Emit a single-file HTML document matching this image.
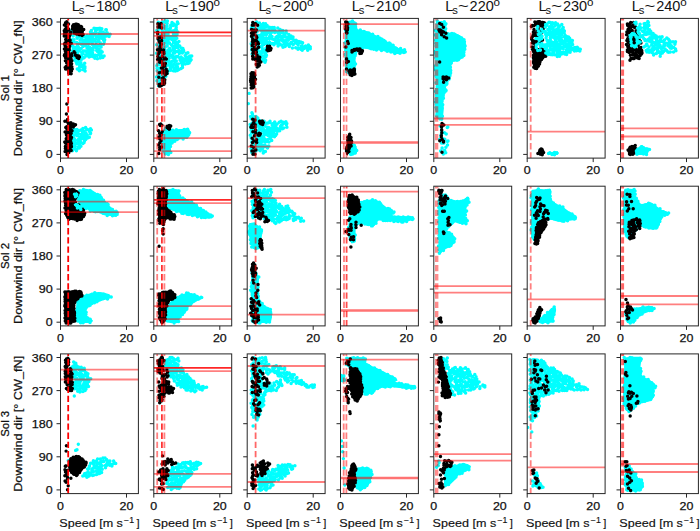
<!DOCTYPE html><html><head><meta charset="utf-8"><style>html,body{margin:0;padding:0;background:#fff;}svg{display:block;}text{font-family:"Liberation Sans", sans-serif;fill:#111;stroke:#111;stroke-width:0.25px;}</style></head><body>
<svg width="700" height="531" viewBox="0 0 700 531">
<rect x="0" y="0" width="700" height="531" fill="#fff"/>
<defs>
<clipPath id="c00"><rect x="60.5" y="18.4" width="77.9" height="139.7"/></clipPath>
<clipPath id="c01"><rect x="153.8" y="18.4" width="77.9" height="139.7"/></clipPath>
<clipPath id="c02"><rect x="247.2" y="18.4" width="77.9" height="139.7"/></clipPath>
<clipPath id="c03"><rect x="340.5" y="18.4" width="77.9" height="139.7"/></clipPath>
<clipPath id="c04"><rect x="433.8" y="18.4" width="77.9" height="139.7"/></clipPath>
<clipPath id="c05"><rect x="527.2" y="18.4" width="77.9" height="139.7"/></clipPath>
<clipPath id="c06"><rect x="620.5" y="18.4" width="77.9" height="139.7"/></clipPath>
<clipPath id="c10"><rect x="60.5" y="186.2" width="77.9" height="139.7"/></clipPath>
<clipPath id="c11"><rect x="153.8" y="186.2" width="77.9" height="139.7"/></clipPath>
<clipPath id="c12"><rect x="247.2" y="186.2" width="77.9" height="139.7"/></clipPath>
<clipPath id="c13"><rect x="340.5" y="186.2" width="77.9" height="139.7"/></clipPath>
<clipPath id="c14"><rect x="433.8" y="186.2" width="77.9" height="139.7"/></clipPath>
<clipPath id="c15"><rect x="527.2" y="186.2" width="77.9" height="139.7"/></clipPath>
<clipPath id="c16"><rect x="620.5" y="186.2" width="77.9" height="139.7"/></clipPath>
<clipPath id="c20"><rect x="60.5" y="353.9" width="77.9" height="139.7"/></clipPath>
<clipPath id="c21"><rect x="153.8" y="353.9" width="77.9" height="139.7"/></clipPath>
<clipPath id="c22"><rect x="247.2" y="353.9" width="77.9" height="139.7"/></clipPath>
<clipPath id="c23"><rect x="340.5" y="353.9" width="77.9" height="139.7"/></clipPath>
<clipPath id="c24"><rect x="433.8" y="353.9" width="77.9" height="139.7"/></clipPath>
<clipPath id="c25"><rect x="527.2" y="353.9" width="77.9" height="139.7"/></clipPath>
<clipPath id="c26"><rect x="620.5" y="353.9" width="77.9" height="139.7"/></clipPath>
</defs>
<g clip-path="url(#c00)">
<path d="M94.0 28.2h0M95.9 28.5h0M98.1 28.5h0M99.9 28.3h0M101.8 28.8h0M105.8 29.7h0M106.3 29.7h0M71.3 30.8h0M91.0 31.5h0M91.4 30.4h0M95.4 31.0h0M96.6 29.9h0M99.8 29.8h0M100.7 31.8h0M106.1 30.1h0M70.9 33.3h0M72.8 32.1h0M90.5 32.1h0M92.8 33.6h0M95.8 32.5h0M99.1 32.9h0M100.0 32.5h0M103.1 32.0h0M105.5 33.6h0M107.2 32.7h0M71.0 34.2h0M74.9 33.8h0M87.1 35.5h0M90.4 34.7h0M92.1 34.0h0M94.8 34.8h0M97.8 35.7h0M99.9 35.5h0M101.5 34.5h0M103.8 34.8h0M106.8 34.1h0M108.6 35.6h0M110.1 34.3h0M73.1 36.1h0M77.0 37.2h0M79.5 36.7h0M83.9 36.4h0M85.7 37.0h0M89.4 36.8h0M91.1 37.3h0M92.6 36.8h0M96.3 36.5h0M98.8 36.7h0M99.6 37.8h0M102.6 37.3h0M104.1 37.4h0M106.5 36.0h0M109.1 36.6h0M72.1 39.7h0M74.0 39.7h0M77.2 38.2h0M81.3 38.3h0M82.3 39.7h0M85.8 39.7h0M87.4 38.1h0M89.3 39.7h0M91.6 39.4h0M94.0 39.5h0M96.0 38.5h0M99.0 39.7h0M102.3 38.5h0M103.7 39.2h0M72.2 40.2h0M80.1 40.3h0M82.6 40.2h0M83.8 40.3h0M85.8 41.3h0M88.7 40.0h0M91.2 40.7h0M93.5 41.2h0M94.9 40.7h0M97.1 41.7h0M103.5 40.1h0M104.7 39.8h0M72.1 41.8h0M73.9 41.8h0M76.7 42.5h0M79.1 43.5h0M80.1 43.4h0M82.9 42.5h0M85.7 43.7h0M88.1 42.2h0M89.0 41.9h0M91.9 41.8h0M96.2 42.4h0M100.2 42.8h0M104.2 42.0h0M72.0 45.2h0M77.5 45.6h0M81.1 44.3h0M83.6 45.1h0M85.8 44.7h0M88.4 44.0h0M91.8 44.2h0M92.6 44.5h0M95.2 45.2h0M98.3 45.7h0M101.1 44.3h0M103.4 44.2h0M72.4 45.9h0M73.9 46.9h0M76.7 47.0h0M78.4 47.2h0M83.0 46.4h0M86.0 46.0h0M88.4 46.9h0M89.8 47.6h0M93.3 47.7h0M93.8 46.7h0M97.8 45.7h0M101.1 46.9h0M73.3 48.1h0M75.0 49.0h0M78.2 48.4h0M81.1 48.6h0M87.1 48.3h0M88.4 49.1h0M91.6 49.7h0M92.7 47.9h0M96.5 48.3h0M98.9 48.9h0M72.2 51.0h0M73.7 51.0h0M76.7 50.3h0M78.3 50.2h0M80.1 50.9h0M83.6 50.9h0M84.9 51.0h0M89.0 51.3h0M93.1 50.3h0M96.7 50.4h0M99.7 51.0h0M101.1 51.0h0M73.3 52.8h0M77.5 52.3h0M81.1 52.0h0M86.7 51.8h0M89.7 53.2h0M91.0 52.0h0M92.6 53.2h0M97.7 51.8h0M100.9 52.1h0M102.2 52.1h0M71.7 54.0h0M73.5 55.0h0M75.8 54.7h0M77.7 54.8h0M81.7 54.9h0M82.7 53.9h0M85.6 54.8h0M88.2 53.7h0M89.3 54.9h0M92.5 55.1h0M95.4 55.2h0M97.1 55.7h0M98.9 54.2h0M101.0 55.0h0M72.8 55.8h0M74.8 57.5h0M79.6 56.8h0M82.8 57.5h0M84.1 57.7h0M86.1 56.1h0M89.1 56.9h0M91.2 56.3h0M93.3 56.8h0M94.8 55.8h0M100.6 56.3h0M102.8 57.5h0M104.1 56.1h0M76.5 59.6h0M78.4 58.0h0M82.3 58.6h0M94.9 58.2h0M97.4 58.7h0M100.2 57.9h0M74.6 60.3h0M76.8 60.6h0M78.8 60.5h0M81.1 60.2h0M76.3 62.4h0M79.0 62.0h0M81.0 63.2h0M84.7 63.3h0M76.9 64.1h0M79.7 65.2h0M83.0 65.6h0M79.5 67.2h0M82.5 67.0h0M84.9 66.7h0M77.3 69.1h0M78.8 69.1h0M84.9 68.0h0M79.3 70.7h0M80.1 69.9h0M83.3 69.7h0M85.1 71.0h0" stroke="#00ffff" stroke-width="3.5" stroke-linecap="round" fill="none"/>
<path d="M85.6 127.6h0M70.7 129.2h0M72.3 128.5h0M74.2 129.3h0M77.0 129.6h0M82.9 128.4h0M87.4 129.4h0M90.5 128.8h0M71.0 129.8h0M75.9 131.5h0M78.8 130.7h0M80.9 130.0h0M82.7 131.6h0M84.0 131.3h0M86.5 129.8h0M89.6 131.5h0M91.4 130.1h0M72.1 131.9h0M74.2 132.1h0M77.4 133.5h0M82.4 132.1h0M82.9 132.1h0M86.0 133.2h0M90.6 133.3h0M70.8 134.2h0M73.2 135.2h0M76.0 134.7h0M78.6 134.1h0M81.1 134.5h0M81.6 134.8h0M84.8 134.2h0M87.2 135.1h0M90.4 133.7h0M70.3 135.9h0M71.6 136.7h0M73.8 137.4h0M77.1 135.8h0M79.9 137.3h0M82.2 135.7h0M82.9 136.0h0M85.2 137.0h0M89.3 137.2h0M70.5 137.9h0M72.9 138.7h0M74.9 139.5h0M78.6 139.2h0M81.2 138.8h0M83.0 138.2h0M85.7 139.4h0M87.5 138.0h0M72.9 140.5h0M74.6 141.3h0M77.6 140.6h0M78.2 141.2h0M80.7 140.8h0M84.5 140.9h0M72.9 142.3h0M75.7 143.5h0M77.6 143.6h0M80.8 142.8h0M83.0 143.6h0M84.1 142.6h0M72.2 145.2h0M74.2 144.0h0M76.0 143.8h0M79.5 144.2h0M71.4 146.5h0M72.9 147.4h0M75.0 145.9h0M78.2 146.9h0M80.9 146.2h0M72.9 148.8h0M75.1 148.7h0M76.9 149.2h0M79.3 147.9h0M72.5 150.7h0M76.4 150.8h0" stroke="#00ffff" stroke-width="3.5" stroke-linecap="round" fill="none"/>
<path d="M65.6 22.7h0M66.8 21.8h0M66.3 23.7h0M68.5 23.9h0M64.4 24.9h0M66.1 26.8h0M67.7 27.9h0M65.1 29.5h0M68.6 29.3h0M64.3 30.8h0M65.6 30.6h0M67.0 30.8h0M68.7 30.1h0M64.8 32.5h0M70.8 32.2h0M64.4 33.9h0M65.8 33.9h0M67.4 33.8h0M69.1 33.9h0M70.6 33.1h0M64.8 35.2h0M70.1 34.4h0M64.3 36.1h0M65.6 36.1h0M67.6 35.9h0M69.4 36.5h0M67.0 37.6h0M68.0 37.4h0M65.7 39.4h0M69.0 38.5h0M66.2 40.8h0M70.1 40.3h0M67.0 42.2h0M68.7 41.3h0M65.1 42.9h0M65.9 42.9h0M67.7 43.2h0M69.4 42.7h0M71.2 43.2h0M64.5 44.1h0M69.2 44.2h0M65.1 45.8h0M69.6 46.0h0M65.5 46.7h0M67.0 47.5h0M69.3 47.8h0M64.4 49.0h0M66.5 48.7h0M67.1 49.6h0M69.3 49.9h0M65.4 51.6h0M66.4 51.4h0M66.0 52.9h0M67.2 53.2h0M68.6 52.4h0M64.8 54.5h0M66.7 54.7h0M71.8 53.8h0M64.4 55.6h0M65.4 55.7h0M67.1 55.9h0M69.3 55.0h0M70.8 55.9h0M71.8 55.8h0M65.4 57.4h0M66.1 57.2h0M68.2 57.3h0M70.1 56.5h0M71.0 58.7h0M68.1 59.2h0M71.3 60.3h0M65.4 60.8h0M67.5 60.9h0M70.1 61.1h0M71.8 60.7h0M66.7 63.0h0M68.1 62.4h0M69.3 62.4h0M67.7 63.5h0M70.3 63.7h0M71.6 63.8h0M68.0 65.3h0M66.1 66.5h0M67.3 66.2h0M69.4 66.7h0M71.1 66.2h0M71.8 66.8h0M65.2 67.5h0M67.0 67.7h0M67.9 68.1h0M70.8 67.6h0M65.6 69.1h0M69.5 68.9h0M70.9 69.7h0M72.2 69.1h0M68.4 70.6h0M71.4 71.2h0M68.7 73.1h0M69.8 73.6h0M71.1 73.7h0" stroke="#000" stroke-width="3.5" stroke-linecap="round" fill="none"/>
<path d="M73.5 24.8h0M75.5 24.3h0M76.8 24.3h0M78.3 24.8h0M72.7 26.1h0M74.5 25.8h0M75.8 25.5h0M78.1 25.7h0M79.0 25.8h0M81.1 26.5h0M72.7 26.9h0M73.5 27.3h0M75.9 27.9h0M77.3 27.3h0M78.9 27.9h0M80.4 27.7h0M81.6 26.9h0M72.5 29.1h0M74.9 29.3h0M77.7 29.0h0M79.2 28.4h0M80.6 28.6h0M75.2 29.6h0M76.8 30.4h0M78.7 29.8h0M79.7 30.3h0M82.4 30.6h0M83.7 29.6h0M74.1 31.5h0M75.9 31.7h0M79.8 31.6h0M81.4 31.9h0M82.3 31.8h0M74.2 32.9h0M75.3 33.2h0M77.1 32.7h0M78.8 32.9h0M82.0 32.9h0M76.5 34.0h0M77.4 34.1h0M79.3 34.8h0M81.1 34.4h0M83.1 34.5h0M82.1 35.4h0" stroke="#000" stroke-width="3.5" stroke-linecap="round" fill="none"/>
<path d="M74.1 51.7h0M74.9 52.9h0M75.5 55.2h0M77.2 55.7h0M78.7 56.0h0M77.1 57.4h0M79.4 57.0h0M78.7 58.5h0" stroke="#000" stroke-width="3.5" stroke-linecap="round" fill="none"/>
<path d="M67.5 119.6h0M64.9 121.3h0M66.7 121.1h0M67.8 122.3h0M70.9 122.8h0M68.4 123.7h0M70.1 123.5h0M73.4 124.0h0M69.0 125.5h0M72.3 125.1h0M74.5 125.5h0M75.5 124.8h0M66.7 126.7h0M69.9 127.1h0M71.5 126.1h0M73.3 126.9h0M65.8 127.5h0M70.8 127.5h0M66.9 129.1h0M68.9 129.8h0M68.1 131.1h0M71.2 130.4h0M72.0 130.7h0M65.1 131.9h0M68.0 132.3h0M68.2 133.4h0M69.1 133.2h0M71.2 133.3h0M66.4 134.8h0M68.5 135.4h0M70.3 134.9h0M67.9 136.2h0M69.3 136.8h0M67.0 137.4h0M68.3 137.4h0M70.0 137.7h0M71.5 137.6h0M66.2 138.7h0M67.4 139.6h0M70.9 138.9h0M66.9 140.3h0M68.6 140.0h0M70.4 140.0h0M64.8 142.1h0M66.1 141.7h0M67.6 142.2h0M70.7 141.7h0M65.4 143.1h0M66.8 143.5h0M68.2 143.2h0M70.1 143.0h0M71.4 143.5h0M65.4 146.5h0M68.6 146.3h0M70.5 145.5h0M71.2 145.7h0M66.6 147.1h0M71.4 146.8h0M65.4 148.6h0M66.8 149.2h0M68.6 149.1h0M70.0 149.0h0M66.1 150.1h0M67.4 150.2h0M68.8 150.1h0M71.2 150.6h0M65.1 151.6h0M67.2 151.2h0M67.5 153.2h0M68.8 152.5h0M67.0 154.4h0" stroke="#000" stroke-width="3.5" stroke-linecap="round" fill="none"/>
<path d="M66.8 104.0h0M66.4 114.0h0" stroke="#000" stroke-width="3.4" stroke-linecap="round" fill="none"/>
<line x1="60.5" x2="138.4" y1="34" y2="34" stroke="#ff0000" stroke-opacity="0.5" stroke-width="1.8"/>
<line x1="60.5" x2="138.4" y1="44" y2="44" stroke="#ff0000" stroke-opacity="0.5" stroke-width="1.8"/>
<line x1="68.2" x2="68.2" y1="158.6" y2="18.4" stroke="#ff0000" stroke-opacity="1.0" stroke-width="1.8" stroke-dasharray="6.3 2.9"/>
</g>
<rect x="60.5" y="18.4" width="77.9" height="139.7" fill="none" stroke="#262626" stroke-width="1"/>
<line x1="56.5" x2="60.5" y1="154.4" y2="154.4" stroke="#262626" stroke-width="1"/>
<text x="52.7" y="158.4" font-size="11.4" text-anchor="end" textLength="6.9" lengthAdjust="spacingAndGlyphs">0</text>
<line x1="56.5" x2="60.5" y1="121.3" y2="121.3" stroke="#262626" stroke-width="1"/>
<text x="52.7" y="125.3" font-size="11.4" text-anchor="end" textLength="14" lengthAdjust="spacingAndGlyphs">90</text>
<line x1="56.5" x2="60.5" y1="88.2" y2="88.2" stroke="#262626" stroke-width="1"/>
<text x="52.7" y="92.2" font-size="11.4" text-anchor="end" textLength="21" lengthAdjust="spacingAndGlyphs">180</text>
<line x1="56.5" x2="60.5" y1="55.1" y2="55.1" stroke="#262626" stroke-width="1"/>
<text x="52.7" y="59.1" font-size="11.4" text-anchor="end" textLength="21" lengthAdjust="spacingAndGlyphs">270</text>
<line x1="56.5" x2="60.5" y1="22" y2="22" stroke="#262626" stroke-width="1"/>
<text x="52.7" y="26" font-size="11.4" text-anchor="end" textLength="21" lengthAdjust="spacingAndGlyphs">360</text>
<line x1="60.5" x2="60.5" y1="158.1" y2="162.1" stroke="#262626" stroke-width="1"/>
<text x="60.5" y="174.3" font-size="11.4" text-anchor="middle" textLength="6.9" lengthAdjust="spacingAndGlyphs">0</text>
<line x1="126.5" x2="126.5" y1="158.1" y2="162.1" stroke="#262626" stroke-width="1"/>
<text x="126.5" y="174.3" font-size="11.4" text-anchor="middle" textLength="13.8" lengthAdjust="spacingAndGlyphs">20</text>
<text y="11.4" font-size="14.6" style="stroke:none"><tspan x="71.8">L</tspan><tspan x="78.8" y="13.7" font-size="11.2">s</tspan><tspan x="84.7" y="11.4" textLength="10.8" lengthAdjust="spacingAndGlyphs">~</tspan><tspan x="96.2" textLength="24.2" lengthAdjust="spacingAndGlyphs">180</tspan><tspan x="120.2" y="6.4" font-size="11.6">o</tspan></text>
<g clip-path="url(#c01)">
<path d="M165.2 20.8h0M158.3 22.3h0M162.5 21.9h0M165.7 22.4h0M167.4 21.0h0M172.0 22.4h0M177.4 22.1h0M158.6 24.0h0M160.4 23.3h0M162.3 24.1h0M167.1 23.6h0M172.0 23.3h0M173.9 24.1h0M176.3 25.0h0M178.0 23.6h0M158.0 26.1h0M160.3 26.9h0M163.5 26.1h0M166.2 26.3h0M167.0 26.1h0M170.7 25.2h0M173.1 25.5h0M175.8 25.2h0M176.2 25.5h0M158.1 28.0h0M160.6 28.6h0M162.3 28.5h0M164.2 27.6h0M166.2 27.6h0M170.0 27.9h0M170.5 27.7h0M176.2 27.4h0M156.8 30.5h0M159.5 29.1h0M161.9 29.1h0M165.8 30.0h0M167.0 29.2h0M170.4 30.6h0M173.3 30.7h0M175.6 29.5h0M176.3 29.7h0M157.4 31.9h0M162.5 31.3h0M165.3 32.4h0M167.0 32.9h0M168.9 31.4h0M171.7 31.5h0M173.5 32.9h0M175.2 32.9h0M177.8 32.0h0M158.0 34.6h0M161.0 35.0h0M164.3 34.1h0M165.6 34.3h0M168.1 34.1h0M173.5 34.2h0M173.9 34.6h0M177.0 34.7h0M158.2 35.3h0M159.1 36.7h0M162.9 35.6h0M163.7 35.5h0M167.0 35.6h0M169.4 36.8h0M171.2 36.8h0M174.2 36.2h0M175.5 36.4h0M158.3 38.7h0M161.9 37.1h0M162.7 38.0h0M166.1 37.6h0M167.6 37.3h0M171.0 38.8h0M171.8 37.9h0M174.2 37.5h0M176.8 38.2h0M158.4 39.6h0M159.7 40.4h0M161.7 39.5h0M164.6 40.4h0M167.2 39.8h0M169.2 39.0h0M172.0 39.5h0M172.7 39.6h0M175.3 39.4h0M159.7 41.6h0M160.6 41.0h0M162.3 42.1h0M166.4 41.9h0M168.2 41.8h0M169.5 43.0h0M173.5 41.7h0M174.3 42.3h0M176.7 42.6h0M178.9 41.4h0M156.7 44.8h0M160.4 43.3h0M162.4 43.6h0M164.2 43.6h0M167.3 43.2h0M169.6 43.3h0M171.4 44.9h0M173.7 43.0h0M175.6 44.1h0M177.6 44.3h0M159.5 45.3h0M161.1 45.1h0M163.0 46.8h0M166.6 46.2h0M167.2 45.9h0M172.7 46.6h0M174.5 46.5h0M176.2 45.0h0M179.7 46.1h0M158.1 48.6h0M160.2 47.7h0M163.1 47.2h0M163.8 47.0h0M169.7 48.4h0M173.3 48.5h0M175.4 47.8h0M177.8 47.6h0M181.3 47.9h0M182.9 48.4h0M158.7 49.0h0M161.5 49.6h0M163.9 50.8h0M164.6 48.9h0M168.1 50.1h0M170.2 50.6h0M172.9 50.2h0M174.7 50.4h0M178.8 50.2h0M182.3 50.7h0M183.5 50.3h0M160.0 52.2h0M163.0 52.4h0M165.4 52.1h0M167.8 50.9h0M169.2 51.6h0M170.4 51.3h0M173.9 50.9h0M176.0 51.5h0M178.5 51.4h0M179.9 51.4h0M183.7 51.2h0M187.9 52.8h0M156.5 53.2h0M158.5 54.1h0M161.2 53.5h0M166.7 54.4h0M167.5 53.2h0M169.7 54.6h0M173.4 53.3h0M174.8 53.1h0M179.3 53.6h0M182.3 53.1h0M186.1 53.6h0M187.6 53.1h0M158.5 56.3h0M160.7 56.0h0M162.0 56.5h0M164.7 54.9h0M167.8 55.8h0M169.3 55.8h0M171.4 55.6h0M173.4 56.5h0M176.4 56.5h0M177.8 56.4h0M181.1 56.9h0M185.2 55.5h0M190.0 55.9h0M191.7 56.1h0M161.8 58.1h0M163.0 56.9h0M165.2 57.1h0M169.3 58.0h0M172.7 57.7h0M175.0 58.6h0M176.4 57.1h0M179.7 58.0h0M182.3 58.3h0M184.8 58.7h0M186.7 57.6h0M188.2 57.1h0M190.2 58.7h0M160.4 59.4h0M161.2 59.7h0M165.1 60.0h0M167.6 59.7h0M169.0 60.9h0M174.6 59.4h0M175.0 60.0h0M180.1 60.2h0M182.9 59.5h0M185.3 60.2h0M188.1 60.0h0M188.9 60.0h0M191.1 59.8h0M159.1 61.9h0M160.7 61.8h0M163.1 61.3h0M165.7 60.9h0M168.0 61.3h0M169.5 62.1h0M172.3 61.3h0M175.4 61.6h0M176.3 61.1h0M182.1 62.3h0M183.6 61.4h0M187.2 61.7h0M188.3 62.2h0M190.2 60.9h0M157.4 64.4h0M160.0 63.8h0M162.8 62.9h0M163.9 62.9h0M165.8 63.7h0M169.2 64.6h0M170.7 64.0h0M173.7 64.3h0M176.8 64.2h0M178.1 64.0h0M181.2 63.0h0M183.1 63.4h0M185.3 63.9h0M187.8 63.6h0M189.1 63.0h0M156.8 65.8h0M157.8 64.9h0M160.4 64.8h0M163.3 65.7h0M166.5 65.6h0M169.7 65.7h0M173.0 66.3h0M176.3 65.2h0M182.4 65.8h0M157.1 68.2h0M159.3 68.5h0M162.4 68.5h0M165.3 67.9h0M165.8 68.6h0M170.1 68.6h0M171.1 67.7h0M174.3 68.1h0M176.2 67.9h0M177.6 67.3h0M181.1 68.4h0M182.5 67.6h0M157.1 70.8h0M160.2 70.8h0M164.1 69.0h0M166.2 69.9h0M167.5 70.5h0M170.6 70.2h0M173.3 70.7h0M177.3 70.5h0M178.9 69.6h0M158.1 71.7h0M159.5 72.2h0M161.7 72.2h0M164.6 71.7h0M168.1 70.9h0M174.2 70.8h0M175.3 71.1h0M158.9 74.8h0M163.7 74.1h0M164.6 74.7h0M167.5 73.3h0M158.6 76.4h0M159.8 75.5h0M161.6 76.4h0M164.6 76.5h0M165.9 76.3h0M156.5 76.9h0M159.2 77.7h0M160.2 78.0h0M163.7 77.3h0M158.5 80.6h0M159.3 79.1h0M162.0 79.6h0M163.9 78.9h0M156.9 80.7h0M158.2 82.3h0M158.2 83.2h0M160.1 82.7h0M161.7 83.3h0M158.6 85.5h0" stroke="#00ffff" stroke-width="3.5" stroke-linecap="round" fill="none"/>
<path d="M164.6 126.6 L171.3 130.0 L178.1 129.3 L184.9 128.7 L188.3 128.7 L190.6 131.4 L190.3 135.4 L187.6 138.4 L180.8 139.2 L175.4 140.9 L172.0 143.6 L170.7 147.6 L171.3 151.7 L170.0 154.4 L164.6 155.1 L162.5 151.7 L161.8 142.2 L162.5 132.7 Z" fill="#00ffff"/><path d="M166.1 128.1h0M187.6 129.2h0M165.0 130.0h0M168.2 130.4h0M169.9 129.8h0M172.8 130.2h0M176.4 129.8h0M179.5 130.7h0M184.2 129.6h0M186.0 129.9h0M187.9 129.9h0M164.7 133.1h0M166.5 131.4h0M168.0 131.3h0M171.8 132.8h0M174.1 131.9h0M175.5 131.7h0M178.9 132.5h0M180.9 131.8h0M183.2 132.1h0M183.9 132.3h0M186.5 131.9h0M189.6 132.8h0M166.2 134.6h0M166.7 133.9h0M169.8 133.8h0M172.2 135.2h0M174.6 133.3h0M176.7 133.8h0M178.3 134.2h0M182.0 134.8h0M183.8 135.2h0M186.4 135.1h0M188.2 133.5h0M164.6 137.1h0M165.8 136.3h0M168.2 136.7h0M171.5 135.9h0M172.9 136.3h0M176.6 136.5h0M178.3 135.3h0M180.2 135.8h0M181.5 135.4h0M184.6 136.1h0M186.3 136.2h0M163.6 137.9h0M164.6 139.1h0M166.9 139.3h0M170.0 137.6h0M172.4 139.0h0M174.3 138.7h0M177.3 137.6h0M178.4 137.6h0M183.1 138.9h0M186.6 137.3h0M162.4 140.6h0M164.4 140.0h0M166.8 139.8h0M169.1 140.7h0M171.4 139.8h0M174.0 140.0h0M177.2 139.4h0M162.0 143.1h0M165.1 142.6h0M166.7 141.5h0M169.7 141.9h0M172.1 142.9h0M174.8 141.2h0M162.8 143.8h0M164.7 144.9h0M166.2 145.2h0M169.8 143.3h0M170.3 143.5h0M165.4 146.0h0M167.0 145.7h0M170.5 146.4h0M163.8 148.7h0M167.0 148.9h0M167.8 148.2h0M163.2 150.9h0M165.0 149.2h0M169.4 150.3h0M164.8 151.8h0M166.9 152.9h0M168.2 152.3h0M170.8 152.6h0M165.4 154.1h0M168.4 154.5h0" stroke="#00ffff" stroke-width="3.5" stroke-linecap="round" fill="none"/>
<path d="M157.9 23.8h0M161.0 23.5h0M159.2 24.6h0M159.0 25.7h0M158.1 27.1h0M160.2 27.0h0M161.5 27.7h0M157.7 32.2h0M157.6 33.5h0M158.2 37.7h0M160.0 37.2h0M160.7 37.0h0M158.1 39.1h0M161.6 38.1h0M159.1 41.3h0M161.6 40.8h0M159.7 42.5h0M161.4 44.2h0M160.7 45.0h0M160.0 46.8h0M159.6 48.7h0M160.6 48.3h0M157.5 49.8h0M160.5 49.4h0M163.6 50.0h0M162.4 51.1h0M159.0 52.3h0M160.3 52.0h0M163.8 51.9h0M158.4 54.0h0M163.9 53.4h0M157.8 56.6h0M162.2 56.5h0M159.8 58.4h0M165.1 58.1h0M157.6 59.4h0M160.9 59.3h0M164.4 59.1h0M166.3 59.0h0M160.0 61.0h0M161.8 60.9h0M159.7 62.3h0M161.2 61.9h0M162.3 63.2h0M165.4 63.4h0M162.7 65.1h0M164.8 66.1h0M161.4 68.0h0M162.8 67.5h0M162.2 68.5h0M166.2 69.2h0M164.6 70.7h0M161.8 72.1h0M163.0 71.3h0M167.1 71.3h0M159.3 72.7h0M163.9 73.0h0M165.8 73.7h0M167.0 73.4h0M165.3 75.1h0M158.8 77.2h0M163.2 77.8h0M162.2 78.5h0M162.3 80.3h0M164.8 79.8h0M164.5 81.5h0M164.0 83.4h0M164.6 82.9h0M159.1 84.4h0M160.7 83.9h0M162.5 83.8h0M164.0 84.2h0M159.2 86.1h0M160.5 85.9h0M161.8 85.3h0" stroke="#000" stroke-width="3.5" stroke-linecap="round" fill="none"/>
<path d="M159.6 124.4h0M160.7 124.1h0M160.3 125.5h0M161.9 125.3h0M158.5 130.8h0M162.2 131.5h0M159.6 133.2h0M159.9 134.1h0M161.5 134.5h0M160.7 135.8h0M159.0 136.9h0M159.8 139.1h0M161.0 140.7h0M159.8 142.7h0M158.8 144.9h0M161.5 147.1h0M159.7 147.8h0M159.7 149.8h0M158.8 153.5h0" stroke="#000" stroke-width="3.5" stroke-linecap="round" fill="none"/>
<path d="M165.9 125.3 L170.0 124.9 L171.3 126.6 L170.7 130.0 L168.6 130.7 L166.6 128.7 Z" fill="#000"/><path d="M167.2 126.3h0M169.2 125.6h0M170.7 126.1h0M167.1 127.6h0M168.4 127.0h0M169.5 127.7h0M168.0 128.3h0M169.4 129.0h0" stroke="#000" stroke-width="3.5" stroke-linecap="round" fill="none"/>
<line x1="153.8" x2="231.7" y1="32.4" y2="32.4" stroke="#ff0000" stroke-opacity="0.85" stroke-width="1.8"/>
<line x1="153.8" x2="231.7" y1="35.9" y2="35.9" stroke="#ff0000" stroke-opacity="0.5" stroke-width="1.8"/>
<line x1="153.8" x2="231.7" y1="138.2" y2="138.2" stroke="#ff0000" stroke-opacity="0.5" stroke-width="1.8"/>
<line x1="153.8" x2="231.7" y1="151.1" y2="151.1" stroke="#ff0000" stroke-opacity="0.5" stroke-width="1.8"/>
<line x1="157.2" x2="157.2" y1="158.6" y2="18.4" stroke="#ff0000" stroke-opacity="0.5" stroke-width="1.8" stroke-dasharray="6.3 2.9"/>
<line x1="161.9" x2="161.9" y1="158.6" y2="18.4" stroke="#ff0000" stroke-opacity="0.8" stroke-width="1.8" stroke-dasharray="6.3 2.9"/>
<line x1="164.4" x2="164.4" y1="158.6" y2="18.4" stroke="#ff0000" stroke-opacity="0.5" stroke-width="1.8" stroke-dasharray="6.3 2.9"/>
</g>
<rect x="153.8" y="18.4" width="77.9" height="139.7" fill="none" stroke="#262626" stroke-width="1"/>
<line x1="149.8" x2="153.8" y1="154.4" y2="154.4" stroke="#262626" stroke-width="1"/>
<line x1="149.8" x2="153.8" y1="121.3" y2="121.3" stroke="#262626" stroke-width="1"/>
<line x1="149.8" x2="153.8" y1="88.2" y2="88.2" stroke="#262626" stroke-width="1"/>
<line x1="149.8" x2="153.8" y1="55.1" y2="55.1" stroke="#262626" stroke-width="1"/>
<line x1="149.8" x2="153.8" y1="22" y2="22" stroke="#262626" stroke-width="1"/>
<line x1="153.8" x2="153.8" y1="158.1" y2="162.1" stroke="#262626" stroke-width="1"/>
<text x="153.8" y="174.3" font-size="11.4" text-anchor="middle" textLength="6.9" lengthAdjust="spacingAndGlyphs">0</text>
<line x1="219.8" x2="219.8" y1="158.1" y2="162.1" stroke="#262626" stroke-width="1"/>
<text x="219.8" y="174.3" font-size="11.4" text-anchor="middle" textLength="13.8" lengthAdjust="spacingAndGlyphs">20</text>
<text y="11.4" font-size="14.6" style="stroke:none"><tspan x="165.2">L</tspan><tspan x="172.2" y="13.7" font-size="11.2">s</tspan><tspan x="178" y="11.4" textLength="10.8" lengthAdjust="spacingAndGlyphs">~</tspan><tspan x="189.6" textLength="24.2" lengthAdjust="spacingAndGlyphs">190</tspan><tspan x="213.6" y="6.4" font-size="11.6">o</tspan></text>
<g clip-path="url(#c02)">
<path d="M256.6 22.1h0M254.4 23.5h0M257.3 22.9h0M259.5 22.9h0M263.3 23.4h0M265.6 23.8h0M252.5 24.4h0M253.9 25.1h0M257.4 24.6h0M261.6 25.0h0M263.6 25.5h0M267.1 25.4h0M251.9 27.3h0M254.1 28.3h0M254.9 28.2h0M258.6 26.5h0M261.3 26.7h0M263.3 27.9h0M264.3 27.5h0M266.4 26.8h0M269.5 27.2h0M272.1 27.4h0M274.2 27.5h0M277.8 27.9h0M251.4 28.6h0M253.6 29.3h0M257.2 29.4h0M259.8 29.7h0M260.6 30.0h0M262.8 29.7h0M265.2 30.3h0M267.6 30.1h0M270.3 28.3h0M272.7 30.2h0M274.7 29.8h0M280.1 29.5h0M253.0 32.2h0M256.5 31.1h0M257.3 31.2h0M262.1 32.0h0M265.3 31.4h0M267.6 31.6h0M269.6 31.3h0M271.9 32.3h0M274.6 31.7h0M276.9 32.1h0M279.1 31.7h0M281.7 31.1h0M282.8 30.5h0M286.1 30.9h0M252.6 33.2h0M255.0 34.0h0M255.9 32.7h0M262.3 32.8h0M264.0 33.5h0M266.5 32.6h0M268.8 32.8h0M270.4 33.9h0M274.8 32.5h0M278.4 32.7h0M279.8 33.5h0M282.9 32.9h0M285.2 33.7h0M286.2 32.8h0M253.1 35.6h0M256.3 35.4h0M258.5 35.4h0M261.0 34.7h0M262.8 36.3h0M264.4 34.6h0M266.3 34.7h0M269.8 35.9h0M277.4 36.2h0M279.2 34.6h0M280.5 35.9h0M283.3 36.3h0M285.0 35.0h0M288.8 34.6h0M291.0 36.0h0M251.6 36.4h0M255.4 37.2h0M256.4 37.8h0M258.2 37.6h0M260.4 36.5h0M263.3 37.9h0M266.2 38.0h0M269.3 37.6h0M270.6 37.6h0M272.0 36.6h0M275.9 37.2h0M277.6 38.0h0M279.1 36.8h0M281.8 37.9h0M285.3 36.7h0M287.8 37.3h0M288.3 37.0h0M293.0 37.1h0M252.4 38.9h0M258.7 39.2h0M260.1 39.4h0M261.8 38.4h0M264.7 39.2h0M267.4 38.7h0M269.4 38.8h0M272.4 39.0h0M274.4 39.8h0M278.0 40.2h0M280.3 40.1h0M283.2 39.8h0M286.4 39.9h0M287.5 39.4h0M290.7 38.6h0M292.8 38.7h0M293.8 40.0h0M296.1 40.2h0M253.9 41.7h0M257.0 41.2h0M259.0 42.2h0M262.1 41.1h0M264.3 41.9h0M266.9 41.7h0M269.3 42.2h0M269.7 42.3h0M275.9 42.1h0M276.9 40.4h0M279.0 40.3h0M282.6 40.9h0M284.5 41.0h0M285.9 41.6h0M288.3 40.3h0M291.4 42.3h0M294.1 40.8h0M296.3 40.5h0M298.9 41.4h0M300.8 42.0h0M251.2 43.8h0M253.3 42.7h0M256.1 43.3h0M258.0 43.4h0M259.8 42.6h0M262.8 43.2h0M264.9 43.1h0M266.8 43.4h0M269.4 43.5h0M272.4 43.5h0M274.8 43.3h0M276.9 43.2h0M279.1 43.3h0M280.0 44.3h0M283.9 42.4h0M284.8 44.2h0M287.7 43.7h0M289.9 43.8h0M292.0 43.4h0M295.5 42.3h0M296.4 43.2h0M300.1 42.4h0M302.6 42.8h0M252.6 44.9h0M253.7 46.0h0M257.8 44.3h0M258.9 45.6h0M262.5 45.3h0M263.9 44.5h0M269.4 46.2h0M269.9 44.4h0M273.9 44.7h0M278.1 46.0h0M281.7 45.3h0M285.3 46.2h0M287.5 44.7h0M289.9 44.3h0M293.3 44.4h0M298.1 44.7h0M301.4 46.0h0M302.0 45.5h0M305.6 46.0h0M308.4 44.9h0M309.4 46.2h0M251.9 47.5h0M253.3 47.8h0M254.9 47.4h0M257.3 46.6h0M261.2 46.7h0M262.1 47.9h0M265.9 48.2h0M268.0 46.5h0M269.4 48.3h0M283.0 47.3h0M285.0 46.5h0M289.3 46.4h0M292.4 48.0h0M295.7 47.8h0M298.1 48.0h0M299.4 48.3h0M301.2 48.1h0M303.8 47.6h0M307.2 48.3h0M309.3 47.8h0M310.3 47.1h0M251.7 50.1h0M253.6 49.7h0M258.2 48.6h0M262.4 49.1h0M267.5 49.0h0M298.0 49.2h0M301.3 49.6h0M302.2 48.6h0M304.2 48.5h0M307.7 50.3h0M310.3 48.7h0M256.0 51.1h0M258.0 51.1h0M260.6 51.8h0M264.6 50.6h0M266.6 51.2h0M302.2 50.3h0M252.1 53.9h0M255.2 52.3h0M257.1 53.6h0M261.0 52.9h0M263.0 52.3h0M265.5 53.2h0M254.2 54.5h0M256.6 54.6h0M258.1 54.7h0M259.5 54.6h0M262.2 55.7h0M265.1 55.0h0M266.5 55.2h0M258.1 57.4h0M260.8 57.5h0M264.7 56.9h0M266.0 56.5h0M259.8 59.1h0M263.1 58.9h0M265.6 60.1h0M260.7 61.1h0M263.6 60.9h0M265.6 60.6h0M265.0 62.2h0" stroke="#00ffff" stroke-width="3.5" stroke-linecap="round" fill="none"/>
<path d="M251.9 112.8h0M252.5 114.0h0M252.7 116.0h0M250.6 116.6h0M254.2 116.8h0M256.0 116.5h0M257.8 117.9h0M251.2 118.7h0M255.0 118.3h0M257.4 119.5h0M258.3 120.1h0M254.7 121.0h0M257.1 121.1h0M260.2 120.7h0M263.0 122.3h0M264.1 121.2h0M270.0 121.2h0M274.7 122.0h0M281.1 121.3h0M283.2 122.3h0M285.9 121.8h0M252.2 123.0h0M255.4 124.1h0M256.1 123.8h0M258.1 123.6h0M264.1 124.0h0M266.3 123.3h0M267.9 123.1h0M270.1 122.5h0M273.3 123.4h0M274.4 122.7h0M277.1 124.0h0M279.3 122.3h0M284.9 123.1h0M286.8 123.4h0M250.1 124.5h0M253.5 125.4h0M255.4 125.7h0M257.3 126.0h0M260.1 125.4h0M261.6 125.5h0M264.1 125.6h0M272.2 125.1h0M274.4 125.7h0M276.0 125.3h0M281.2 125.2h0M282.6 124.3h0M286.4 124.7h0M250.5 126.6h0M251.3 126.4h0M255.2 126.9h0M256.1 127.3h0M259.9 127.1h0M260.8 127.5h0M263.3 128.1h0M266.6 127.1h0M268.6 127.5h0M270.2 128.2h0M272.9 127.0h0M275.3 127.5h0M277.1 128.2h0M280.6 126.3h0M281.8 127.5h0M283.7 127.9h0M286.9 127.3h0M251.2 128.5h0M253.2 130.1h0M255.5 129.3h0M259.5 128.7h0M261.9 128.6h0M263.9 129.9h0M267.5 128.3h0M268.4 130.2h0M271.7 129.5h0M273.1 128.5h0M276.8 129.3h0M278.4 129.7h0M280.2 128.5h0M282.5 128.7h0M251.2 130.3h0M254.1 130.3h0M256.1 131.2h0M258.6 130.5h0M261.6 130.5h0M263.2 130.6h0M266.2 130.7h0M268.6 132.2h0M271.3 131.3h0M273.7 131.1h0M274.6 130.8h0M277.5 131.2h0M279.7 130.8h0M251.6 133.1h0M254.0 132.9h0M258.0 132.7h0M260.7 133.8h0M263.9 132.8h0M267.0 133.1h0M270.3 132.6h0M270.8 134.1h0M273.6 132.7h0M276.6 133.9h0M250.3 135.2h0M255.1 134.5h0M257.3 136.2h0M258.4 135.5h0M261.0 135.8h0M264.1 135.2h0M266.6 134.5h0M268.1 135.6h0M271.0 135.6h0M272.7 135.6h0M275.6 135.4h0M251.2 137.8h0M256.0 136.9h0M258.5 136.4h0M260.2 137.7h0M263.3 137.5h0M263.9 137.6h0M270.3 137.8h0M271.3 137.1h0M274.5 136.8h0M251.6 138.5h0M254.9 139.4h0M258.9 138.2h0M260.2 139.0h0M262.9 138.4h0M265.0 139.5h0M267.8 139.4h0M269.9 138.3h0M251.8 141.8h0M253.3 142.1h0M258.3 141.4h0M259.1 141.0h0M262.1 141.4h0M264.6 140.4h0M267.6 141.6h0M269.0 142.0h0M271.7 140.6h0M251.9 142.6h0M253.5 144.0h0M256.3 142.6h0M259.1 143.4h0M260.8 143.3h0M265.1 142.3h0M253.3 146.1h0M256.3 145.6h0M257.6 145.6h0M259.5 145.7h0M262.4 144.9h0M265.0 145.4h0M266.3 146.2h0M268.8 145.9h0M252.8 146.7h0M254.9 147.3h0M256.2 148.0h0M258.3 146.8h0M260.8 147.5h0M262.8 147.9h0M265.5 146.6h0M267.5 148.1h0M251.2 148.4h0M252.2 148.2h0M256.4 148.5h0M259.5 150.0h0M262.4 148.7h0M251.6 150.2h0M254.9 151.4h0M255.9 150.9h0M260.2 150.7h0M263.8 151.3h0M265.4 151.4h0M251.8 152.5h0M253.4 153.4h0M263.3 152.9h0" stroke="#00ffff" stroke-width="3.5" stroke-linecap="round" fill="none"/>
<path d="M249.1 93.4h0M248.4 103.6h0" stroke="#00ffff" stroke-width="3.4" stroke-linecap="round" fill="none"/>
<path d="M252.8 22.6h0M253.9 23.5h0M255.6 23.7h0M252.3 25.2h0M254.1 24.9h0M257.6 25.3h0M251.6 29.5h0M254.0 29.9h0M256.4 30.0h0M253.2 31.4h0M254.7 30.7h0M255.6 31.4h0M251.8 32.7h0M251.4 33.3h0M254.0 33.2h0M253.1 34.8h0M251.5 36.3h0M252.1 36.0h0M256.2 36.0h0M256.8 37.4h0M252.7 38.9h0M256.0 39.7h0M253.4 40.3h0M254.9 40.5h0M256.4 40.8h0M252.4 41.6h0M254.3 41.8h0M256.1 42.2h0M257.8 42.3h0M257.1 43.6h0M258.4 43.8h0M252.4 44.5h0M255.8 44.4h0M252.2 45.7h0M254.6 47.4h0M258.6 47.3h0M252.3 49.4h0M255.0 48.8h0M256.6 49.3h0M255.7 49.8h0M253.3 51.4h0M254.7 51.8h0M256.4 52.2h0M252.9 53.3h0M254.8 53.1h0M257.0 55.0h0M252.6 56.3h0M253.2 57.2h0M256.5 56.9h0M258.3 56.9h0M259.7 57.3h0M252.8 58.9h0M255.1 59.5h0M256.7 60.4h0M258.0 59.8h0M259.4 60.0h0M258.6 60.8h0M260.8 61.9h0M256.3 64.2h0M256.9 64.0h0M258.8 64.1h0M256.8 65.2h0M258.8 66.1h0M259.4 65.2h0M257.2 67.1h0" stroke="#000" stroke-width="3.5" stroke-linecap="round" fill="none"/>
<path d="M266.7 45.8 L270.1 45.1 L271.4 47.9 L270.1 51.9 L267.4 52.6 L266.4 49.2 Z" fill="#000"/><path d="M267.5 46.3h0M269.6 46.2h0M267.7 48.0h0M268.8 47.8h0M270.0 47.8h0M268.6 49.0h0M269.8 49.1h0M271.0 48.6h0M267.0 50.1h0M268.9 50.1h0M270.5 50.0h0" stroke="#000" stroke-width="3.5" stroke-linecap="round" fill="none"/>
<path d="M251.1 71.6 L255.2 71.6 L255.6 78.3 L254.5 88.0 L251.1 88.0 L250.4 79.7 Z" fill="#000"/><path d="M251.9 72.8h0M253.2 72.9h0M251.0 73.7h0M252.3 74.3h0M254.3 73.6h0M252.1 75.3h0M254.1 75.1h0M254.8 75.2h0M251.0 76.5h0M253.0 77.4h0M254.4 77.1h0M250.8 78.8h0M252.0 78.6h0M253.7 78.7h0M251.0 79.9h0M253.2 80.1h0M254.8 79.4h0M255.5 79.2h0M250.6 80.6h0M252.3 81.6h0M253.2 80.9h0M250.8 82.0h0M253.3 82.2h0M254.3 82.1h0M251.6 83.4h0M253.1 84.3h0M254.8 83.8h0M251.2 85.0h0M252.6 85.7h0M252.3 86.8h0M253.8 87.0h0M251.2 87.9h0M252.9 87.7h0" stroke="#000" stroke-width="3.5" stroke-linecap="round" fill="none"/>
<path d="M252.7 119.3h0M254.9 120.1h0M253.9 121.9h0M253.3 123.3h0M251.9 125.0h0M255.2 124.8h0M251.6 126.3h0M251.0 127.2h0M252.8 127.4h0M255.1 127.0h0M255.6 130.3h0M252.9 131.8h0M255.7 133.1h0M254.4 135.7h0M252.2 138.3h0M256.6 139.8h0M253.8 140.9h0M252.5 142.4h0M256.7 142.6h0M251.3 146.0h0M253.4 147.3h0M255.9 149.9h0M252.0 151.1h0M253.6 151.0h0M253.0 154.2h0M255.0 154.2h0" stroke="#000" stroke-width="3.5" stroke-linecap="round" fill="none"/>
<path d="M259.2 120.5 L262.6 120.3 L264.7 122.6 L263.3 125.3 L260.2 124.6 Z" fill="#000"/><path d="M259.6 121.2h0M260.6 121.7h0M262.3 120.9h0M259.9 122.6h0M262.0 122.3h0M263.2 122.4h0M260.8 123.7h0M262.6 124.6h0" stroke="#000" stroke-width="3.5" stroke-linecap="round" fill="none"/>
<path d="M257.5 132.7 L260.2 132.5 L260.6 136.1 L258.3 137.1 Z" fill="#000"/><path d="M259.2 133.2h0M260.3 133.8h0M258.0 135.1h0M259.8 135.0h0" stroke="#000" stroke-width="3.5" stroke-linecap="round" fill="none"/>
<line x1="247.2" x2="325.1" y1="30.6" y2="30.6" stroke="#ff0000" stroke-opacity="0.5" stroke-width="1.8"/>
<line x1="247.2" x2="325.1" y1="146.6" y2="146.6" stroke="#ff0000" stroke-opacity="0.5" stroke-width="1.8"/>
<line x1="255.6" x2="255.6" y1="158.6" y2="18.4" stroke="#ff0000" stroke-opacity="0.6" stroke-width="1.8" stroke-dasharray="6.3 2.9"/>
</g>
<rect x="247.2" y="18.4" width="77.9" height="139.7" fill="none" stroke="#262626" stroke-width="1"/>
<line x1="243.2" x2="247.2" y1="154.4" y2="154.4" stroke="#262626" stroke-width="1"/>
<line x1="243.2" x2="247.2" y1="121.3" y2="121.3" stroke="#262626" stroke-width="1"/>
<line x1="243.2" x2="247.2" y1="88.2" y2="88.2" stroke="#262626" stroke-width="1"/>
<line x1="243.2" x2="247.2" y1="55.1" y2="55.1" stroke="#262626" stroke-width="1"/>
<line x1="243.2" x2="247.2" y1="22" y2="22" stroke="#262626" stroke-width="1"/>
<line x1="247.2" x2="247.2" y1="158.1" y2="162.1" stroke="#262626" stroke-width="1"/>
<text x="247.2" y="174.3" font-size="11.4" text-anchor="middle" textLength="6.9" lengthAdjust="spacingAndGlyphs">0</text>
<line x1="313.2" x2="313.2" y1="158.1" y2="162.1" stroke="#262626" stroke-width="1"/>
<text x="313.2" y="174.3" font-size="11.4" text-anchor="middle" textLength="13.8" lengthAdjust="spacingAndGlyphs">20</text>
<text y="11.4" font-size="14.6" style="stroke:none"><tspan x="258.5">L</tspan><tspan x="265.5" y="13.7" font-size="11.2">s</tspan><tspan x="271.3" y="11.4" textLength="10.8" lengthAdjust="spacingAndGlyphs">~</tspan><tspan x="282.9" textLength="24.2" lengthAdjust="spacingAndGlyphs">200</tspan><tspan x="306.9" y="6.4" font-size="11.6">o</tspan></text>
<g clip-path="url(#c03)">
<path d="M345.5 21.4 L350.2 20.5 L355.6 21.4 L356.3 28.2 L358.3 29.6 L365.1 30.6 L371.9 33.3 L377.3 36.1 L382.7 39.3 L388.1 42.0 L392.2 44.2 L399.0 48.3 L405.8 49.9 L406.9 51.9 L403.1 53.5 L394.9 53.5 L388.1 52.3 L382.7 51.0 L377.3 50.2 L370.5 49.5 L365.1 48.8 L360.4 48.8 L357.0 51.2 L355.6 56.7 L355.6 63.4 L354.9 70.2 L354.3 74.3 L350.2 75.6 L346.1 72.9 L345.0 56.7 L344.8 36.3 Z" fill="#00ffff"/><path d="M352.5 20.9h0M347.2 22.5h0M350.1 22.5h0M353.1 22.5h0M346.7 25.2h0M351.0 23.3h0M352.8 24.1h0M355.7 23.7h0M346.5 26.6h0M348.5 26.9h0M351.2 27.0h0M353.4 25.6h0M355.5 26.2h0M346.5 27.8h0M350.6 29.0h0M352.5 27.5h0M355.8 28.6h0M345.7 30.1h0M346.3 29.7h0M349.1 30.8h0M351.9 30.6h0M356.6 31.0h0M360.3 29.9h0M346.1 31.2h0M347.8 31.9h0M351.0 31.9h0M352.1 31.5h0M354.4 32.1h0M357.6 32.8h0M359.3 31.6h0M361.7 32.9h0M363.9 31.4h0M367.1 32.9h0M368.7 33.0h0M347.2 34.4h0M349.2 34.3h0M351.7 34.7h0M353.2 35.1h0M356.0 33.7h0M358.9 34.6h0M361.4 34.9h0M362.8 34.0h0M364.7 33.8h0M367.5 34.8h0M370.6 34.5h0M372.6 34.3h0M346.8 35.5h0M348.3 35.2h0M350.3 36.2h0M352.9 36.9h0M354.8 35.8h0M357.7 35.8h0M362.6 36.6h0M363.4 36.8h0M366.9 36.6h0M369.0 37.1h0M370.3 37.1h0M372.5 35.6h0M377.9 36.5h0M347.2 39.1h0M350.0 37.6h0M351.0 38.7h0M354.4 37.2h0M356.3 37.1h0M359.6 37.1h0M361.3 37.2h0M362.5 38.1h0M364.6 38.0h0M368.8 37.3h0M373.1 38.5h0M374.4 37.2h0M377.2 37.4h0M380.1 38.2h0M346.4 39.6h0M348.8 39.7h0M350.6 39.9h0M352.8 40.4h0M355.6 39.9h0M358.2 39.5h0M359.1 39.4h0M362.4 40.3h0M364.1 40.7h0M367.5 40.3h0M369.7 39.5h0M371.2 41.1h0M374.3 40.5h0M376.6 39.7h0M378.7 41.0h0M379.7 39.3h0M382.0 39.2h0M384.0 40.6h0M345.0 42.8h0M348.0 42.9h0M348.4 41.2h0M352.1 41.6h0M354.7 41.7h0M357.1 42.4h0M358.4 42.8h0M360.7 42.2h0M364.0 42.2h0M366.5 43.0h0M367.8 41.3h0M370.0 42.3h0M372.1 42.2h0M373.9 41.4h0M377.9 41.5h0M379.8 41.5h0M380.6 43.0h0M383.0 42.9h0M385.2 41.4h0M389.3 43.1h0M346.2 44.6h0M348.0 43.6h0M350.6 43.4h0M353.1 44.9h0M354.5 44.4h0M356.8 44.4h0M360.1 45.1h0M362.9 43.3h0M363.6 45.0h0M365.6 45.0h0M369.0 43.4h0M370.8 44.7h0M373.9 45.1h0M378.3 44.1h0M380.9 45.0h0M383.1 44.6h0M385.8 43.3h0M387.2 44.7h0M390.2 43.8h0M346.3 45.2h0M348.7 46.4h0M351.1 45.3h0M353.0 45.9h0M357.1 45.4h0M358.7 46.0h0M361.3 46.2h0M362.7 46.0h0M365.6 45.8h0M368.1 45.9h0M370.0 46.6h0M373.2 45.2h0M373.7 46.6h0M377.0 45.8h0M379.9 47.1h0M380.7 45.3h0M386.7 47.0h0M388.1 47.0h0M391.4 45.1h0M393.1 45.3h0M345.3 47.6h0M348.2 48.6h0M351.0 48.2h0M352.2 47.3h0M354.3 47.6h0M358.2 48.2h0M359.3 48.6h0M362.2 48.2h0M366.1 47.0h0M369.7 48.0h0M371.2 48.8h0M372.6 48.2h0M376.8 47.8h0M377.1 47.9h0M379.6 48.6h0M381.7 47.9h0M384.3 48.2h0M386.6 49.1h0M389.1 47.3h0M391.4 47.4h0M393.3 47.2h0M396.1 48.3h0M400.6 48.6h0M345.7 50.2h0M348.0 50.6h0M349.2 49.1h0M351.7 50.4h0M353.8 49.8h0M355.4 49.0h0M373.8 49.3h0M376.5 50.0h0M381.5 50.5h0M386.1 49.1h0M388.2 49.4h0M390.2 49.4h0M393.7 50.2h0M394.6 49.7h0M397.0 49.6h0M400.2 50.3h0M401.5 50.8h0M404.5 49.8h0M346.8 51.8h0M347.3 52.9h0M351.5 51.8h0M353.1 51.7h0M356.0 52.1h0M387.1 51.2h0M391.0 52.1h0M394.0 52.3h0M396.3 52.5h0M398.6 52.6h0M401.8 51.4h0M403.9 52.6h0M405.1 52.0h0M345.2 54.5h0M346.4 54.5h0M349.2 53.2h0M352.1 54.2h0M355.4 54.3h0M394.8 53.5h0M400.0 53.3h0M346.6 56.7h0M347.7 55.1h0M350.2 55.3h0M353.1 55.1h0M355.1 55.7h0M346.1 57.3h0M349.3 57.4h0M353.9 57.9h0M348.3 60.6h0M350.2 59.1h0M346.5 61.2h0M349.3 61.5h0M354.6 62.7h0M346.5 64.6h0M348.2 63.6h0M351.3 63.9h0M353.7 64.8h0M355.5 64.1h0M346.7 66.7h0M349.4 65.8h0M350.9 65.1h0M354.3 65.7h0M348.2 67.4h0M350.1 68.1h0M352.6 67.9h0M354.1 68.5h0M347.0 70.8h0M350.0 69.6h0M351.3 69.3h0M354.6 68.9h0M346.5 71.4h0M349.0 71.1h0M350.0 71.1h0M352.0 71.9h0M354.3 72.7h0M350.0 73.5h0M354.3 73.8h0" stroke="#00ffff" stroke-width="3.5" stroke-linecap="round" fill="none"/>
<path d="M348.8 144.2 L352.9 143.6 L356.3 146.3 L357.7 150.3 L356.3 154.4 L352.9 155.1 L349.5 154.4 L348.2 150.3 Z" fill="#00ffff"/><path d="M349.6 144.2h0M350.4 144.5h0M353.5 144.9h0M354.4 145.4h0M350.1 148.2h0M352.0 147.1h0M353.3 146.3h0M348.8 149.0h0M349.5 150.3h0M353.2 150.0h0M349.4 151.3h0M352.6 151.7h0M356.7 150.6h0M350.5 154.2h0M352.7 154.0h0M355.2 152.4h0M350.9 154.4h0" stroke="#00ffff" stroke-width="3.5" stroke-linecap="round" fill="none"/>
<path d="M345.5 21.4 L348.2 21.2 L347.8 28.2 L347.2 33.6 L346.1 35.0 L345.5 29.6 Z" fill="#000"/><path d="M345.7 22.0h0M346.8 22.3h0M346.1 24.1h0M347.9 24.1h0M347.4 24.9h0M346.0 26.2h0M345.9 28.3h0M347.6 27.7h0M345.8 29.2h0M347.5 29.0h0M347.4 30.1h0M346.4 32.4h0M347.0 32.9h0" stroke="#000" stroke-width="3.5" stroke-linecap="round" fill="none"/>
<path d="M347.6 41.5h0M348.3 43.5h0M345.8 46.9h0M346.5 58.8h0M346.4 59.2h0M348.4 61.5h0M346.7 62.4h0M346.5 69.1h0" stroke="#000" stroke-width="3.5" stroke-linecap="round" fill="none"/>
<path d="M350.9 51.5 L352.9 49.2 L356.3 48.0 L360.4 48.8 L363.5 51.0 L362.4 53.7 L359.7 54.2 L360.4 51.9 L358.3 50.6 L355.6 50.4 L353.2 51.9 L351.6 53.3 Z" fill="#000"/><path d="M354.2 49.5h0M356.1 49.3h0M357.1 49.0h0M359.3 49.0h0M360.0 49.1h0M352.0 50.5h0M352.9 51.0h0M354.8 50.3h0M358.1 50.4h0M359.3 51.0h0M361.4 50.7h0M362.4 50.7h0M352.0 52.1h0M360.9 52.1h0M362.2 51.5h0M359.9 53.6h0M361.4 53.3h0" stroke="#000" stroke-width="3.5" stroke-linecap="round" fill="none"/>
<path d="M348.2 69.5 L351.6 70.2 L354.3 68.9 L355.6 71.6 L354.9 75.6 L351.6 75.6 L348.8 74.3 Z" fill="#000"/><path d="M354.2 69.0h0M350.2 70.0h0M352.5 70.2h0M354.4 69.9h0M348.9 71.1h0M350.5 71.5h0M351.8 70.9h0M354.3 71.0h0M349.8 72.7h0M351.5 72.8h0M353.2 73.1h0M354.1 72.5h0M350.2 74.7h0M352.1 74.6h0M353.7 73.9h0M354.9 74.0h0M351.9 75.5h0" stroke="#000" stroke-width="3.5" stroke-linecap="round" fill="none"/>
<path d="M348.2 134.1 L350.2 133.4 L351.6 136.8 L352.2 142.2 L350.9 147.6 L348.8 151.7 L347.5 155.8 L346.1 154.4 L346.4 147.6 L347.5 142.2 L347.8 136.8 Z" fill="#000"/><path d="M349.7 134.2h0M348.7 136.4h0M349.7 136.4h0M347.7 137.5h0M349.2 137.1h0M351.0 137.4h0M348.2 138.8h0M350.0 139.2h0M347.7 140.1h0M348.9 140.1h0M351.0 140.2h0M348.0 141.5h0M349.6 142.0h0M351.6 141.2h0M348.1 142.5h0M349.9 143.1h0M351.3 143.0h0M348.4 144.0h0M350.3 144.7h0M347.6 145.5h0M349.8 145.5h0M351.1 145.9h0M346.9 147.2h0M348.8 147.4h0M349.7 146.6h0M346.4 148.9h0M347.6 148.3h0M349.2 148.6h0M346.6 149.9h0M348.0 149.5h0M346.5 151.1h0M347.6 151.5h0M348.9 151.4h0M347.4 152.7h0" stroke="#000" stroke-width="3.5" stroke-linecap="round" fill="none"/>
<line x1="340.5" x2="418.4" y1="24.1" y2="24.1" stroke="#ff0000" stroke-opacity="0.5" stroke-width="1.8"/>
<line x1="340.5" x2="418.4" y1="142.5" y2="142.5" stroke="#ff0000" stroke-opacity="0.55" stroke-width="2.6"/>
<line x1="343.8" x2="343.8" y1="158.6" y2="18.4" stroke="#ff0000" stroke-opacity="0.5" stroke-width="1.8" stroke-dasharray="6.3 2.9"/>
<line x1="346.5" x2="346.5" y1="158.6" y2="18.4" stroke="#ff0000" stroke-opacity="0.5" stroke-width="1.8" stroke-dasharray="6.3 2.9"/>
</g>
<rect x="340.5" y="18.4" width="77.9" height="139.7" fill="none" stroke="#262626" stroke-width="1"/>
<line x1="336.5" x2="340.5" y1="154.4" y2="154.4" stroke="#262626" stroke-width="1"/>
<line x1="336.5" x2="340.5" y1="121.3" y2="121.3" stroke="#262626" stroke-width="1"/>
<line x1="336.5" x2="340.5" y1="88.2" y2="88.2" stroke="#262626" stroke-width="1"/>
<line x1="336.5" x2="340.5" y1="55.1" y2="55.1" stroke="#262626" stroke-width="1"/>
<line x1="336.5" x2="340.5" y1="22" y2="22" stroke="#262626" stroke-width="1"/>
<line x1="340.5" x2="340.5" y1="158.1" y2="162.1" stroke="#262626" stroke-width="1"/>
<text x="340.5" y="174.3" font-size="11.4" text-anchor="middle" textLength="6.9" lengthAdjust="spacingAndGlyphs">0</text>
<line x1="406.5" x2="406.5" y1="158.1" y2="162.1" stroke="#262626" stroke-width="1"/>
<text x="406.5" y="174.3" font-size="11.4" text-anchor="middle" textLength="13.8" lengthAdjust="spacingAndGlyphs">20</text>
<text y="11.4" font-size="14.6" style="stroke:none"><tspan x="351.8">L</tspan><tspan x="358.8" y="13.7" font-size="11.2">s</tspan><tspan x="364.6" y="11.4" textLength="10.8" lengthAdjust="spacingAndGlyphs">~</tspan><tspan x="376.2" textLength="24.2" lengthAdjust="spacingAndGlyphs">210</tspan><tspan x="400.2" y="6.4" font-size="11.6">o</tspan></text>
<g clip-path="url(#c04)">
<path d="M436.4 20.1 L441.8 22.1 L444.6 21.4 L446.6 22.8 L445.9 28.2 L447.3 33.6 L451.3 32.3 L455.4 32.9 L460.8 35.7 L464.2 39.0 L466.2 44.5 L464.9 48.5 L465.6 52.6 L463.5 56.7 L460.8 59.4 L456.8 60.7 L452.7 62.1 L451.3 66.1 L452.0 72.9 L450.0 78.3 L447.3 82.4 L445.9 88.0 L436.4 88.0 L435.1 70.2 L435.1 43.1 L435.3 26.8 Z" fill="#00ffff"/><path d="M437.3 20.9h0M441.2 22.4h0M444.3 21.7h0M437.0 24.1h0M438.4 23.4h0M440.9 24.7h0M443.5 22.8h0M445.9 23.7h0M437.6 26.4h0M439.6 26.1h0M442.0 24.7h0M445.0 25.5h0M437.9 26.7h0M440.3 26.9h0M443.9 27.4h0M445.7 28.8h0M435.3 30.3h0M439.8 28.7h0M442.4 29.4h0M444.1 29.8h0M439.0 30.9h0M440.9 31.7h0M442.5 31.2h0M444.4 31.3h0M437.1 34.3h0M439.3 34.2h0M441.6 33.1h0M444.6 33.7h0M447.6 34.4h0M448.1 33.8h0M451.9 33.5h0M454.1 33.9h0M435.2 34.9h0M437.7 36.0h0M440.3 36.2h0M443.4 35.4h0M444.8 35.6h0M446.8 34.9h0M450.6 35.6h0M451.4 36.4h0M453.8 36.3h0M457.5 35.9h0M458.4 36.5h0M436.7 37.0h0M439.3 36.7h0M442.2 37.6h0M444.1 38.6h0M445.8 37.9h0M448.7 38.6h0M452.0 37.3h0M454.3 37.1h0M456.2 38.2h0M459.1 38.7h0M460.6 38.1h0M461.7 38.1h0M435.8 40.3h0M437.7 40.2h0M443.3 39.1h0M446.3 39.0h0M447.5 39.5h0M449.6 38.9h0M452.8 40.6h0M457.0 39.2h0M459.9 39.5h0M462.1 39.4h0M464.0 39.8h0M437.6 41.6h0M439.5 41.0h0M441.4 42.3h0M444.8 40.8h0M446.4 41.6h0M448.8 41.3h0M450.1 42.7h0M454.3 40.7h0M455.5 40.9h0M458.1 41.7h0M459.6 41.5h0M463.3 41.1h0M464.4 41.7h0M435.9 43.2h0M439.5 43.1h0M440.0 44.6h0M442.6 43.3h0M446.0 43.1h0M450.3 43.7h0M451.7 43.6h0M454.9 42.9h0M457.1 43.4h0M458.4 44.2h0M460.8 43.9h0M463.9 43.9h0M436.1 45.9h0M436.4 45.3h0M440.1 46.1h0M442.3 46.3h0M444.4 45.3h0M445.9 45.7h0M448.4 46.4h0M453.5 44.8h0M455.5 46.7h0M458.3 45.1h0M459.4 46.3h0M462.9 46.0h0M465.1 46.1h0M436.9 47.7h0M438.3 47.5h0M441.6 47.1h0M442.5 46.6h0M444.9 48.0h0M447.7 47.0h0M451.9 47.4h0M454.0 48.5h0M456.9 48.4h0M458.7 48.6h0M462.0 46.7h0M464.4 48.1h0M439.0 49.4h0M442.1 49.6h0M444.6 49.7h0M445.5 48.8h0M448.2 49.8h0M450.8 49.9h0M452.7 49.7h0M456.4 50.1h0M458.3 49.5h0M460.9 50.6h0M464.8 49.3h0M435.2 51.5h0M437.7 51.0h0M441.6 52.6h0M443.3 51.7h0M445.4 50.9h0M447.5 52.3h0M450.0 51.8h0M453.0 52.2h0M454.9 52.1h0M456.5 52.3h0M458.9 51.9h0M462.0 51.6h0M463.0 51.8h0M435.2 53.2h0M437.3 53.3h0M440.4 52.7h0M442.3 52.7h0M443.5 53.9h0M447.6 53.0h0M448.0 52.8h0M450.6 53.6h0M453.4 54.6h0M456.3 54.5h0M459.1 53.3h0M461.4 53.6h0M463.7 54.5h0M436.1 55.6h0M437.8 56.2h0M440.9 55.1h0M442.8 55.4h0M444.6 55.9h0M447.7 56.0h0M449.7 55.8h0M453.0 55.1h0M457.5 56.6h0M459.7 55.5h0M461.5 56.0h0M463.8 55.5h0M436.0 57.7h0M440.1 57.4h0M442.7 57.5h0M445.0 58.1h0M447.0 56.8h0M451.5 58.3h0M453.6 56.6h0M455.4 57.1h0M458.7 57.3h0M460.5 57.3h0M462.2 57.1h0M437.1 60.2h0M438.9 60.2h0M441.5 60.1h0M443.9 60.4h0M446.3 59.9h0M448.6 60.2h0M452.4 60.2h0M454.9 60.1h0M457.0 60.3h0M458.4 59.8h0M437.4 62.1h0M438.8 61.4h0M444.3 62.2h0M447.0 60.7h0M449.2 61.2h0M451.1 61.1h0M437.2 64.5h0M440.6 63.7h0M442.2 63.1h0M445.1 63.5h0M448.5 63.9h0M449.7 64.1h0M451.3 63.0h0M435.3 66.1h0M438.0 66.0h0M439.5 64.7h0M442.0 65.2h0M443.4 66.1h0M447.0 66.4h0M436.1 67.4h0M439.1 68.4h0M440.5 67.6h0M443.8 67.9h0M445.1 67.7h0M448.1 68.6h0M450.4 67.3h0M435.2 69.8h0M436.4 69.7h0M440.2 70.4h0M441.9 70.6h0M444.1 69.4h0M446.1 68.5h0M448.9 69.2h0M450.7 70.5h0M436.6 70.6h0M439.4 72.1h0M440.5 70.5h0M444.1 72.0h0M445.1 70.8h0M448.3 71.0h0M450.4 72.1h0M436.5 73.1h0M440.6 72.7h0M442.3 73.6h0M444.2 74.5h0M445.8 74.2h0M449.0 73.2h0M450.6 73.1h0M436.1 75.7h0M438.7 76.6h0M440.3 76.5h0M445.5 75.0h0M448.7 76.4h0M449.9 75.7h0M436.5 77.0h0M440.5 76.6h0M442.4 77.8h0M445.0 78.5h0M446.3 78.5h0M448.4 78.3h0M437.5 78.8h0M440.7 79.9h0M443.4 80.5h0M445.9 80.3h0M449.2 79.0h0M437.2 81.7h0M440.4 81.3h0M442.3 82.0h0M443.7 82.5h0M446.9 81.7h0M436.1 82.7h0M438.5 83.5h0M439.8 83.4h0M443.1 83.4h0M446.4 84.4h0M446.9 83.7h0M437.3 85.1h0M440.5 85.8h0M441.1 85.9h0M443.7 85.2h0M437.2 86.9h0M440.6 86.7h0" stroke="#00ffff" stroke-width="3.5" stroke-linecap="round" fill="none"/>
<path d="M435.1 88.0 L446.6 88.0 L445.9 92.1 L443.9 96.1 L443.2 101.6 L443.9 108.3 L443.2 115.1 L442.5 120.5 L439.1 120.5 L435.7 115.1 L435.1 101.6 Z" fill="#00ffff"/><path d="M439.5 88.7h0M440.6 88.1h0M437.6 90.1h0M439.8 88.7h0M441.2 90.2h0M443.8 89.1h0M446.1 90.6h0M435.6 91.6h0M441.1 92.7h0M442.5 91.8h0M445.8 90.9h0M437.6 94.4h0M439.5 93.7h0M442.6 92.9h0M443.9 93.0h0M436.5 94.8h0M439.2 95.7h0M440.5 95.6h0M443.2 95.7h0M438.1 96.8h0M439.2 97.4h0M442.8 98.1h0M443.4 98.3h0M436.1 99.1h0M437.5 99.7h0M440.1 98.8h0M435.6 102.0h0M437.5 102.3h0M439.7 101.9h0M442.0 100.9h0M436.4 104.5h0M438.4 103.9h0M439.8 103.5h0M436.8 106.0h0M439.5 105.6h0M442.7 104.8h0M436.1 107.4h0M439.2 108.6h0M441.7 108.2h0M436.6 109.3h0M439.8 109.4h0M441.1 109.2h0M438.7 111.6h0M440.9 111.6h0M437.1 114.3h0M439.5 112.6h0M441.0 114.0h0M436.7 115.9h0M439.5 115.8h0M441.2 114.8h0M442.4 116.3h0M437.8 116.7h0M440.4 117.6h0M441.1 118.0h0M441.7 119.0h0" stroke="#00ffff" stroke-width="3.5" stroke-linecap="round" fill="none"/>
<path d="M440.1 126.0h0M447.8 127.1h0M441.4 127.3h0M447.3 127.6h0M441.5 130.4h0M444.4 132.7h0M441.3 134.4h0M446.2 133.9h0M440.9 135.8h0M442.9 138.8h0M444.8 139.2h0M439.6 139.6h0M443.6 141.0h0M448.0 141.0h0M441.5 143.1h0M443.9 143.0h0M447.5 141.4h0M447.5 145.1h0M445.9 147.2h0M442.1 148.1h0M440.6 150.9h0M444.7 150.4h0M445.7 152.7h0M443.3 153.9h0" stroke="#00ffff" stroke-width="3.5" stroke-linecap="round" fill="none"/>
<path d="M439.7 23.6h0M441.7 24.5h0M443.4 27.2h0M438.9 29.7h0M440.4 29.9h0M439.4 31.2h0M442.3 31.3h0M440.1 31.9h0M443.5 32.1h0M445.9 33.3h0M441.6 34.8h0M444.2 36.7h0M446.6 38.0h0" stroke="#000" stroke-width="3.5" stroke-linecap="round" fill="none"/>
<path d="M443.1 77.0h0M444.8 77.4h0M446.4 77.1h0M443.1 78.7h0M448.7 78.1h0M443.3 79.3h0M446.4 79.7h0M443.6 82.2h0" stroke="#000" stroke-width="3.5" stroke-linecap="round" fill="none"/>
<path d="M439.6 62.0h0" stroke="#000" stroke-width="3.5" stroke-linecap="round" fill="none"/>
<path d="M442.0 123.5h0M443.8 125.1h0M441.4 126.1h0M441.6 127.1h0M441.7 129.9h0M441.8 132.7h0M441.3 135.6h0M441.3 136.9h0M442.2 139.4h0M439.8 140.8h0M443.6 141.2h0M443.5 142.1h0M442.0 152.3h0" stroke="#000" stroke-width="3.5" stroke-linecap="round" fill="none"/>
<line x1="433.8" x2="511.7" y1="118.5" y2="118.5" stroke="#ff0000" stroke-opacity="0.5" stroke-width="1.8"/>
<line x1="433.8" x2="511.7" y1="124.9" y2="124.9" stroke="#ff0000" stroke-opacity="0.5" stroke-width="1.8"/>
<line x1="436.6" x2="436.6" y1="158.6" y2="18.4" stroke="#ff0000" stroke-opacity="0.45" stroke-width="3.4" stroke-dasharray="6.3 2.9"/>
</g>
<rect x="433.8" y="18.4" width="77.9" height="139.7" fill="none" stroke="#262626" stroke-width="1"/>
<line x1="429.8" x2="433.8" y1="154.4" y2="154.4" stroke="#262626" stroke-width="1"/>
<line x1="429.8" x2="433.8" y1="121.3" y2="121.3" stroke="#262626" stroke-width="1"/>
<line x1="429.8" x2="433.8" y1="88.2" y2="88.2" stroke="#262626" stroke-width="1"/>
<line x1="429.8" x2="433.8" y1="55.1" y2="55.1" stroke="#262626" stroke-width="1"/>
<line x1="429.8" x2="433.8" y1="22" y2="22" stroke="#262626" stroke-width="1"/>
<line x1="433.8" x2="433.8" y1="158.1" y2="162.1" stroke="#262626" stroke-width="1"/>
<text x="433.8" y="174.3" font-size="11.4" text-anchor="middle" textLength="6.9" lengthAdjust="spacingAndGlyphs">0</text>
<line x1="499.8" x2="499.8" y1="158.1" y2="162.1" stroke="#262626" stroke-width="1"/>
<text x="499.8" y="174.3" font-size="11.4" text-anchor="middle" textLength="13.8" lengthAdjust="spacingAndGlyphs">20</text>
<text y="11.4" font-size="14.6" style="stroke:none"><tspan x="445.2">L</tspan><tspan x="452.2" y="13.7" font-size="11.2">s</tspan><tspan x="458" y="11.4" textLength="10.8" lengthAdjust="spacingAndGlyphs">~</tspan><tspan x="469.6" textLength="24.2" lengthAdjust="spacingAndGlyphs">220</tspan><tspan x="493.6" y="6.4" font-size="11.6">o</tspan></text>
<g clip-path="url(#c05)">
<path d="M533.8 21.4 L538.6 20.7 L544.7 21.4 L545.3 24.8 L541.3 26.2 L535.8 25.5 Z" fill="#000"/><path d="M534.9 21.9h0M537.5 21.9h0M538.4 21.8h0M539.8 21.7h0M542.1 22.4h0M542.9 22.4h0M535.8 23.4h0M537.7 23.5h0M539.2 23.0h0M541.3 23.7h0M542.1 22.8h0M544.5 23.1h0M535.5 24.4h0M536.9 25.1h0M539.1 24.9h0M540.7 25.1h0M541.6 24.7h0M543.4 24.3h0M544.6 24.6h0M538.2 25.5h0M539.4 25.8h0M541.5 26.1h0" stroke="#000" stroke-width="3.5" stroke-linecap="round" fill="none"/>
<path d="M532.3 25.5h0M533.8 25.8h0M531.4 26.6h0M534.0 29.4h0M533.4 32.0h0M534.5 33.1h0M533.3 34.8h0M534.9 35.5h0M532.3 36.7h0M531.7 38.0h0M531.6 39.1h0M532.3 40.3h0M533.2 41.0h0M534.4 41.7h0M532.4 43.1h0M534.8 44.2h0M532.1 47.1h0M534.0 47.7h0M532.4 49.3h0" stroke="#000" stroke-width="3.5" stroke-linecap="round" fill="none"/>
<path d="M533.1 48.5 L538.6 48.5 L544.0 49.9 L546.7 52.6 L546.0 56.7 L542.6 59.4 L539.9 63.4 L538.6 67.5 L536.5 69.5 L533.8 67.5 L533.1 59.4 Z" fill="#000"/><path d="M533.5 48.6h0M535.7 48.6h0M533.7 49.9h0M535.1 49.2h0M536.3 49.2h0M537.5 49.6h0M540.0 50.2h0M541.6 49.7h0M542.7 49.8h0M543.9 50.1h0M533.5 51.5h0M535.9 51.3h0M537.0 51.0h0M538.7 51.6h0M540.3 51.0h0M541.7 51.6h0M544.0 51.0h0M544.7 51.4h0M533.7 52.1h0M535.2 52.8h0M536.8 53.0h0M537.8 52.4h0M539.1 52.8h0M541.0 52.1h0M542.5 53.0h0M544.5 52.4h0M546.5 52.7h0M534.4 53.9h0M535.2 53.8h0M536.9 54.3h0M538.9 53.8h0M540.6 54.4h0M542.3 53.6h0M543.4 53.3h0M545.5 53.9h0M533.5 55.3h0M534.4 55.7h0M536.0 55.0h0M537.5 55.7h0M539.3 55.3h0M540.6 55.1h0M542.3 55.1h0M544.4 55.5h0M545.7 55.3h0M533.5 57.2h0M535.5 56.9h0M537.3 56.1h0M538.4 56.3h0M540.2 56.8h0M542.1 56.3h0M543.2 56.1h0M545.7 56.3h0M533.5 57.9h0M534.3 57.8h0M536.0 58.1h0M538.0 57.9h0M539.8 58.2h0M541.0 58.5h0M542.6 57.9h0M533.8 59.0h0M535.9 59.8h0M536.7 59.5h0M539.0 59.6h0M540.1 58.8h0M541.5 59.6h0M533.6 61.2h0M534.5 60.7h0M536.4 60.5h0M538.1 61.3h0M539.9 60.5h0M533.6 62.4h0M535.5 61.8h0M536.9 62.6h0M538.5 61.8h0M539.9 62.1h0M533.7 63.2h0M535.1 63.5h0M535.9 63.7h0M538.4 63.4h0M539.5 63.9h0M534.5 65.5h0M535.6 64.9h0M537.4 64.8h0M538.5 64.4h0M534.6 66.0h0M536.8 65.8h0M538.4 66.0h0M533.8 67.2h0M535.0 68.2h0M536.9 67.4h0M536.6 68.6h0" stroke="#000" stroke-width="3.5" stroke-linecap="round" fill="none"/>
<path d="M543.5 25.7h0M538.0 26.9h0M544.2 26.5h0M538.1 28.5h0M543.5 28.5h0M536.8 31.3h0M540.0 31.3h0M538.4 33.8h0M540.1 33.8h0M541.1 33.1h0M535.6 34.7h0M537.0 36.1h0M539.7 36.4h0M537.1 37.3h0M540.4 37.4h0M540.3 39.6h0M541.4 39.3h0M535.7 40.8h0M539.0 40.4h0M542.5 40.0h0M540.4 41.7h0M537.4 43.0h0M541.3 45.3h0M540.9 45.9h0M541.3 47.5h0" stroke="#000" stroke-width="3.5" stroke-linecap="round" fill="none"/>
<path d="M538.6 150.3 L540.6 147.6 L542.6 148.3 L544.0 151.7 L543.3 155.1 L539.9 155.4 L537.5 153.7 Z" fill="#000"/><path d="M540.8 149.2h0M541.9 149.2h0M540.0 150.0h0M541.2 149.9h0M542.6 150.7h0M539.6 151.9h0M540.2 151.8h0M542.6 152.0h0M537.9 153.4h0M539.6 153.0h0M541.3 152.6h0M543.6 152.5h0M540.2 153.9h0M542.2 154.8h0" stroke="#000" stroke-width="3.5" stroke-linecap="round" fill="none"/>
<path d="M547.1 23.9h0M549.0 22.3h0M550.3 22.4h0M552.5 22.8h0M555.5 22.7h0M557.6 24.1h0M545.6 24.4h0M547.0 25.2h0M550.7 25.9h0M551.5 24.3h0M554.6 24.2h0M557.6 25.0h0M557.9 24.7h0M561.8 24.6h0M545.3 26.9h0M549.5 27.2h0M551.6 26.4h0M552.3 27.2h0M554.8 26.1h0M558.7 27.0h0M559.6 26.3h0M563.2 27.5h0M547.9 29.4h0M549.9 29.4h0M553.0 28.6h0M553.3 29.9h0M557.2 29.0h0M558.6 29.6h0M561.9 29.1h0M563.4 30.1h0M544.7 31.3h0M545.3 31.7h0M549.1 31.2h0M551.8 32.0h0M553.6 30.7h0M555.7 30.1h0M558.1 30.3h0M560.0 30.4h0M561.7 30.9h0M564.4 31.0h0M547.5 33.0h0M549.4 32.5h0M552.2 32.2h0M553.3 32.1h0M556.4 32.7h0M559.5 32.2h0M562.1 32.8h0M564.2 33.0h0M545.7 34.6h0M549.3 34.4h0M550.4 35.0h0M553.5 34.7h0M555.9 34.2h0M558.6 34.2h0M560.8 35.3h0M561.5 34.6h0M565.1 35.3h0M546.5 36.1h0M550.3 37.5h0M552.0 36.9h0M555.3 36.3h0M557.6 37.5h0M558.3 37.3h0M560.9 37.9h0M563.9 36.8h0M566.6 36.4h0M568.5 36.9h0M546.1 38.0h0M550.3 39.7h0M554.2 38.1h0M555.6 39.8h0M558.3 38.3h0M559.1 39.6h0M561.7 39.9h0M565.6 39.1h0M568.0 39.4h0M569.6 38.2h0M547.1 40.4h0M549.6 40.5h0M551.1 41.7h0M555.3 41.4h0M556.1 41.4h0M560.0 40.9h0M561.2 40.4h0M563.3 41.3h0M566.4 40.7h0M567.8 40.3h0M571.1 40.3h0M572.4 40.6h0M547.2 43.9h0M548.0 42.0h0M550.6 42.5h0M552.5 42.2h0M554.7 43.8h0M556.8 42.1h0M560.8 43.1h0M563.4 43.3h0M565.6 43.2h0M567.6 43.9h0M569.4 42.4h0M571.9 42.8h0M546.1 44.8h0M547.8 44.9h0M549.1 44.0h0M552.4 44.5h0M554.4 45.1h0M557.3 44.8h0M558.6 44.2h0M560.9 44.0h0M562.9 44.1h0M566.1 44.4h0M568.5 46.0h0M569.7 45.4h0M572.6 44.5h0M546.4 47.7h0M549.2 46.0h0M550.8 46.2h0M553.7 47.1h0M556.3 47.3h0M557.5 47.9h0M559.4 47.0h0M561.5 47.2h0M564.2 46.5h0M566.1 46.6h0M568.4 47.1h0M570.6 46.7h0M574.8 47.6h0M577.2 47.3h0M577.8 47.9h0M545.3 48.8h0M546.7 48.7h0M550.4 49.1h0M551.4 49.0h0M554.3 48.3h0M556.4 49.4h0M560.0 49.2h0M560.2 49.1h0M563.2 48.5h0M566.3 49.7h0M567.6 48.7h0M570.1 48.1h0M573.3 48.3h0M574.1 49.2h0M577.3 49.8h0M580.3 49.3h0M547.1 50.5h0M549.5 50.3h0M551.9 50.2h0M553.9 50.1h0M555.4 50.0h0M558.1 50.2h0M559.2 51.9h0M563.3 51.9h0M566.4 51.5h0M568.6 50.6h0M571.3 50.0h0M574.5 50.9h0M576.5 50.8h0M578.4 50.3h0M579.8 50.9h0M545.8 52.9h0M548.4 52.6h0M549.2 53.3h0M551.6 53.7h0M553.8 52.3h0M557.4 52.5h0M558.7 52.9h0M560.4 52.1h0M564.2 52.5h0M565.4 53.5h0M567.5 52.2h0M570.1 52.3h0M548.0 54.5h0M550.5 54.5h0M552.2 54.8h0M554.8 54.7h0M557.7 54.0h0M559.5 54.7h0M561.6 54.1h0M564.7 54.0h0M566.6 54.5h0M557.3 56.5h0M559.5 56.3h0" stroke="#00ffff" stroke-width="3.5" stroke-linecap="round" fill="none"/>
<path d="M537.8 26.4h0M537.1 28.2h0M541.7 29.4h0M538.3 31.1h0M543.2 31.6h0M540.5 33.0h0M543.8 32.1h0M538.4 34.4h0M541.7 35.9h0M539.8 37.4h0M542.0 36.2h0M536.0 38.6h0M537.8 38.6h0M541.0 39.1h0M541.7 38.7h0M539.2 40.4h0M538.3 43.8h0M541.8 43.5h0M536.3 45.0h0M541.1 44.9h0M544.2 44.9h0M536.3 47.7h0M540.5 46.2h0M542.5 46.3h0M544.9 46.8h0M540.4 50.1h0M537.8 50.4h0M540.3 50.3h0" stroke="#00ffff" stroke-width="3.5" stroke-linecap="round" fill="none"/>
<path d="M548.0 153.1 L551.4 152.0 L554.1 151.7 L557.5 151.0 L558.9 153.1 L557.5 155.1 L554.1 154.7 L550.8 154.4 L548.3 154.7 Z" fill="#00ffff"/><path d="M548.6 153.5h0M549.8 152.7h0M553.2 153.5h0M554.5 152.5h0M556.8 153.3h0M552.0 154.4h0M554.5 154.7h0" stroke="#00ffff" stroke-width="3.5" stroke-linecap="round" fill="none"/>
<line x1="527.2" x2="605.1" y1="131.7" y2="131.7" stroke="#ff0000" stroke-opacity="0.5" stroke-width="1.8"/>
<line x1="530.7" x2="530.7" y1="158.6" y2="18.4" stroke="#ff0000" stroke-opacity="0.5" stroke-width="1.8" stroke-dasharray="6.3 2.9"/>
</g>
<rect x="527.2" y="18.4" width="77.9" height="139.7" fill="none" stroke="#262626" stroke-width="1"/>
<line x1="523.2" x2="527.2" y1="154.4" y2="154.4" stroke="#262626" stroke-width="1"/>
<line x1="523.2" x2="527.2" y1="121.3" y2="121.3" stroke="#262626" stroke-width="1"/>
<line x1="523.2" x2="527.2" y1="88.2" y2="88.2" stroke="#262626" stroke-width="1"/>
<line x1="523.2" x2="527.2" y1="55.1" y2="55.1" stroke="#262626" stroke-width="1"/>
<line x1="523.2" x2="527.2" y1="22" y2="22" stroke="#262626" stroke-width="1"/>
<line x1="527.2" x2="527.2" y1="158.1" y2="162.1" stroke="#262626" stroke-width="1"/>
<text x="527.2" y="174.3" font-size="11.4" text-anchor="middle" textLength="6.9" lengthAdjust="spacingAndGlyphs">0</text>
<line x1="593.2" x2="593.2" y1="158.1" y2="162.1" stroke="#262626" stroke-width="1"/>
<text x="593.2" y="174.3" font-size="11.4" text-anchor="middle" textLength="13.8" lengthAdjust="spacingAndGlyphs">20</text>
<text y="11.4" font-size="14.6" style="stroke:none"><tspan x="538.5">L</tspan><tspan x="545.5" y="13.7" font-size="11.2">s</tspan><tspan x="551.3" y="11.4" textLength="10.8" lengthAdjust="spacingAndGlyphs">~</tspan><tspan x="562.9" textLength="24.2" lengthAdjust="spacingAndGlyphs">230</tspan><tspan x="586.9" y="6.4" font-size="11.6">o</tspan></text>
<g clip-path="url(#c06)">
<path d="M630.7 22.6h0M633.7 22.6h0M627.4 24.0h0M629.6 24.1h0M635.5 23.5h0M627.7 25.5h0M630.5 25.5h0M632.5 25.4h0M628.9 26.6h0M630.4 26.0h0M631.6 26.7h0M635.4 26.8h0M629.2 27.5h0M630.8 27.9h0M634.6 27.5h0M628.0 29.5h0M629.3 31.1h0M632.2 30.5h0M636.1 30.7h0M626.9 32.0h0M628.8 32.2h0M630.0 31.7h0M632.2 32.4h0M629.4 32.9h0M631.0 33.6h0M632.3 33.4h0M634.3 33.5h0M635.7 33.8h0M626.6 34.8h0M631.4 34.6h0M633.4 35.0h0M636.7 34.5h0M629.3 36.7h0M630.4 36.7h0M632.2 35.8h0M637.9 36.0h0M628.4 37.7h0M630.3 37.1h0M634.8 37.9h0M627.7 38.8h0M630.9 39.2h0M638.5 38.8h0M626.9 40.5h0M630.2 40.9h0M633.8 40.8h0M635.3 39.9h0M636.9 40.5h0M639.7 40.7h0M628.0 42.2h0M629.3 41.7h0M631.4 41.3h0M632.5 41.7h0M634.6 41.4h0M635.3 41.2h0M637.6 41.2h0M639.5 41.6h0M640.3 41.3h0M630.0 43.0h0M633.7 42.6h0M634.7 43.2h0M636.7 42.7h0M638.0 42.6h0M640.9 43.1h0M626.5 44.4h0M630.5 44.5h0M635.4 45.0h0M627.4 45.4h0M628.9 46.0h0M630.7 45.8h0M634.5 45.5h0M638.2 45.6h0M628.0 47.2h0M631.2 47.6h0M635.5 47.0h0M641.0 47.5h0M628.6 48.9h0M631.4 48.8h0M635.1 48.3h0M639.2 48.4h0M627.4 49.9h0M630.7 49.7h0M633.0 49.9h0M633.9 49.8h0M636.2 49.8h0M638.6 50.2h0M641.7 50.5h0M627.4 51.6h0M628.0 51.0h0M630.3 51.0h0M632.3 51.4h0M633.0 51.7h0M636.5 51.9h0M639.9 51.8h0M641.7 51.2h0M629.2 52.4h0M632.4 52.3h0M636.1 53.1h0M639.5 53.4h0M640.3 52.3h0M642.0 53.1h0M635.2 54.0h0M636.4 54.3h0M640.2 53.6h0M641.5 54.0h0M630.4 55.2h0M632.9 55.1h0M635.4 55.6h0M640.2 55.6h0M635.3 56.7h0M637.6 56.4h0M630.9 58.6h0M632.9 58.4h0M634.2 58.6h0M637.5 58.1h0M639.1 58.4h0M630.0 60.3h0" stroke="#000" stroke-width="3.5" stroke-linecap="round" fill="none"/>
<path d="M628.2 147.6 L632.2 146.3 L634.9 144.9 L636.3 147.6 L635.6 151.7 L633.6 155.1 L629.5 155.1 L627.5 151.7 Z" fill="#000"/><path d="M632.0 146.4h0M634.0 146.5h0M635.2 145.6h0M630.2 147.2h0M631.6 147.4h0M633.2 147.8h0M634.6 147.5h0M629.5 149.0h0M630.8 148.5h0M632.6 148.3h0M633.4 149.0h0M635.8 148.8h0M628.1 149.9h0M630.3 150.7h0M631.0 150.1h0M633.1 150.2h0M634.2 150.2h0M635.8 150.2h0M629.3 151.2h0M630.9 151.7h0M632.7 151.2h0M633.9 151.6h0M630.2 153.3h0M631.3 152.8h0M633.5 152.9h0M634.5 153.0h0M629.5 153.9h0M630.2 154.5h0M632.8 154.2h0" stroke="#000" stroke-width="3.5" stroke-linecap="round" fill="none"/>
<path d="M647.8 21.6h0M634.8 22.8h0M635.9 22.2h0M644.1 23.8h0M645.1 23.4h0M648.4 22.6h0M636.0 24.1h0M640.1 24.2h0M644.7 25.9h0M647.0 25.4h0M648.9 25.6h0M637.5 28.0h0M639.2 26.7h0M640.7 27.7h0M643.9 27.7h0M647.4 27.7h0M638.2 28.6h0M639.7 29.2h0M644.7 28.6h0M649.6 29.8h0M638.1 31.4h0M642.2 31.1h0M643.4 31.8h0M645.2 30.1h0M648.6 30.1h0M650.8 31.6h0M638.7 33.3h0M639.2 33.2h0M645.1 33.8h0M646.8 32.8h0M649.9 32.4h0M653.1 33.5h0M639.7 34.5h0M640.3 35.8h0M643.0 35.5h0M646.0 34.6h0M647.7 34.1h0M650.2 34.0h0M652.2 35.9h0M654.4 34.9h0M639.8 37.5h0M641.4 36.4h0M649.9 37.8h0M652.4 37.3h0M652.8 37.8h0M656.2 36.0h0M657.6 37.3h0M659.8 36.9h0M662.1 36.8h0M643.7 38.5h0M645.3 39.8h0M648.5 39.3h0M649.6 38.8h0M651.9 39.7h0M654.9 38.0h0M656.7 39.7h0M660.3 39.9h0M661.0 38.2h0M664.4 40.0h0M666.8 38.0h0M668.4 39.2h0M645.0 40.5h0M646.5 40.2h0M648.9 40.9h0M651.0 42.0h0M656.3 41.6h0M658.2 41.4h0M660.3 41.6h0M662.7 41.6h0M664.6 40.0h0M669.4 40.4h0M673.0 41.8h0M675.5 41.8h0M640.2 42.1h0M646.7 44.0h0M653.2 42.3h0M654.8 42.7h0M657.8 44.0h0M659.0 42.9h0M664.0 42.3h0M667.0 43.2h0M669.3 43.0h0M671.3 42.1h0M675.1 43.6h0M645.5 45.9h0M647.0 45.0h0M651.7 45.0h0M654.3 45.4h0M656.7 45.3h0M660.0 45.3h0M664.0 44.4h0M664.6 45.5h0M668.0 45.7h0M669.3 44.0h0M671.3 45.7h0M674.9 44.2h0M643.9 47.1h0M649.0 47.1h0M653.2 46.9h0M654.0 47.6h0M658.2 47.9h0M658.7 46.5h0M661.3 47.4h0M663.2 46.4h0M669.3 46.5h0M670.2 47.9h0M673.8 47.6h0M647.4 49.7h0M652.5 48.4h0M653.6 49.9h0M655.9 48.5h0M657.7 50.0h0M661.5 48.7h0M662.2 48.0h0M665.1 48.9h0M671.5 48.3h0M675.5 49.0h0M646.2 50.6h0M649.1 51.0h0M650.4 50.3h0M652.2 51.8h0M657.4 51.2h0M659.4 51.9h0M661.9 51.2h0M663.6 51.6h0M666.6 50.4h0M667.8 51.9h0M670.3 52.0h0M673.5 52.0h0M675.9 50.7h0M647.0 52.0h0M649.1 52.3h0M651.9 52.6h0M653.2 53.5h0M656.4 53.6h0M657.4 52.7h0M660.6 53.7h0M662.4 53.0h0M668.6 52.2h0M653.6 55.0h0M660.2 56.2h0" stroke="#00ffff" stroke-width="3.5" stroke-linecap="round" fill="none"/>
<path d="M630.2 32.9 L634.9 32.3 L638.3 36.3 L639.0 43.1 L635.6 47.2 L631.6 46.5 L629.5 40.4 Z" fill="#00ffff"/><path d="M632.4 33.5h0M634.2 34.3h0M630.2 35.5h0M632.8 35.4h0M634.7 35.3h0M630.3 37.3h0M632.3 38.3h0M633.7 37.0h0M637.3 37.5h0M631.2 39.7h0M632.3 40.0h0M634.9 40.6h0M637.2 40.6h0M631.1 42.8h0M634.3 42.3h0M636.4 42.8h0M638.6 41.4h0M632.2 43.6h0M636.0 44.4h0M638.3 42.9h0M631.6 45.7h0M634.7 46.9h0M636.1 46.3h0" stroke="#00ffff" stroke-width="3.5" stroke-linecap="round" fill="none"/>
<path d="M634.9 150.3 L638.3 147.6 L641.0 144.9 L643.1 145.6 L643.8 148.3 L645.8 147.6 L648.5 147.6 L649.9 149.7 L647.8 153.1 L646.5 155.1 L643.8 155.1 L641.0 155.1 L638.3 155.1 L635.6 154.4 Z" fill="#00ffff"/><path d="M641.7 146.8h0M637.8 149.2h0M641.4 148.9h0M643.6 147.8h0M645.7 149.0h0M646.6 149.1h0M636.4 151.1h0M640.3 151.1h0M644.8 151.4h0M647.1 150.4h0M649.5 149.6h0M636.9 153.0h0M638.7 151.8h0M641.7 153.1h0M643.7 153.3h0M645.4 151.6h0M646.6 152.6h0M637.0 154.2h0M643.5 154.0h0M646.5 154.6h0" stroke="#00ffff" stroke-width="3.5" stroke-linecap="round" fill="none"/>
<path d="M632.6 36.3 L634.3 36.3 L634.9 42.4 L633.2 43.1 Z" fill="#000"/><path d="M633.8 39.2h0M634.0 40.1h0M634.2 42.7h0" stroke="#000" stroke-width="3.5" stroke-linecap="round" fill="none"/>
<line x1="620.5" x2="698.4" y1="128.3" y2="128.3" stroke="#ff0000" stroke-opacity="0.5" stroke-width="1.8"/>
<line x1="620.5" x2="698.4" y1="136.5" y2="136.5" stroke="#ff0000" stroke-opacity="0.5" stroke-width="1.8"/>
<line x1="622.6" x2="622.6" y1="158.6" y2="18.4" stroke="#ff0000" stroke-opacity="0.6" stroke-width="3.0" stroke-dasharray="6.3 2.9"/>
</g>
<rect x="620.5" y="18.4" width="77.9" height="139.7" fill="none" stroke="#262626" stroke-width="1"/>
<line x1="616.5" x2="620.5" y1="154.4" y2="154.4" stroke="#262626" stroke-width="1"/>
<line x1="616.5" x2="620.5" y1="121.3" y2="121.3" stroke="#262626" stroke-width="1"/>
<line x1="616.5" x2="620.5" y1="88.2" y2="88.2" stroke="#262626" stroke-width="1"/>
<line x1="616.5" x2="620.5" y1="55.1" y2="55.1" stroke="#262626" stroke-width="1"/>
<line x1="616.5" x2="620.5" y1="22" y2="22" stroke="#262626" stroke-width="1"/>
<line x1="620.5" x2="620.5" y1="158.1" y2="162.1" stroke="#262626" stroke-width="1"/>
<text x="620.5" y="174.3" font-size="11.4" text-anchor="middle" textLength="6.9" lengthAdjust="spacingAndGlyphs">0</text>
<line x1="686.5" x2="686.5" y1="158.1" y2="162.1" stroke="#262626" stroke-width="1"/>
<text x="686.5" y="174.3" font-size="11.4" text-anchor="middle" textLength="13.8" lengthAdjust="spacingAndGlyphs">20</text>
<text y="11.4" font-size="14.6" style="stroke:none"><tspan x="631.8">L</tspan><tspan x="638.8" y="13.7" font-size="11.2">s</tspan><tspan x="644.6" y="11.4" textLength="10.8" lengthAdjust="spacingAndGlyphs">~</tspan><tspan x="656.2" textLength="24.2" lengthAdjust="spacingAndGlyphs">240</tspan><tspan x="680.2" y="6.4" font-size="11.6">o</tspan></text>
<text transform="translate(9.2,88.2) rotate(-90)" font-size="11.4" text-anchor="middle" textLength="26" lengthAdjust="spacingAndGlyphs">Sol 1</text>
<text transform="translate(22,88.2) rotate(-90)" font-size="11.3" text-anchor="middle" textLength="136" lengthAdjust="spacingAndGlyphs">Downwind dir [° CW_fN]</text>
<g clip-path="url(#c10)">
<path d="M78.3 190.1 L85.1 189.2 L91.9 190.1 L97.3 193.5 L101.4 196.2 L104.8 200.3 L108.1 204.3 L110.9 207.0 L113.6 209.8 L117.6 211.1 L119.0 215.2 L116.3 216.5 L110.9 215.9 L104.1 215.2 L98.7 213.1 L93.2 212.5 L87.8 209.8 L83.8 209.1 L81.0 207.7 L78.3 204.3 L77.0 198.9 Z" fill="#00ffff"/><path d="M83.4 189.6h0M79.7 190.7h0M81.8 191.2h0M84.2 190.1h0M86.0 190.5h0M87.6 190.8h0M90.1 190.4h0M77.8 193.7h0M80.0 192.2h0M83.4 193.1h0M86.0 192.9h0M86.5 191.9h0M89.4 192.4h0M92.7 193.7h0M94.1 193.7h0M77.7 195.8h0M80.1 195.6h0M81.5 194.6h0M83.5 195.0h0M86.0 194.6h0M88.1 194.9h0M90.3 194.9h0M94.0 194.8h0M94.5 195.8h0M97.5 194.4h0M99.8 195.2h0M77.2 197.8h0M79.5 197.5h0M82.8 196.9h0M84.3 195.9h0M86.9 195.8h0M89.4 197.8h0M92.5 197.5h0M96.8 196.4h0M99.2 196.4h0M101.0 197.2h0M78.3 198.1h0M81.7 198.2h0M83.1 199.4h0M86.7 197.8h0M88.8 199.8h0M89.8 198.4h0M93.0 198.6h0M95.5 198.2h0M97.8 198.8h0M99.7 198.5h0M101.3 197.9h0M78.9 200.6h0M80.3 200.3h0M82.1 201.1h0M84.7 200.3h0M86.4 201.0h0M88.7 201.7h0M92.1 200.1h0M93.5 200.1h0M97.1 201.5h0M98.5 200.5h0M101.5 200.4h0M103.5 200.3h0M79.9 202.6h0M82.1 203.6h0M84.1 203.3h0M85.5 202.2h0M89.5 203.2h0M90.7 203.3h0M92.3 201.9h0M96.4 202.0h0M98.7 202.2h0M100.5 203.3h0M101.4 202.9h0M104.8 203.5h0M107.2 203.7h0M82.1 204.0h0M86.0 204.2h0M87.0 204.6h0M90.2 205.6h0M91.4 205.4h0M93.9 203.8h0M97.1 204.6h0M98.2 205.4h0M100.1 204.7h0M102.8 205.5h0M106.3 205.2h0M108.1 204.4h0M82.3 207.2h0M83.7 207.0h0M85.3 206.6h0M89.1 207.5h0M89.8 206.4h0M93.4 206.7h0M96.3 205.9h0M97.3 207.5h0M99.1 206.3h0M101.9 207.6h0M105.2 206.9h0M107.5 205.9h0M85.7 208.6h0M89.5 208.0h0M91.7 208.0h0M94.6 208.0h0M97.4 208.7h0M98.2 208.4h0M101.7 209.0h0M104.4 209.7h0M105.8 208.8h0M107.2 208.9h0M111.2 209.2h0M112.5 209.5h0M90.3 210.9h0M93.9 211.1h0M95.6 209.8h0M97.9 211.4h0M99.8 210.2h0M102.2 210.6h0M105.1 211.0h0M107.0 209.8h0M108.9 210.2h0M111.4 209.9h0M116.1 211.2h0M95.5 211.8h0M101.9 211.8h0M103.2 213.3h0M106.5 212.7h0M108.0 213.3h0M111.1 211.8h0M114.3 212.8h0M117.2 212.8h0M107.2 215.5h0M108.2 214.3h0M111.2 214.1h0M113.4 215.2h0M115.7 215.3h0M112.5 215.8h0" stroke="#00ffff" stroke-width="3.5" stroke-linecap="round" fill="none"/>
<path d="M78.3 299.4 L82.4 296.7 L87.8 294.0 L93.2 292.6 L98.7 291.9 L104.1 292.6 L109.5 294.6 L111.5 296.7 L109.5 298.7 L104.1 300.0 L98.7 302.1 L93.2 303.4 L89.2 306.1 L86.5 310.2 L86.5 315.6 L90.5 318.3 L93.2 321.1 L90.5 323.1 L85.1 323.1 L79.7 323.1 L75.6 321.1 L74.9 315.6 L75.6 310.2 L76.3 304.8 L77.0 301.4 Z" fill="#00ffff"/><path d="M91.9 294.3h0M94.3 294.4h0M94.8 292.8h0M99.0 294.0h0M100.3 293.9h0M103.4 294.4h0M83.3 296.4h0M84.6 296.4h0M86.8 295.3h0M89.9 296.4h0M92.9 296.0h0M94.0 295.7h0M97.5 295.2h0M99.1 295.3h0M100.6 295.8h0M103.8 294.8h0M107.9 295.6h0M80.1 298.6h0M82.8 298.2h0M83.2 297.5h0M87.4 297.1h0M89.3 298.2h0M91.7 296.8h0M93.2 297.0h0M95.7 298.3h0M97.1 297.8h0M99.6 296.7h0M103.4 298.4h0M104.6 296.9h0M106.8 298.1h0M111.2 296.9h0M77.7 300.6h0M80.0 299.9h0M82.5 300.1h0M84.4 299.0h0M88.2 300.0h0M89.9 299.5h0M91.6 300.2h0M94.0 300.5h0M97.5 300.4h0M99.9 299.4h0M100.5 299.1h0M107.5 298.9h0M77.3 301.7h0M79.3 300.9h0M81.5 302.3h0M83.7 302.0h0M87.1 302.4h0M88.5 300.7h0M90.2 302.4h0M92.6 302.0h0M94.8 302.0h0M96.9 301.7h0M78.3 304.3h0M80.6 304.3h0M84.4 303.2h0M88.1 304.1h0M91.9 303.5h0M94.5 302.7h0M78.7 305.5h0M81.1 305.4h0M83.5 304.9h0M86.2 306.2h0M88.9 305.8h0M90.1 305.2h0M78.4 307.4h0M80.2 307.6h0M82.5 308.1h0M85.4 307.0h0M79.1 309.1h0M81.1 310.1h0M84.5 309.9h0M76.3 311.2h0M77.9 311.5h0M79.7 312.2h0M86.1 312.2h0M75.3 314.1h0M76.4 313.2h0M79.9 312.5h0M81.1 314.4h0M84.5 313.2h0M86.1 312.5h0M75.4 314.7h0M78.6 315.9h0M80.0 315.1h0M82.9 315.5h0M85.9 314.6h0M77.5 317.9h0M78.8 317.0h0M82.5 316.7h0M85.1 318.4h0M87.5 318.1h0M79.0 319.1h0M80.5 319.5h0M83.7 320.1h0M84.5 319.7h0M88.3 320.4h0M90.2 319.2h0M77.8 320.9h0M79.8 320.9h0M82.6 322.5h0M84.9 321.2h0M87.8 321.3h0M90.6 320.5h0M80.6 322.7h0M83.1 322.7h0M90.0 322.5h0" stroke="#00ffff" stroke-width="3.5" stroke-linecap="round" fill="none"/>
<path d="M65.5 189.4 L71.6 188.7 L77.0 190.1 L78.3 193.5 L76.3 197.6 L75.6 201.6 L78.3 204.3 L81.7 208.4 L84.4 211.1 L85.1 215.9 L82.4 219.2 L77.0 220.6 L72.9 219.2 L68.8 219.9 L66.1 217.2 L65.0 211.1 L64.8 200.3 L64.8 192.1 Z" fill="#000"/><path d="M66.3 189.5h0M68.2 189.8h0M69.6 189.7h0M71.7 189.9h0M72.4 189.4h0M73.9 190.0h0M66.0 191.6h0M66.7 190.7h0M69.0 191.6h0M70.3 190.9h0M71.6 190.9h0M74.1 191.4h0M75.5 191.7h0M76.5 191.7h0M64.8 192.6h0M65.8 192.8h0M67.5 193.2h0M69.2 193.0h0M71.4 192.9h0M72.3 193.2h0M74.0 192.8h0M75.5 192.6h0M78.1 193.1h0M65.2 193.9h0M67.1 194.0h0M69.3 193.8h0M70.4 194.0h0M71.9 194.3h0M73.3 194.1h0M74.7 194.1h0M77.1 193.8h0M64.9 196.0h0M66.3 195.9h0M67.5 195.5h0M69.6 194.9h0M71.3 195.1h0M73.1 195.7h0M74.9 195.7h0M75.8 196.0h0M77.2 194.9h0M65.5 196.7h0M67.6 196.8h0M69.0 196.3h0M69.9 197.2h0M72.5 197.4h0M74.1 197.3h0M75.2 196.9h0M76.3 196.4h0M65.2 198.5h0M66.5 198.2h0M68.2 198.4h0M69.1 198.0h0M71.7 198.2h0M72.7 197.9h0M74.0 197.8h0M75.5 198.3h0M66.0 199.3h0M67.3 200.1h0M69.1 200.0h0M70.4 200.2h0M72.1 199.9h0M73.5 200.2h0M74.8 199.6h0M65.0 200.9h0M65.9 201.4h0M67.6 201.3h0M69.5 201.5h0M71.6 201.1h0M72.8 201.5h0M74.0 200.9h0M65.4 202.7h0M67.0 202.1h0M68.6 202.0h0M70.6 202.7h0M72.1 202.6h0M73.4 202.2h0M75.3 202.1h0M66.5 203.8h0M68.1 204.1h0M69.1 203.4h0M71.5 203.6h0M72.9 203.3h0M74.3 203.2h0M75.6 203.4h0M65.6 205.2h0M67.3 204.7h0M69.0 204.7h0M70.6 204.8h0M72.2 204.8h0M73.3 205.3h0M74.9 204.9h0M76.8 205.1h0M78.8 204.9h0M66.4 206.9h0M67.8 206.4h0M69.9 206.1h0M71.0 206.4h0M72.7 206.8h0M74.2 206.5h0M75.5 206.9h0M77.7 206.6h0M79.4 206.4h0M65.0 208.0h0M67.2 207.8h0M68.7 208.3h0M70.5 207.9h0M72.1 208.1h0M73.8 208.2h0M75.2 207.7h0M77.0 207.4h0M78.3 208.1h0M79.4 208.5h0M66.1 209.8h0M68.2 209.4h0M69.1 209.4h0M71.6 209.0h0M72.2 209.1h0M74.1 208.8h0M76.3 209.6h0M77.2 208.8h0M79.7 209.5h0M81.3 209.8h0M82.3 209.0h0M66.1 210.2h0M67.3 210.8h0M68.5 211.1h0M69.9 210.8h0M72.4 210.7h0M73.5 210.7h0M75.4 210.9h0M77.0 210.8h0M78.5 210.4h0M80.3 210.5h0M81.2 210.3h0M83.4 210.3h0M66.3 212.1h0M68.0 211.7h0M69.5 212.6h0M70.9 211.6h0M72.3 212.2h0M74.2 212.0h0M75.7 212.2h0M77.8 211.6h0M78.6 211.9h0M80.7 211.5h0M82.6 211.9h0M65.6 213.4h0M66.6 213.6h0M69.1 213.3h0M70.0 213.7h0M72.5 213.3h0M73.1 213.7h0M74.8 213.7h0M76.3 213.1h0M78.3 213.7h0M79.8 213.6h0M81.4 213.8h0M83.6 213.8h0M84.7 213.3h0M66.7 215.2h0M67.8 214.7h0M69.1 214.4h0M71.4 214.7h0M73.3 215.0h0M74.5 214.4h0M75.8 215.1h0M77.5 214.7h0M79.1 215.1h0M80.7 215.1h0M82.3 215.3h0M84.3 215.0h0M67.7 216.2h0M68.4 216.0h0M70.6 215.7h0M71.5 216.7h0M74.0 216.3h0M75.2 216.6h0M77.2 216.1h0M78.3 216.1h0M79.8 216.5h0M81.8 216.7h0M83.5 216.4h0M68.0 217.8h0M70.1 217.4h0M70.8 217.2h0M72.9 217.3h0M73.9 217.4h0M75.9 217.8h0M77.9 217.3h0M79.1 217.4h0M81.2 217.2h0M82.4 217.1h0M68.9 219.3h0M70.0 218.5h0M72.4 218.5h0M73.6 218.6h0M74.6 218.9h0M77.1 219.4h0M78.9 219.2h0M80.1 219.5h0M81.4 219.3h0M77.1 220.4h0" stroke="#000" stroke-width="3.5" stroke-linecap="round" fill="none"/>
<path d="M64.8 291.2 L71.6 291.0 L78.3 291.2 L82.4 292.6 L83.1 296.0 L80.4 298.0 L77.0 299.4 L74.9 302.1 L74.3 307.5 L74.9 314.3 L74.9 321.1 L71.6 323.1 L65.5 323.1 L64.5 314.3 L64.5 300.7 Z" fill="#000"/><path d="M74.6 291.2h0M76.1 291.2h0M64.9 292.0h0M66.0 291.9h0M68.2 291.8h0M69.6 292.0h0M71.3 292.7h0M72.3 291.8h0M74.5 292.6h0M76.1 291.6h0M77.2 292.0h0M79.4 291.6h0M80.8 292.1h0M65.6 293.8h0M66.8 293.4h0M68.1 293.8h0M70.4 293.1h0M71.3 293.7h0M73.4 293.3h0M75.4 293.8h0M76.4 293.1h0M78.5 293.5h0M80.1 294.0h0M81.1 293.0h0M65.6 294.6h0M68.2 294.8h0M69.0 294.5h0M71.2 294.6h0M72.7 295.0h0M73.7 295.3h0M75.8 295.1h0M77.8 295.2h0M78.6 294.8h0M80.9 294.8h0M81.9 295.3h0M64.9 296.7h0M66.4 296.5h0M68.7 296.1h0M69.9 295.8h0M71.5 296.1h0M72.8 296.7h0M75.4 296.7h0M76.6 295.9h0M77.6 296.4h0M80.0 295.8h0M81.8 295.9h0M65.0 297.4h0M66.2 298.1h0M68.0 297.7h0M69.3 298.1h0M70.7 297.8h0M72.3 297.8h0M74.3 297.5h0M75.2 297.6h0M77.2 297.5h0M78.4 297.1h0M65.2 299.6h0M66.6 298.7h0M69.0 299.4h0M70.3 298.9h0M71.6 298.7h0M73.6 299.3h0M75.4 299.6h0M76.4 299.3h0M77.8 298.7h0M66.5 300.8h0M67.7 300.1h0M69.7 300.9h0M70.6 300.2h0M72.0 300.0h0M74.2 300.7h0M76.1 300.0h0M65.1 301.5h0M66.8 301.4h0M68.1 302.3h0M70.1 301.9h0M71.2 301.5h0M73.2 301.4h0M74.7 302.4h0M65.7 303.8h0M67.9 303.7h0M69.3 303.3h0M70.6 303.4h0M72.2 303.1h0M74.1 303.3h0M65.2 304.6h0M67.3 305.1h0M68.2 304.7h0M70.4 304.7h0M71.6 304.4h0M73.5 304.9h0M64.8 306.1h0M66.1 305.7h0M68.1 305.8h0M69.5 305.9h0M71.0 305.7h0M72.3 305.5h0M73.8 305.7h0M65.7 307.8h0M66.4 307.2h0M68.4 307.0h0M69.9 307.5h0M71.9 306.9h0M73.5 307.1h0M66.2 308.6h0M67.3 308.7h0M69.3 308.8h0M71.3 309.1h0M72.3 308.4h0M74.0 308.4h0M65.1 310.4h0M67.5 310.2h0M68.6 310.5h0M70.4 309.9h0M71.9 310.1h0M73.5 309.9h0M66.6 311.7h0M67.7 311.3h0M69.4 311.9h0M71.0 311.2h0M72.1 311.5h0M74.3 311.7h0M65.2 313.2h0M66.7 313.3h0M68.2 312.4h0M70.2 312.8h0M72.2 312.7h0M73.6 312.8h0M74.5 313.0h0M66.3 314.7h0M67.7 314.4h0M69.2 314.2h0M70.6 314.6h0M72.6 314.8h0M74.3 314.1h0M65.5 315.1h0M67.4 315.7h0M69.0 315.8h0M70.1 316.2h0M71.3 316.2h0M73.1 315.7h0M74.4 315.3h0M66.2 316.8h0M67.5 317.6h0M68.9 316.5h0M70.9 317.5h0M72.7 317.6h0M74.2 316.7h0M65.0 318.0h0M66.8 318.8h0M68.3 318.5h0M69.6 318.8h0M71.3 318.5h0M73.3 319.0h0M74.8 318.3h0M65.9 319.4h0M67.7 320.0h0M69.2 320.2h0M71.4 319.4h0M72.6 320.1h0M74.3 320.3h0M65.3 320.9h0M66.5 321.7h0M68.4 320.8h0M70.1 321.1h0M71.7 321.3h0M73.6 321.2h0M74.8 321.1h0M66.2 322.9h0M67.5 322.6h0M69.7 322.9h0M70.8 322.9h0" stroke="#000" stroke-width="3.5" stroke-linecap="round" fill="none"/>
<path d="M73.6 193.5 L77.0 192.1 L77.7 196.9 L74.9 196.9 Z" fill="#00ffff"/><path d="M74.5 194.3h0M76.8 194.6h0M76.6 195.8h0M75.5 196.8h0" stroke="#00ffff" stroke-width="3.5" stroke-linecap="round" fill="none"/>
<path d="M73.6 204.3 L77.0 203.0 L81.0 206.4 L81.7 209.8 L78.3 209.1 L74.3 205.7 Z" fill="#00ffff"/><path d="M76.0 204.7h0M77.6 205.6h0M77.5 206.8h0M79.5 206.8h0M81.1 206.7h0M77.4 208.0h0M80.8 209.5h0" stroke="#00ffff" stroke-width="3.5" stroke-linecap="round" fill="none"/>
<line x1="60.5" x2="138.4" y1="201.6" y2="201.6" stroke="#ff0000" stroke-opacity="0.5" stroke-width="1.8"/>
<line x1="60.5" x2="138.4" y1="212.1" y2="212.1" stroke="#ff0000" stroke-opacity="0.5" stroke-width="1.8"/>
<line x1="68.2" x2="68.2" y1="326.4" y2="186.2" stroke="#ff0000" stroke-opacity="1.0" stroke-width="1.8" stroke-dasharray="6.3 2.9"/>
</g>
<rect x="60.5" y="186.2" width="77.9" height="139.7" fill="none" stroke="#262626" stroke-width="1"/>
<line x1="56.5" x2="60.5" y1="322.2" y2="322.2" stroke="#262626" stroke-width="1"/>
<text x="52.7" y="326.2" font-size="11.4" text-anchor="end" textLength="6.9" lengthAdjust="spacingAndGlyphs">0</text>
<line x1="56.5" x2="60.5" y1="289.1" y2="289.1" stroke="#262626" stroke-width="1"/>
<text x="52.7" y="293.1" font-size="11.4" text-anchor="end" textLength="14" lengthAdjust="spacingAndGlyphs">90</text>
<line x1="56.5" x2="60.5" y1="256" y2="256" stroke="#262626" stroke-width="1"/>
<text x="52.7" y="260" font-size="11.4" text-anchor="end" textLength="21" lengthAdjust="spacingAndGlyphs">180</text>
<line x1="56.5" x2="60.5" y1="222.9" y2="222.9" stroke="#262626" stroke-width="1"/>
<text x="52.7" y="226.9" font-size="11.4" text-anchor="end" textLength="21" lengthAdjust="spacingAndGlyphs">270</text>
<line x1="56.5" x2="60.5" y1="189.8" y2="189.8" stroke="#262626" stroke-width="1"/>
<text x="52.7" y="193.8" font-size="11.4" text-anchor="end" textLength="21" lengthAdjust="spacingAndGlyphs">360</text>
<line x1="60.5" x2="60.5" y1="325.9" y2="329.9" stroke="#262626" stroke-width="1"/>
<text x="60.5" y="342.1" font-size="11.4" text-anchor="middle" textLength="6.9" lengthAdjust="spacingAndGlyphs">0</text>
<line x1="126.5" x2="126.5" y1="325.9" y2="329.9" stroke="#262626" stroke-width="1"/>
<text x="126.5" y="342.1" font-size="11.4" text-anchor="middle" textLength="13.8" lengthAdjust="spacingAndGlyphs">20</text>
<g clip-path="url(#c11)">
<path d="M165.9 189.4 L171.3 188.7 L178.8 189.4 L179.5 192.1 L178.1 194.8 L182.2 196.9 L186.2 198.9 L191.7 201.6 L195.7 204.3 L201.1 208.4 L205.2 211.1 L209.3 213.8 L213.3 216.5 L212.0 218.6 L205.2 218.6 L199.8 217.2 L194.4 216.5 L189.0 215.2 L183.5 213.8 L178.1 212.5 L174.0 211.1 L170.0 209.8 L165.9 207.0 L164.6 201.6 L164.6 194.8 Z" fill="#00ffff"/><path d="M166.6 191.2h0M168.3 191.2h0M170.9 191.4h0M173.0 189.4h0M175.6 191.1h0M179.0 190.9h0M168.1 191.6h0M169.7 192.9h0M172.3 191.9h0M174.0 192.6h0M177.6 192.7h0M166.4 193.4h0M169.4 193.6h0M171.6 195.3h0M174.2 193.6h0M175.8 194.9h0M178.3 193.4h0M165.8 197.0h0M168.8 195.6h0M171.2 197.4h0M173.1 197.4h0M177.6 196.0h0M179.6 195.7h0M167.1 198.1h0M168.3 198.3h0M170.7 199.3h0M173.4 198.1h0M175.2 197.9h0M177.8 197.4h0M180.7 198.8h0M182.8 197.9h0M184.5 199.4h0M164.8 199.6h0M169.0 199.7h0M169.5 200.7h0M172.2 200.7h0M176.8 199.8h0M179.8 200.9h0M182.3 201.3h0M184.3 200.7h0M185.7 200.8h0M165.2 201.6h0M166.1 203.3h0M169.3 202.3h0M170.8 203.1h0M174.3 201.7h0M176.9 202.7h0M179.0 203.3h0M180.1 202.2h0M183.0 201.8h0M184.9 203.1h0M186.6 202.0h0M190.2 203.3h0M191.6 201.8h0M166.1 204.9h0M167.0 205.3h0M170.7 203.5h0M173.2 203.6h0M175.1 203.7h0M177.9 204.8h0M180.0 203.9h0M181.5 204.6h0M183.4 204.2h0M187.1 203.4h0M189.7 203.6h0M193.9 204.2h0M196.4 205.3h0M166.7 206.5h0M172.0 206.4h0M173.6 207.4h0M177.0 205.5h0M177.9 206.7h0M181.6 206.4h0M183.0 205.7h0M185.4 205.8h0M188.1 206.3h0M190.8 206.2h0M191.6 207.3h0M193.5 206.1h0M170.6 207.6h0M173.1 208.3h0M173.9 209.4h0M177.1 208.3h0M179.2 208.9h0M181.2 209.4h0M183.9 208.5h0M187.0 209.0h0M188.4 208.7h0M191.2 208.9h0M192.5 208.2h0M196.6 208.1h0M197.1 208.3h0M200.6 208.5h0M175.6 209.7h0M179.2 209.8h0M181.3 210.6h0M182.4 210.7h0M184.9 209.9h0M187.2 210.5h0M189.5 210.4h0M192.2 209.4h0M193.8 211.0h0M197.1 211.3h0M198.2 209.9h0M201.8 210.3h0M203.4 210.5h0M176.6 211.6h0M181.8 213.2h0M183.1 212.5h0M185.8 212.1h0M188.8 212.5h0M191.1 212.2h0M193.9 212.3h0M196.1 213.0h0M197.4 213.2h0M200.0 212.7h0M202.2 211.5h0M205.8 212.0h0M207.0 213.3h0M183.3 213.5h0M187.1 214.3h0M188.9 214.4h0M192.3 214.5h0M197.0 213.5h0M199.3 215.3h0M202.1 215.0h0M202.7 214.2h0M205.5 213.6h0M208.1 214.0h0M210.6 215.1h0M192.4 215.6h0M197.5 216.7h0M199.3 215.6h0M202.1 216.3h0M203.9 216.1h0M207.6 216.5h0M209.0 217.1h0M212.3 216.0h0M201.4 217.5h0M203.6 217.3h0M205.3 217.4h0" stroke="#00ffff" stroke-width="3.5" stroke-linecap="round" fill="none"/>
<path d="M171.3 300.7 L176.8 298.0 L182.2 294.6 L187.6 292.6 L193.0 294.0 L198.4 296.0 L201.8 297.3 L201.1 299.4 L195.7 301.4 L191.7 303.4 L189.0 306.1 L187.6 310.2 L184.9 312.9 L180.8 315.6 L179.5 319.7 L178.1 323.1 L171.3 323.1 L166.6 322.4 L164.6 318.3 L165.9 312.9 L167.3 307.5 L169.3 303.4 Z" fill="#00ffff"/><path d="M186.6 293.1h0M188.2 293.2h0M182.0 295.0h0M187.4 294.5h0M190.5 295.1h0M191.5 294.7h0M194.3 294.7h0M180.1 296.5h0M185.1 296.6h0M185.8 297.3h0M187.7 295.3h0M190.7 295.7h0M193.8 295.6h0M195.6 295.9h0M197.2 296.5h0M201.1 297.2h0M177.5 297.6h0M180.0 299.2h0M182.3 299.0h0M187.0 297.4h0M189.2 298.9h0M193.0 299.2h0M195.3 298.7h0M196.6 298.3h0M198.5 299.1h0M201.7 297.6h0M172.6 301.1h0M175.5 300.6h0M177.6 300.5h0M178.5 300.3h0M182.1 301.2h0M183.5 300.1h0M187.2 299.5h0M188.4 300.7h0M191.5 300.9h0M193.9 301.3h0M195.6 299.9h0M171.8 302.8h0M173.4 302.0h0M176.7 302.9h0M178.8 301.9h0M180.1 302.0h0M183.2 302.2h0M185.5 301.9h0M188.2 302.4h0M190.5 302.1h0M191.7 302.9h0M173.2 304.1h0M175.8 304.6h0M176.9 303.7h0M180.2 304.0h0M181.0 305.1h0M185.0 303.4h0M186.5 305.1h0M189.1 304.7h0M190.4 304.7h0M168.5 306.3h0M171.2 306.1h0M173.0 305.7h0M175.4 305.5h0M177.3 305.6h0M179.6 306.7h0M183.8 305.8h0M185.4 306.8h0M186.7 305.8h0M169.6 309.1h0M173.4 308.4h0M175.6 307.2h0M177.9 309.1h0M178.8 307.5h0M182.8 307.8h0M184.9 309.1h0M186.8 309.1h0M169.1 310.4h0M171.6 309.4h0M173.6 310.9h0M176.8 310.3h0M179.2 310.5h0M180.1 311.2h0M182.6 310.5h0M167.6 313.0h0M170.4 312.9h0M172.9 311.3h0M177.0 311.7h0M180.2 312.3h0M182.5 312.7h0M184.1 312.2h0M165.9 313.8h0M168.7 314.3h0M171.6 314.6h0M174.0 314.8h0M176.5 313.2h0M179.0 314.5h0M181.2 314.1h0M182.5 314.4h0M167.8 315.7h0M169.4 316.7h0M173.6 316.0h0M174.6 316.3h0M176.3 316.0h0M180.2 316.8h0M165.1 317.9h0M165.9 317.9h0M169.7 317.3h0M172.2 319.1h0M173.8 318.9h0M176.4 318.5h0M177.3 317.9h0M165.5 319.3h0M167.1 320.6h0M170.1 320.0h0M171.9 321.2h0M174.4 319.5h0M176.7 320.9h0M171.5 321.5h0M174.1 323.1h0M176.8 321.5h0M178.6 321.6h0" stroke="#00ffff" stroke-width="3.5" stroke-linecap="round" fill="none"/>
<path d="M158.5 189.4 L163.2 188.7 L165.9 190.1 L167.9 193.5 L167.3 197.6 L165.2 201.6 L165.9 207.0 L168.6 209.8 L171.3 212.5 L174.7 214.5 L176.1 217.9 L174.0 220.3 L170.0 219.9 L166.6 217.9 L164.6 220.6 L163.9 224.7 L161.8 224.0 L159.8 223.3 L158.5 219.2 L158.5 211.1 L157.8 201.6 L157.8 194.8 Z" fill="#000"/><path d="M163.3 188.8h0M159.3 189.6h0M161.5 190.4h0M162.1 189.9h0M163.8 190.4h0M166.0 190.4h0M158.4 191.3h0M160.0 191.5h0M162.0 191.4h0M163.5 191.3h0M164.6 191.2h0M166.5 191.5h0M159.6 192.1h0M161.2 193.2h0M162.3 192.2h0M164.2 192.9h0M165.6 192.4h0M158.2 193.6h0M160.4 194.5h0M161.5 194.5h0M163.9 194.0h0M165.1 194.4h0M166.8 193.7h0M159.6 195.8h0M161.4 195.3h0M163.0 195.2h0M164.1 195.3h0M166.0 195.0h0M158.6 196.3h0M160.5 196.8h0M161.2 196.5h0M162.9 196.4h0M164.5 196.6h0M166.3 197.1h0M158.3 198.3h0M159.5 197.9h0M161.3 197.9h0M163.1 198.2h0M164.1 197.9h0M165.6 198.1h0M159.1 200.0h0M160.1 200.1h0M161.8 199.7h0M163.1 200.1h0M165.5 199.3h0M166.2 199.7h0M159.0 201.2h0M161.3 201.4h0M162.2 200.9h0M163.6 200.4h0M165.2 201.4h0M158.3 202.3h0M160.1 202.2h0M161.6 202.2h0M163.3 202.6h0M165.3 202.2h0M157.9 203.8h0M159.1 203.9h0M160.6 203.9h0M162.5 203.6h0M164.5 204.0h0M165.5 204.2h0M160.3 204.9h0M161.6 205.5h0M163.6 205.5h0M165.3 205.0h0M159.9 207.0h0M160.9 206.8h0M163.1 206.4h0M163.6 206.2h0M165.4 206.9h0M159.1 208.2h0M160.0 208.1h0M161.3 208.1h0M163.9 207.7h0M164.6 208.2h0M166.2 208.2h0M159.8 208.9h0M160.6 209.3h0M162.2 209.4h0M164.6 209.1h0M165.7 208.8h0M167.4 209.8h0M158.6 210.4h0M159.8 211.2h0M162.0 211.0h0M163.9 210.4h0M165.0 211.2h0M166.4 210.8h0M168.4 210.7h0M169.3 210.9h0M159.3 212.4h0M161.1 212.5h0M163.1 212.4h0M163.7 211.9h0M165.7 212.5h0M167.6 211.8h0M168.7 212.6h0M170.8 212.2h0M158.7 213.9h0M159.6 213.7h0M162.3 213.4h0M163.1 213.3h0M164.9 214.0h0M167.1 213.3h0M168.1 213.9h0M169.6 213.9h0M171.7 213.9h0M159.4 215.4h0M161.0 215.0h0M162.9 215.2h0M164.1 214.9h0M165.9 214.4h0M167.0 215.2h0M168.7 214.5h0M170.0 214.8h0M172.4 214.4h0M174.2 214.7h0M160.7 216.0h0M161.5 216.6h0M163.7 216.0h0M165.4 216.7h0M166.1 215.9h0M168.5 216.8h0M169.9 216.6h0M171.0 215.7h0M173.3 215.8h0M174.8 216.6h0M159.5 218.0h0M160.9 217.8h0M162.9 218.1h0M164.0 217.2h0M165.7 217.5h0M166.9 217.7h0M169.0 217.7h0M170.8 217.4h0M172.5 217.7h0M173.9 217.4h0M158.9 218.7h0M160.4 219.6h0M162.1 218.6h0M163.7 218.6h0M165.4 218.6h0M170.2 219.0h0M171.8 218.7h0M172.9 218.5h0M174.1 219.2h0M159.0 220.5h0M161.3 220.9h0M162.5 219.9h0M164.5 219.9h0M160.2 221.8h0M162.2 221.4h0M163.9 222.0h0M159.8 223.2h0M160.6 222.7h0M162.5 223.2h0M163.4 224.4h0" stroke="#000" stroke-width="3.5" stroke-linecap="round" fill="none"/>
<path d="M158.5 293.3 L161.8 292.6 L165.9 291.9 L171.3 289.9 L173.4 291.9 L176.1 295.3 L176.1 298.0 L172.7 299.4 L170.0 300.7 L167.3 304.8 L165.9 310.2 L165.9 315.6 L164.6 322.4 L160.5 323.1 L159.1 317.0 L159.1 307.5 L158.5 299.4 Z" fill="#000"/><path d="M169.6 291.3h0M170.8 290.9h0M162.5 292.5h0M163.9 292.3h0M165.8 292.3h0M167.2 292.6h0M168.3 292.2h0M170.7 292.6h0M172.4 292.6h0M158.9 294.1h0M160.5 293.9h0M161.8 293.9h0M162.9 293.6h0M164.6 294.1h0M166.5 293.7h0M168.4 293.3h0M169.5 293.4h0M171.5 293.4h0M172.5 293.3h0M173.9 294.2h0M158.7 295.2h0M160.5 294.9h0M162.5 295.6h0M164.0 295.2h0M166.0 294.8h0M167.4 294.7h0M168.4 295.6h0M170.5 295.6h0M172.2 295.0h0M174.0 294.9h0M174.8 294.8h0M159.8 297.1h0M161.4 296.8h0M163.6 296.6h0M165.3 297.0h0M166.3 297.0h0M167.8 296.9h0M169.5 297.1h0M171.2 296.7h0M173.4 296.4h0M174.6 296.8h0M159.4 298.2h0M161.0 297.6h0M162.7 297.8h0M164.6 298.4h0M165.8 298.1h0M167.2 298.3h0M169.3 297.5h0M170.7 297.9h0M172.6 298.4h0M173.5 298.1h0M174.8 297.5h0M160.3 299.6h0M161.2 299.2h0M163.4 299.1h0M165.3 299.4h0M166.5 299.9h0M168.5 299.5h0M169.6 299.2h0M171.3 299.2h0M172.6 299.1h0M159.1 300.8h0M161.3 300.7h0M162.1 300.4h0M164.2 300.8h0M166.1 301.2h0M166.9 300.6h0M168.4 300.9h0M160.6 302.0h0M161.4 301.9h0M163.0 301.6h0M164.8 302.7h0M165.9 302.4h0M167.9 302.4h0M159.3 303.7h0M161.3 304.0h0M162.9 303.4h0M163.9 303.1h0M165.8 303.7h0M166.7 304.0h0M159.5 305.3h0M161.4 304.5h0M163.7 304.6h0M164.6 305.0h0M166.3 304.6h0M159.0 305.9h0M160.4 306.0h0M162.7 306.4h0M164.2 306.4h0M166.0 306.3h0M166.8 305.9h0M160.4 307.5h0M161.8 308.1h0M162.9 308.0h0M164.6 307.8h0M159.4 309.3h0M160.9 309.1h0M162.5 309.1h0M163.6 309.4h0M165.3 309.0h0M160.2 310.9h0M161.4 310.9h0M163.8 309.9h0M165.3 310.8h0M159.2 312.0h0M160.6 311.5h0M163.0 311.6h0M164.4 311.5h0M165.6 311.9h0M159.5 313.4h0M161.3 312.8h0M163.7 313.0h0M165.0 313.8h0M160.5 314.3h0M162.8 314.4h0M164.2 315.0h0M165.6 315.1h0M160.2 315.7h0M161.7 316.4h0M163.4 316.5h0M164.4 316.1h0M159.4 317.8h0M160.6 317.8h0M162.7 317.5h0M164.3 317.5h0M160.2 319.2h0M161.5 318.4h0M163.2 319.0h0M165.2 318.7h0M160.7 320.0h0M162.9 320.0h0M164.1 320.5h0M162.0 321.4h0M162.8 322.0h0M162.0 322.5h0" stroke="#000" stroke-width="3.5" stroke-linecap="round" fill="none"/>
<path d="M163.2 228.7h0M163.2 234.1h0M159.1 246.3h0M162.5 230.8h0" stroke="#000" stroke-width="3.4" stroke-linecap="round" fill="none"/>
<line x1="153.8" x2="231.7" y1="199.9" y2="199.9" stroke="#ff0000" stroke-opacity="0.85" stroke-width="1.8"/>
<line x1="153.8" x2="231.7" y1="203.2" y2="203.2" stroke="#ff0000" stroke-opacity="0.5" stroke-width="1.8"/>
<line x1="153.8" x2="231.7" y1="306.2" y2="306.2" stroke="#ff0000" stroke-opacity="0.5" stroke-width="1.8"/>
<line x1="153.8" x2="231.7" y1="319.1" y2="319.1" stroke="#ff0000" stroke-opacity="0.5" stroke-width="1.8"/>
<line x1="157.2" x2="157.2" y1="326.4" y2="186.2" stroke="#ff0000" stroke-opacity="0.5" stroke-width="1.8" stroke-dasharray="6.3 2.9"/>
<line x1="161.9" x2="161.9" y1="326.4" y2="186.2" stroke="#ff0000" stroke-opacity="0.8" stroke-width="1.8" stroke-dasharray="6.3 2.9"/>
<line x1="164.4" x2="164.4" y1="326.4" y2="186.2" stroke="#ff0000" stroke-opacity="0.5" stroke-width="1.8" stroke-dasharray="6.3 2.9"/>
</g>
<rect x="153.8" y="186.2" width="77.9" height="139.7" fill="none" stroke="#262626" stroke-width="1"/>
<line x1="149.8" x2="153.8" y1="322.2" y2="322.2" stroke="#262626" stroke-width="1"/>
<line x1="149.8" x2="153.8" y1="289.1" y2="289.1" stroke="#262626" stroke-width="1"/>
<line x1="149.8" x2="153.8" y1="256" y2="256" stroke="#262626" stroke-width="1"/>
<line x1="149.8" x2="153.8" y1="222.9" y2="222.9" stroke="#262626" stroke-width="1"/>
<line x1="149.8" x2="153.8" y1="189.8" y2="189.8" stroke="#262626" stroke-width="1"/>
<line x1="153.8" x2="153.8" y1="325.9" y2="329.9" stroke="#262626" stroke-width="1"/>
<text x="153.8" y="342.1" font-size="11.4" text-anchor="middle" textLength="6.9" lengthAdjust="spacingAndGlyphs">0</text>
<line x1="219.8" x2="219.8" y1="325.9" y2="329.9" stroke="#262626" stroke-width="1"/>
<text x="219.8" y="342.1" font-size="11.4" text-anchor="middle" textLength="13.8" lengthAdjust="spacingAndGlyphs">20</text>
<g clip-path="url(#c12)">
<path d="M264.4 189.4h0M255.1 189.8h0M257.3 190.2h0M259.7 190.3h0M263.3 191.0h0M267.9 190.3h0M269.1 190.2h0M270.8 189.4h0M252.8 193.4h0M254.6 193.2h0M256.1 192.7h0M259.0 192.6h0M260.5 193.0h0M263.3 192.4h0M265.6 192.3h0M267.6 193.3h0M271.4 192.2h0M252.9 195.0h0M256.5 193.7h0M258.9 193.6h0M259.3 194.5h0M263.3 194.6h0M266.2 195.3h0M270.4 195.2h0M253.8 195.8h0M255.9 196.3h0M258.6 195.5h0M261.5 196.4h0M264.3 195.6h0M266.0 196.2h0M267.8 196.9h0M254.8 198.2h0M257.5 199.1h0M261.1 198.7h0M263.4 197.9h0M265.5 199.2h0M267.3 198.8h0M269.2 198.1h0M272.3 198.7h0M274.0 199.4h0M252.0 201.4h0M254.2 199.5h0M256.0 200.1h0M260.1 201.0h0M261.8 200.3h0M264.2 200.3h0M265.3 199.7h0M267.9 199.4h0M270.4 200.5h0M271.9 200.0h0M275.4 200.4h0M253.1 201.8h0M255.9 202.9h0M258.5 203.0h0M259.9 202.0h0M261.9 202.8h0M264.4 202.3h0M266.6 201.5h0M272.1 202.2h0M274.3 201.5h0M276.0 203.3h0M252.4 204.5h0M255.1 203.5h0M257.4 204.8h0M259.9 204.3h0M262.2 204.8h0M264.3 203.4h0M266.7 204.8h0M269.1 203.8h0M270.2 204.7h0M272.7 204.4h0M274.2 204.7h0M279.6 204.3h0M253.5 206.8h0M255.1 205.7h0M257.0 205.7h0M261.2 207.2h0M262.8 205.5h0M265.2 205.4h0M267.8 206.2h0M268.9 206.2h0M272.8 206.3h0M274.2 205.3h0M276.1 205.9h0M278.8 205.5h0M281.6 206.4h0M286.0 206.4h0M287.7 206.1h0M253.2 208.1h0M255.3 209.1h0M257.7 209.0h0M259.4 209.4h0M261.7 208.4h0M263.6 209.4h0M265.8 207.7h0M267.9 207.9h0M271.2 207.4h0M273.0 208.7h0M275.1 208.5h0M278.1 207.4h0M279.3 208.6h0M282.1 207.6h0M283.9 209.0h0M286.7 208.3h0M288.7 208.4h0M251.7 210.7h0M253.0 210.0h0M254.9 211.1h0M257.1 209.9h0M259.9 209.9h0M261.7 211.0h0M265.3 210.7h0M267.5 210.0h0M270.2 210.5h0M271.6 210.8h0M274.0 209.4h0M275.8 210.2h0M281.4 209.5h0M282.7 210.9h0M286.0 211.2h0M287.0 211.1h0M289.4 210.2h0M291.8 211.2h0M253.1 212.8h0M253.6 212.7h0M256.0 211.4h0M259.7 212.7h0M261.9 211.5h0M263.8 212.0h0M266.1 211.4h0M268.2 211.8h0M270.6 213.1h0M273.7 212.6h0M275.7 211.4h0M276.7 211.5h0M280.2 212.1h0M281.4 212.4h0M285.4 211.6h0M286.1 212.9h0M288.6 212.6h0M290.8 211.5h0M292.7 212.4h0M252.8 214.6h0M256.3 213.8h0M258.6 214.7h0M259.3 214.0h0M265.3 215.1h0M267.8 215.1h0M270.4 214.2h0M272.8 215.0h0M274.7 213.4h0M275.4 214.5h0M279.2 213.4h0M280.8 214.5h0M282.8 214.5h0M284.7 213.5h0M289.3 215.4h0M293.0 213.8h0M294.7 213.8h0M252.3 215.7h0M254.2 216.0h0M257.1 216.8h0M260.0 215.9h0M261.2 215.6h0M264.6 215.8h0M267.4 217.0h0M269.9 216.0h0M272.8 216.9h0M274.5 215.5h0M277.9 216.6h0M280.5 217.1h0M281.5 215.8h0M284.8 217.3h0M286.0 217.1h0M289.3 216.4h0M290.3 216.2h0M293.4 215.6h0M295.3 217.1h0M298.5 217.2h0M253.0 217.7h0M264.1 218.4h0M268.0 217.8h0M268.8 217.6h0M272.3 217.4h0M273.1 218.5h0M277.2 218.3h0M278.3 218.1h0M281.2 218.0h0M284.2 219.3h0M284.7 217.4h0M287.7 219.3h0M289.2 218.6h0M293.2 219.0h0M295.8 219.2h0M296.9 217.7h0M299.7 218.6h0M301.3 218.2h0M266.3 219.6h0M271.2 219.4h0M272.2 220.7h0M274.3 219.5h0M277.7 220.3h0M279.4 220.1h0M281.2 220.8h0M283.5 219.3h0M286.3 219.8h0M293.5 220.4h0M295.5 219.4h0M300.7 221.2h0M303.6 221.0h0M274.6 222.4h0M276.0 222.9h0M279.3 221.9h0M275.7 223.4h0" stroke="#00ffff" stroke-width="3.5" stroke-linecap="round" fill="none"/>
<path d="M249.1 223.3 L253.1 222.6 L257.2 224.7 L261.9 228.7 L261.9 235.5 L259.9 242.3 L258.6 249.1 L255.8 250.4 L251.8 247.7 L250.4 240.9 L248.4 234.1 L248.4 227.4 Z" fill="#00ffff"/><path d="M250.8 224.9h0M252.3 224.8h0M254.4 223.9h0M249.6 226.0h0M252.7 226.5h0M254.9 226.9h0M255.5 227.2h0M259.5 226.9h0M252.8 228.3h0M254.3 227.9h0M256.8 228.7h0M249.6 231.1h0M251.1 230.0h0M254.8 230.3h0M256.6 230.0h0M258.1 231.1h0M261.5 230.1h0M248.4 232.0h0M251.1 232.7h0M252.2 233.1h0M255.9 232.7h0M257.8 233.1h0M259.9 231.9h0M261.4 231.4h0M249.8 234.4h0M252.1 233.3h0M254.5 234.7h0M256.2 234.6h0M259.0 234.5h0M260.9 233.3h0M251.5 236.9h0M252.7 236.6h0M255.6 235.5h0M256.7 236.0h0M259.9 235.8h0M252.8 237.3h0M255.4 238.5h0M259.6 238.6h0M260.0 237.5h0M250.4 239.7h0M253.3 241.1h0M254.6 240.7h0M258.6 240.2h0M251.3 242.4h0M253.6 241.5h0M256.5 242.0h0M259.5 242.9h0M251.0 243.4h0M254.0 243.6h0M256.2 243.7h0M257.3 243.4h0M251.7 247.1h0M254.4 245.8h0M255.8 246.2h0M259.0 246.1h0M253.9 247.2h0M256.0 247.3h0M258.5 247.4h0" stroke="#00ffff" stroke-width="3.5" stroke-linecap="round" fill="none"/>
<path d="M251.8 272.3 L257.2 272.9 L259.2 277.7 L258.6 283.1 L259.2 289.9 L258.6 295.3 L259.9 299.4 L262.6 303.4 L265.3 306.1 L269.4 307.5 L271.4 310.2 L272.1 317.0 L270.8 322.4 L265.3 323.1 L258.6 323.1 L253.1 323.1 L251.1 317.0 L250.4 307.5 L251.1 296.7 L250.4 289.9 L251.1 280.4 Z" fill="#00ffff"/><path d="M252.0 272.8h0M253.3 274.1h0M255.8 273.0h0M252.6 275.3h0M254.1 276.2h0M255.5 276.6h0M258.8 276.9h0M253.0 277.7h0M254.9 278.2h0M257.8 277.5h0M254.7 279.9h0M256.9 279.0h0M251.8 282.7h0M255.8 281.1h0M256.8 281.8h0M252.1 284.0h0M254.7 283.2h0M255.8 284.3h0M251.4 286.6h0M252.6 286.0h0M257.1 286.9h0M252.6 288.1h0M254.3 288.8h0M256.1 287.8h0M258.0 287.2h0M250.7 290.3h0M253.7 290.1h0M254.4 289.9h0M257.7 290.8h0M252.2 292.6h0M254.4 291.5h0M252.2 294.9h0M254.5 294.5h0M257.8 293.7h0M252.5 294.9h0M253.0 295.2h0M256.2 296.1h0M258.3 296.3h0M253.3 297.2h0M255.3 298.7h0M256.6 297.0h0M251.1 299.1h0M252.9 300.4h0M256.7 299.4h0M258.7 300.6h0M252.7 302.5h0M255.9 302.4h0M257.9 302.3h0M259.7 301.4h0M252.6 303.3h0M253.7 303.9h0M255.3 304.7h0M258.6 303.0h0M259.7 304.4h0M262.2 303.6h0M252.8 306.7h0M254.5 306.6h0M257.5 306.8h0M258.9 305.0h0M262.4 306.3h0M264.1 306.4h0M252.1 308.0h0M253.4 308.5h0M255.8 307.6h0M258.6 307.5h0M260.3 308.6h0M262.1 308.2h0M253.2 310.3h0M256.6 310.6h0M260.5 310.5h0M262.0 310.3h0M265.1 309.9h0M267.0 309.5h0M268.9 309.8h0M270.4 309.4h0M254.7 311.2h0M257.0 311.1h0M258.7 311.8h0M259.8 311.7h0M263.5 311.4h0M266.1 310.8h0M268.3 311.1h0M270.6 312.2h0M252.8 313.0h0M254.3 314.7h0M258.0 314.7h0M259.0 314.0h0M263.0 313.0h0M264.5 313.0h0M265.5 313.6h0M269.6 313.3h0M270.8 313.9h0M252.1 316.2h0M254.9 316.7h0M256.1 315.2h0M259.3 316.1h0M261.7 315.3h0M262.4 315.0h0M265.4 316.1h0M268.7 314.9h0M270.0 316.3h0M252.7 317.0h0M255.3 317.3h0M257.0 317.2h0M259.3 316.8h0M261.9 318.5h0M264.0 318.3h0M267.1 318.6h0M252.3 320.4h0M254.8 320.0h0M256.6 319.3h0M259.5 319.6h0M261.3 320.6h0M262.6 319.9h0M265.8 319.7h0M268.2 320.2h0M253.0 321.5h0M254.2 322.1h0M258.4 322.7h0M261.1 321.2h0M264.8 321.6h0M266.3 322.2h0M269.5 322.0h0M259.9 323.0h0" stroke="#00ffff" stroke-width="3.5" stroke-linecap="round" fill="none"/>
<path d="M254.6 188.9h0M252.3 190.4h0M254.8 189.4h0M255.6 190.0h0M252.5 193.1h0M257.6 193.1h0M253.6 193.5h0M252.6 195.4h0M254.0 195.5h0M251.7 196.7h0M254.8 196.5h0M256.4 197.3h0M258.4 196.9h0M257.1 197.8h0M260.6 198.6h0M255.5 200.1h0M255.8 201.4h0M259.4 201.4h0M258.4 202.0h0M260.0 202.7h0M258.0 204.1h0M259.6 204.1h0M261.8 204.2h0M254.9 205.1h0M258.3 205.5h0M257.4 206.5h0M259.5 206.8h0M260.5 206.9h0M257.0 208.2h0M261.5 208.0h0M256.2 209.6h0M257.8 209.4h0M261.0 209.3h0M262.5 209.0h0M254.1 211.2h0M253.2 212.5h0M254.2 211.9h0M259.1 212.4h0M262.7 212.6h0M258.7 213.2h0M260.3 213.5h0M261.5 213.8h0M256.3 215.0h0M257.4 214.3h0M258.9 214.4h0M261.9 214.6h0M255.3 216.6h0M256.5 215.9h0M261.3 216.5h0M263.1 215.9h0M258.6 217.9h0M260.4 217.9h0M265.9 217.3h0M260.3 218.7h0M266.5 218.7h0M265.9 220.7h0M268.5 220.4h0M264.9 221.8h0M265.7 221.3h0M267.3 221.5h0" stroke="#000" stroke-width="3.5" stroke-linecap="round" fill="none"/>
<path d="M259.2 239.6 L261.3 238.2 L262.6 242.3 L262.6 249.1 L261.3 250.4 L259.6 247.7 Z" fill="#000"/><path d="M260.4 239.5h0M259.9 240.8h0M261.4 240.4h0M261.0 242.6h0M259.7 243.6h0M261.8 243.3h0M260.8 245.0h0M260.2 246.3h0M261.7 246.0h0M261.2 247.6h0M262.0 248.1h0M262.1 249.2h0" stroke="#000" stroke-width="3.5" stroke-linecap="round" fill="none"/>
<path d="M251.8 263.5 L254.5 262.8 L256.5 268.2 L255.8 271.6 L253.1 272.3 L251.1 269.6 Z" fill="#000"/><path d="M253.5 263.1h0M252.5 264.3h0M253.8 264.0h0M253.5 265.7h0M254.8 265.1h0M252.5 266.9h0M253.7 266.8h0M251.9 268.4h0M253.3 268.6h0M255.3 268.3h0M256.2 268.3h0M251.6 269.7h0M252.5 269.0h0M254.3 269.2h0M251.8 270.5h0M253.2 271.2h0M254.8 270.8h0" stroke="#000" stroke-width="3.5" stroke-linecap="round" fill="none"/>
<path d="M252.3 273.4h0M255.6 273.2h0M255.3 274.7h0M253.0 276.1h0M254.5 276.3h0M253.1 280.3h0M253.7 283.1h0M258.0 284.5h0M257.8 290.2h0M256.0 293.1h0M255.9 295.7h0M256.6 297.5h0M251.3 298.8h0" stroke="#000" stroke-width="3.5" stroke-linecap="round" fill="none"/>
<path d="M253.5 300.4h0M251.5 302.3h0M254.2 301.5h0M258.7 301.8h0M253.1 302.9h0M257.2 302.9h0M258.0 303.1h0M259.7 304.9h0M250.8 306.3h0M252.6 306.2h0M254.0 306.2h0M251.5 308.5h0M255.4 308.8h0M257.2 309.1h0M252.7 310.4h0M254.7 310.0h0M255.6 309.9h0M257.2 310.8h0M250.7 313.2h0M255.6 313.3h0M251.9 314.3h0M253.3 314.9h0M251.7 315.4h0M254.9 315.6h0M255.6 315.6h0M258.2 315.5h0M253.9 317.5h0M258.3 317.3h0M256.2 318.1h0M257.4 318.3h0M258.5 320.0h0M253.1 320.9h0M256.5 321.8h0M255.1 322.6h0" stroke="#000" stroke-width="3.5" stroke-linecap="round" fill="none"/>
<line x1="247.2" x2="325.1" y1="198.2" y2="198.2" stroke="#ff0000" stroke-opacity="0.5" stroke-width="1.8"/>
<line x1="247.2" x2="325.1" y1="314.6" y2="314.6" stroke="#ff0000" stroke-opacity="0.5" stroke-width="1.8"/>
<line x1="255.6" x2="255.6" y1="326.4" y2="186.2" stroke="#ff0000" stroke-opacity="0.6" stroke-width="1.8" stroke-dasharray="6.3 2.9"/>
</g>
<rect x="247.2" y="186.2" width="77.9" height="139.7" fill="none" stroke="#262626" stroke-width="1"/>
<line x1="243.2" x2="247.2" y1="322.2" y2="322.2" stroke="#262626" stroke-width="1"/>
<line x1="243.2" x2="247.2" y1="289.1" y2="289.1" stroke="#262626" stroke-width="1"/>
<line x1="243.2" x2="247.2" y1="256" y2="256" stroke="#262626" stroke-width="1"/>
<line x1="243.2" x2="247.2" y1="222.9" y2="222.9" stroke="#262626" stroke-width="1"/>
<line x1="243.2" x2="247.2" y1="189.8" y2="189.8" stroke="#262626" stroke-width="1"/>
<line x1="247.2" x2="247.2" y1="325.9" y2="329.9" stroke="#262626" stroke-width="1"/>
<text x="247.2" y="342.1" font-size="11.4" text-anchor="middle" textLength="6.9" lengthAdjust="spacingAndGlyphs">0</text>
<line x1="313.2" x2="313.2" y1="325.9" y2="329.9" stroke="#262626" stroke-width="1"/>
<text x="313.2" y="342.1" font-size="11.4" text-anchor="middle" textLength="13.8" lengthAdjust="spacingAndGlyphs">20</text>
<g clip-path="url(#c13)">
<path d="M359.7 201.6 L365.1 200.3 L373.2 199.6 L378.7 200.9 L382.7 204.3 L388.1 208.4 L392.2 209.1 L394.2 212.5 L392.2 215.2 L397.6 215.9 L405.8 216.3 L413.2 216.5 L414.6 218.6 L411.2 220.6 L403.1 222.6 L396.3 222.0 L389.5 221.3 L382.7 220.6 L378.7 220.6 L376.0 223.3 L373.2 227.4 L370.5 227.4 L369.2 224.7 L363.8 224.0 L358.3 224.7 L355.6 228.7 L355.6 235.5 L355.6 242.3 L351.6 243.6 L348.8 239.6 L348.2 228.7 L348.8 217.9 L351.6 215.2 L357.0 213.1 L359.7 208.4 Z" fill="#00ffff"/><path d="M372.5 199.7h0M364.5 201.8h0M367.1 200.8h0M369.3 201.8h0M370.4 201.3h0M372.5 200.8h0M375.4 200.7h0M379.4 202.2h0M361.2 202.6h0M362.8 203.9h0M365.1 203.8h0M367.3 203.2h0M370.8 203.2h0M372.8 203.5h0M375.4 203.9h0M377.1 202.2h0M378.8 202.5h0M380.6 203.7h0M360.7 204.6h0M365.2 204.8h0M367.4 206.2h0M369.1 205.1h0M371.8 206.0h0M373.3 204.7h0M375.8 204.3h0M378.4 206.1h0M380.3 206.1h0M360.6 207.9h0M363.0 207.7h0M367.5 207.4h0M369.1 206.7h0M372.0 206.3h0M374.4 208.0h0M376.0 206.9h0M378.8 207.6h0M381.2 206.9h0M360.1 209.6h0M361.4 210.2h0M363.4 209.0h0M366.2 209.7h0M369.3 209.0h0M372.1 209.6h0M372.5 209.0h0M375.3 208.9h0M377.6 209.0h0M380.9 209.4h0M382.9 208.6h0M384.4 210.2h0M388.0 208.6h0M389.6 209.0h0M361.8 212.2h0M362.7 210.4h0M366.2 211.6h0M368.1 211.9h0M370.7 211.4h0M372.5 210.6h0M375.2 211.6h0M376.4 212.1h0M379.7 210.4h0M381.4 210.7h0M386.6 210.4h0M389.2 211.9h0M391.0 210.7h0M394.0 212.1h0M355.2 214.1h0M357.7 213.4h0M359.0 214.1h0M362.0 213.1h0M364.8 213.9h0M365.9 212.8h0M368.2 213.3h0M370.4 213.5h0M372.7 213.0h0M376.2 213.0h0M380.7 212.9h0M382.0 214.1h0M387.6 213.5h0M389.5 213.8h0M392.4 212.4h0M393.3 212.9h0M354.2 216.2h0M356.8 215.3h0M359.3 215.0h0M360.5 214.3h0M362.8 215.4h0M366.0 215.0h0M366.9 215.3h0M370.5 214.3h0M372.8 215.1h0M374.8 216.1h0M377.7 214.3h0M380.1 216.1h0M381.1 215.0h0M383.0 214.7h0M385.7 215.5h0M388.7 214.9h0M390.3 215.1h0M350.1 216.9h0M352.8 216.7h0M354.7 217.6h0M357.3 217.8h0M360.4 216.2h0M362.6 217.5h0M364.3 216.3h0M365.8 218.2h0M368.4 217.5h0M371.1 217.3h0M373.7 217.2h0M375.7 216.3h0M377.2 216.9h0M380.0 217.5h0M383.4 217.5h0M385.8 217.1h0M391.3 216.4h0M394.8 217.3h0M397.4 217.3h0M398.5 217.1h0M400.2 217.5h0M403.2 217.0h0M405.5 218.1h0M408.1 217.1h0M410.0 217.6h0M412.2 217.7h0M349.7 218.3h0M352.6 219.9h0M354.5 219.5h0M356.6 219.2h0M359.2 218.6h0M360.6 219.7h0M363.8 218.6h0M366.3 218.5h0M367.3 219.4h0M370.0 218.4h0M372.1 219.6h0M374.9 218.4h0M377.9 218.2h0M380.1 218.5h0M381.8 218.8h0M383.6 219.2h0M387.0 218.8h0M387.9 219.4h0M390.0 218.5h0M393.3 218.4h0M395.7 218.4h0M397.2 219.6h0M403.1 220.2h0M403.8 219.2h0M407.0 219.1h0M409.2 218.6h0M412.3 219.6h0M412.9 219.0h0M350.9 222.2h0M353.0 220.3h0M354.1 220.2h0M357.8 220.8h0M359.7 221.7h0M362.1 221.6h0M364.1 221.6h0M366.2 220.7h0M369.7 220.9h0M370.3 222.0h0M373.4 221.1h0M375.3 220.8h0M383.2 220.4h0M385.5 220.4h0M387.5 220.6h0M390.2 220.5h0M393.9 221.4h0M396.1 220.8h0M398.1 221.4h0M401.7 221.9h0M403.0 222.0h0M406.6 221.6h0M351.0 222.5h0M355.3 223.6h0M358.2 222.4h0M361.6 222.8h0M362.6 222.3h0M364.8 224.1h0M369.3 223.3h0M371.7 222.7h0M373.8 223.7h0M376.0 223.2h0M351.0 226.0h0M352.3 226.0h0M367.2 224.3h0M368.8 224.5h0M371.7 224.8h0M373.5 224.6h0M348.6 227.5h0M354.2 227.0h0M350.5 229.5h0M353.7 228.8h0M349.5 230.3h0M351.2 231.3h0M350.4 234.1h0M352.1 232.9h0M350.6 234.4h0M354.5 236.1h0M355.2 234.9h0M350.2 236.3h0M353.3 237.3h0M354.2 236.9h0M351.3 238.6h0M354.5 238.6h0M350.8 240.2h0M353.0 241.6h0M354.2 240.5h0" stroke="#00ffff" stroke-width="3.5" stroke-linecap="round" fill="none"/>
<path d="M348.8 194.8 L352.9 194.6 L357.0 196.9 L359.7 201.6 L360.4 207.0 L358.3 212.5 L354.3 214.5 L350.2 214.5 L348.2 208.4 L348.2 200.3 Z" fill="#000"/><path d="M352.1 194.9h0M349.4 195.6h0M351.6 195.3h0M352.7 196.0h0M348.9 197.2h0M351.1 197.7h0M351.8 196.9h0M353.6 197.0h0M355.9 197.6h0M356.8 197.3h0M349.5 198.1h0M351.4 198.8h0M352.6 198.5h0M354.2 198.0h0M356.7 198.8h0M348.6 199.4h0M350.5 199.3h0M352.6 199.7h0M354.1 199.8h0M355.7 200.4h0M356.5 199.9h0M358.3 200.1h0M348.3 201.3h0M349.7 201.3h0M351.3 201.3h0M352.6 201.0h0M354.5 201.3h0M356.6 201.5h0M358.2 201.1h0M348.7 202.6h0M350.3 202.3h0M352.7 202.8h0M354.1 202.8h0M355.2 202.7h0M357.1 203.0h0M358.1 202.5h0M350.1 203.9h0M351.2 204.1h0M353.0 204.5h0M354.6 204.6h0M355.7 204.2h0M358.1 203.7h0M358.9 204.2h0M348.7 205.1h0M350.1 205.4h0M352.3 205.4h0M354.2 205.8h0M355.9 205.4h0M357.3 205.8h0M358.7 205.7h0M348.4 206.9h0M349.3 207.3h0M351.3 207.3h0M352.7 207.3h0M354.7 206.9h0M356.0 207.0h0M357.9 206.6h0M359.8 207.0h0M348.7 207.8h0M350.2 208.7h0M351.8 208.7h0M353.3 208.6h0M355.2 208.5h0M357.5 207.8h0M358.1 207.7h0M349.8 209.8h0M351.3 209.7h0M352.7 209.1h0M354.8 209.8h0M356.4 210.0h0M357.2 209.6h0M359.2 209.9h0M350.2 211.4h0M352.6 211.5h0M354.2 211.0h0M355.8 210.5h0M356.7 211.4h0M349.7 212.2h0M351.3 212.1h0M353.0 212.6h0M354.2 212.6h0M356.1 212.4h0M358.1 211.8h0M350.6 213.4h0M351.9 213.2h0M354.3 214.2h0M355.6 213.3h0" stroke="#000" stroke-width="3.5" stroke-linecap="round" fill="none"/>
<path d="M349.8 218.7h0M348.6 220.2h0M356.0 222.3h0M351.0 224.5h0M355.9 224.8h0M361.2 225.2h0M350.8 226.3h0M351.3 227.9h0M356.0 227.4h0M348.6 229.2h0M349.5 230.2h0M351.1 230.3h0M345.9 231.4h0M346.7 231.4h0M348.8 234.6h0M351.3 237.3h0M353.5 236.7h0M350.5 239.4h0M353.5 239.8h0M350.9 247.1h0" stroke="#000" stroke-width="3.5" stroke-linecap="round" fill="none"/>
<line x1="340.5" x2="418.4" y1="191.7" y2="191.7" stroke="#ff0000" stroke-opacity="0.5" stroke-width="1.8"/>
<line x1="340.5" x2="418.4" y1="310.5" y2="310.5" stroke="#ff0000" stroke-opacity="0.55" stroke-width="2.6"/>
<line x1="344" x2="344" y1="326.4" y2="186.2" stroke="#ff0000" stroke-opacity="0.5" stroke-width="1.8" stroke-dasharray="6.3 2.9"/>
<line x1="346.6" x2="346.6" y1="326.4" y2="186.2" stroke="#ff0000" stroke-opacity="0.7" stroke-width="1.8" stroke-dasharray="6.3 2.9"/>
</g>
<rect x="340.5" y="186.2" width="77.9" height="139.7" fill="none" stroke="#262626" stroke-width="1"/>
<line x1="336.5" x2="340.5" y1="322.2" y2="322.2" stroke="#262626" stroke-width="1"/>
<line x1="336.5" x2="340.5" y1="289.1" y2="289.1" stroke="#262626" stroke-width="1"/>
<line x1="336.5" x2="340.5" y1="256" y2="256" stroke="#262626" stroke-width="1"/>
<line x1="336.5" x2="340.5" y1="222.9" y2="222.9" stroke="#262626" stroke-width="1"/>
<line x1="336.5" x2="340.5" y1="189.8" y2="189.8" stroke="#262626" stroke-width="1"/>
<line x1="340.5" x2="340.5" y1="325.9" y2="329.9" stroke="#262626" stroke-width="1"/>
<text x="340.5" y="342.1" font-size="11.4" text-anchor="middle" textLength="6.9" lengthAdjust="spacingAndGlyphs">0</text>
<line x1="406.5" x2="406.5" y1="325.9" y2="329.9" stroke="#262626" stroke-width="1"/>
<text x="406.5" y="342.1" font-size="11.4" text-anchor="middle" textLength="13.8" lengthAdjust="spacingAndGlyphs">20</text>
<g clip-path="url(#c14)">
<path d="M439.1 196.2 L443.2 193.5 L447.3 194.8 L450.0 198.9 L455.4 200.3 L462.2 200.3 L466.2 197.6 L469.6 198.2 L469.0 203.0 L466.2 207.0 L466.9 212.5 L464.9 216.5 L467.6 220.6 L466.2 224.0 L459.5 224.0 L455.4 222.0 L452.7 224.7 L448.6 227.4 L445.9 230.1 L448.6 232.1 L452.7 234.1 L455.4 238.2 L455.4 242.3 L451.3 246.3 L445.9 249.1 L441.8 251.8 L439.1 253.8 L438.5 245.0 L438.5 231.4 L438.5 217.9 L438.5 204.3 Z" fill="#00ffff"/><path d="M443.7 195.5h0M445.3 195.0h0M440.3 197.7h0M441.4 197.8h0M443.9 197.2h0M446.7 196.5h0M467.6 198.2h0M441.3 199.0h0M443.0 199.4h0M444.3 198.9h0M447.7 200.0h0M466.7 199.3h0M467.6 199.5h0M439.0 201.1h0M444.5 201.9h0M447.1 200.4h0M448.1 202.0h0M451.0 200.6h0M453.6 202.2h0M457.3 201.4h0M460.7 201.5h0M462.7 201.1h0M464.9 201.1h0M468.1 201.4h0M439.0 203.8h0M441.0 202.3h0M443.0 203.3h0M445.2 204.0h0M447.0 203.5h0M450.5 203.9h0M452.3 202.7h0M453.9 203.6h0M457.4 204.2h0M459.6 202.9h0M460.6 203.7h0M463.1 203.2h0M466.9 202.2h0M469.0 202.2h0M440.2 205.7h0M441.3 205.6h0M443.8 205.2h0M447.5 205.5h0M448.4 205.4h0M451.8 205.5h0M454.4 205.3h0M455.2 205.9h0M457.4 204.3h0M460.3 206.0h0M462.5 205.3h0M467.0 204.9h0M438.8 207.5h0M439.9 206.3h0M442.4 206.2h0M446.4 207.0h0M447.6 207.0h0M449.2 207.9h0M452.1 207.3h0M454.0 206.3h0M456.9 207.1h0M460.1 207.1h0M460.5 206.8h0M463.2 208.0h0M465.1 207.1h0M440.4 209.0h0M440.9 209.8h0M443.5 209.0h0M449.1 209.0h0M451.0 209.0h0M453.7 210.0h0M461.2 209.0h0M463.6 209.5h0M464.3 208.4h0M438.8 211.2h0M439.9 210.7h0M443.2 210.4h0M444.5 210.5h0M448.3 210.4h0M450.2 210.7h0M451.8 210.8h0M454.3 211.5h0M457.1 210.3h0M458.5 210.3h0M461.8 211.0h0M462.8 211.4h0M466.6 211.1h0M438.7 213.7h0M442.9 213.4h0M444.3 213.3h0M447.0 214.1h0M449.1 212.9h0M452.1 214.0h0M453.1 212.6h0M458.9 213.1h0M461.2 213.0h0M462.2 213.2h0M464.7 212.5h0M440.8 215.4h0M442.3 214.4h0M445.9 214.2h0M448.1 215.1h0M450.2 215.6h0M452.4 214.4h0M454.9 215.8h0M456.0 215.7h0M460.1 214.8h0M461.8 215.9h0M463.5 214.7h0M465.4 215.0h0M439.1 217.8h0M441.5 216.5h0M444.2 217.2h0M446.2 218.0h0M447.8 216.4h0M451.7 217.1h0M452.8 218.0h0M456.2 217.4h0M458.7 217.3h0M460.9 216.3h0M462.0 216.5h0M440.1 219.5h0M442.9 219.0h0M444.3 218.9h0M447.8 220.1h0M449.6 218.7h0M454.8 220.0h0M456.3 218.2h0M458.2 218.2h0M461.2 218.7h0M463.6 219.8h0M465.7 218.4h0M438.7 222.0h0M441.4 220.8h0M444.8 221.4h0M446.3 221.4h0M448.0 220.5h0M450.5 221.6h0M454.3 220.1h0M455.4 220.7h0M457.8 221.6h0M461.0 220.5h0M462.5 220.8h0M464.4 220.4h0M467.3 220.7h0M440.1 222.7h0M442.7 223.0h0M446.2 222.4h0M448.6 222.5h0M450.0 222.3h0M451.6 223.4h0M462.4 223.2h0M464.4 222.6h0M466.0 223.7h0M439.9 224.6h0M442.8 224.8h0M444.0 225.3h0M446.0 224.2h0M448.8 226.0h0M439.3 226.4h0M441.2 227.3h0M442.6 226.6h0M445.7 227.0h0M448.5 226.8h0M439.0 228.4h0M441.9 229.2h0M443.6 228.4h0M446.7 228.8h0M439.4 231.2h0M440.3 230.9h0M442.9 230.1h0M445.4 232.0h0M440.0 233.7h0M442.7 232.8h0M444.0 232.5h0M447.0 232.2h0M449.3 232.7h0M439.1 235.4h0M441.1 234.5h0M442.5 234.3h0M444.9 234.8h0M447.3 234.0h0M450.5 235.5h0M451.5 234.2h0M440.4 236.6h0M441.0 237.4h0M443.6 236.0h0M446.3 237.2h0M449.2 236.4h0M451.9 237.0h0M453.3 237.6h0M438.7 238.3h0M442.0 239.0h0M446.2 238.9h0M448.3 239.9h0M450.9 239.9h0M452.9 238.8h0M454.7 238.8h0M443.8 241.9h0M446.0 240.6h0M448.8 240.6h0M450.8 240.7h0M453.2 241.2h0M440.1 242.5h0M443.6 243.5h0M444.3 241.9h0M448.6 242.8h0M450.6 243.8h0M451.7 243.0h0M453.9 242.1h0M440.3 245.8h0M442.2 245.9h0M444.8 245.4h0M446.5 245.0h0M449.1 244.3h0M450.9 245.6h0M438.6 246.1h0M441.1 247.4h0M442.0 247.1h0M445.8 246.1h0M447.6 246.1h0M449.5 246.2h0M439.2 249.8h0M443.4 249.2h0M440.3 251.7h0M443.4 250.6h0M439.4 253.3h0" stroke="#00ffff" stroke-width="3.5" stroke-linecap="round" fill="none"/>
<path d="M437.8 190.1 L440.5 189.2 L442.5 190.8 L441.2 193.5 L439.1 194.2 Z" fill="#000"/><path d="M438.9 190.3h0M441.3 190.5h0M442.0 190.4h0M438.7 191.3h0M440.5 191.3h0M441.4 191.6h0M439.6 193.6h0M441.2 192.6h0" stroke="#000" stroke-width="3.5" stroke-linecap="round" fill="none"/>
<path d="M441.1 195.7h0M445.5 195.9h0M440.1 197.4h0M444.6 197.5h0M442.2 198.7h0M443.8 198.8h0M447.7 198.4h0M440.1 200.0h0M442.0 199.6h0M444.6 200.1h0M442.8 201.3h0M444.5 202.1h0M445.4 201.2h0M440.4 203.4h0M441.2 204.3h0M442.4 204.8h0M445.0 204.1h0M441.8 205.6h0M442.6 211.2h0M444.3 211.2h0" stroke="#000" stroke-width="3.5" stroke-linecap="round" fill="none"/>
<path d="M448.9 217.4h0M447.8 218.7h0M448.3 220.6h0M448.1 222.3h0M448.0 225.2h0M450.0 224.8h0" stroke="#000" stroke-width="3.5" stroke-linecap="round" fill="none"/>
<path d="M443.2 231.4 L445.9 232.1 L444.6 234.1 L443.2 233.5 Z" fill="#000"/><path d="M443.4 232.1h0M443.8 233.5h0" stroke="#000" stroke-width="3.5" stroke-linecap="round" fill="none"/>
<path d="M438.5 318.3 L440.5 317.7 L442.5 321.7 L441.2 323.1 L439.1 321.1 Z" fill="#000"/><path d="M440.6 317.9h0M439.0 318.8h0M440.4 318.4h0M440.6 320.2h0M440.3 321.5h0M441.2 321.9h0" stroke="#000" stroke-width="3.5" stroke-linecap="round" fill="none"/>
<line x1="433.8" x2="511.7" y1="286.1" y2="286.1" stroke="#ff0000" stroke-opacity="0.5" stroke-width="1.8"/>
<line x1="433.8" x2="511.7" y1="292.6" y2="292.6" stroke="#ff0000" stroke-opacity="0.5" stroke-width="1.8"/>
<line x1="436.7" x2="436.7" y1="326.4" y2="186.2" stroke="#ff0000" stroke-opacity="0.45" stroke-width="3.4" stroke-dasharray="6.3 2.9"/>
</g>
<rect x="433.8" y="186.2" width="77.9" height="139.7" fill="none" stroke="#262626" stroke-width="1"/>
<line x1="429.8" x2="433.8" y1="322.2" y2="322.2" stroke="#262626" stroke-width="1"/>
<line x1="429.8" x2="433.8" y1="289.1" y2="289.1" stroke="#262626" stroke-width="1"/>
<line x1="429.8" x2="433.8" y1="256" y2="256" stroke="#262626" stroke-width="1"/>
<line x1="429.8" x2="433.8" y1="222.9" y2="222.9" stroke="#262626" stroke-width="1"/>
<line x1="429.8" x2="433.8" y1="189.8" y2="189.8" stroke="#262626" stroke-width="1"/>
<line x1="433.8" x2="433.8" y1="325.9" y2="329.9" stroke="#262626" stroke-width="1"/>
<text x="433.8" y="342.1" font-size="11.4" text-anchor="middle" textLength="6.9" lengthAdjust="spacingAndGlyphs">0</text>
<line x1="499.8" x2="499.8" y1="325.9" y2="329.9" stroke="#262626" stroke-width="1"/>
<text x="499.8" y="342.1" font-size="11.4" text-anchor="middle" textLength="13.8" lengthAdjust="spacingAndGlyphs">20</text>
<g clip-path="url(#c15)">
<path d="M531.8 190.1 L538.6 188.7 L545.3 189.4 L550.8 189.4 L551.4 193.5 L550.1 197.6 L552.1 201.6 L557.5 204.3 L563.0 207.0 L568.4 211.1 L573.8 214.5 L577.2 217.2 L576.5 219.9 L571.1 220.6 L565.7 221.3 L560.2 222.0 L556.2 221.3 L552.1 219.9 L548.0 219.2 L544.0 221.3 L539.9 224.7 L537.2 228.7 L535.8 235.5 L535.2 240.9 L533.1 240.9 L531.1 235.5 L531.1 224.7 L531.1 211.1 L531.1 197.6 Z" fill="#00ffff"/><path d="M538.4 188.9h0M537.9 189.7h0M540.1 191.4h0M545.7 190.8h0M547.8 190.6h0M549.4 190.2h0M533.0 191.5h0M534.2 192.9h0M536.5 192.0h0M540.1 192.8h0M542.5 191.7h0M544.4 192.5h0M545.6 192.2h0M548.4 191.8h0M549.9 191.8h0M531.4 195.4h0M532.5 194.2h0M534.9 195.2h0M538.2 193.9h0M540.2 194.3h0M541.6 194.4h0M544.8 193.9h0M547.6 193.7h0M548.9 195.4h0M532.5 196.4h0M534.9 196.3h0M536.3 196.1h0M539.6 196.5h0M541.3 196.0h0M543.9 195.7h0M549.0 196.6h0M550.2 196.3h0M531.1 197.7h0M534.3 197.6h0M536.4 197.6h0M539.8 199.4h0M542.7 198.6h0M545.1 198.5h0M546.3 198.3h0M550.4 199.3h0M532.6 199.8h0M535.1 201.0h0M536.9 200.1h0M539.6 200.5h0M541.7 200.6h0M543.8 199.5h0M546.5 199.6h0M547.5 200.3h0M550.8 201.3h0M533.4 201.7h0M534.7 202.9h0M537.0 203.3h0M539.9 203.0h0M542.7 202.0h0M545.0 201.9h0M548.1 201.5h0M549.7 201.8h0M551.6 202.1h0M553.4 202.9h0M532.3 203.4h0M534.5 204.3h0M535.9 203.5h0M539.1 203.5h0M540.8 204.3h0M543.5 203.6h0M545.1 204.2h0M547.9 204.8h0M550.6 203.9h0M552.7 204.3h0M555.2 205.0h0M531.5 206.1h0M532.8 206.6h0M536.0 206.3h0M537.8 206.4h0M540.8 207.1h0M542.2 205.5h0M544.0 207.0h0M546.9 206.9h0M549.0 206.4h0M551.7 206.9h0M555.7 205.9h0M559.7 205.9h0M562.9 207.1h0M532.7 207.9h0M533.8 208.7h0M537.1 209.0h0M539.0 207.4h0M540.8 208.1h0M546.5 207.5h0M547.4 208.9h0M550.9 208.6h0M552.8 208.3h0M555.3 207.6h0M558.0 209.0h0M560.9 208.1h0M561.3 208.2h0M531.6 209.4h0M534.4 210.6h0M536.5 211.2h0M537.5 210.7h0M539.4 210.0h0M541.9 209.6h0M545.3 210.3h0M548.0 211.3h0M550.0 211.3h0M551.9 210.5h0M553.7 210.1h0M555.8 209.5h0M558.5 211.1h0M561.4 211.2h0M564.1 210.2h0M532.9 213.2h0M534.8 213.1h0M537.2 212.2h0M538.9 212.2h0M542.1 213.1h0M543.6 211.8h0M546.2 211.6h0M548.3 212.9h0M550.8 211.8h0M553.5 213.1h0M555.8 212.2h0M557.8 211.6h0M560.9 212.4h0M562.4 211.7h0M564.2 212.4h0M569.2 213.3h0M532.0 215.0h0M536.4 215.3h0M538.8 213.7h0M539.5 214.1h0M543.2 213.4h0M545.2 214.0h0M548.0 213.3h0M549.1 215.3h0M554.5 213.9h0M557.3 214.0h0M558.6 213.7h0M561.5 214.4h0M563.5 214.0h0M565.9 214.3h0M568.9 214.2h0M569.7 214.9h0M572.0 214.1h0M533.0 216.6h0M534.4 215.4h0M536.8 216.8h0M539.2 216.3h0M541.7 216.9h0M544.0 215.3h0M546.5 216.1h0M547.9 216.7h0M550.0 216.7h0M553.9 217.1h0M555.5 216.5h0M558.3 216.2h0M558.9 215.8h0M561.6 216.7h0M563.9 215.4h0M566.8 215.7h0M569.3 215.5h0M571.0 215.9h0M573.1 215.7h0M575.0 216.8h0M533.8 217.4h0M536.1 217.7h0M538.1 217.9h0M540.7 218.4h0M542.0 218.5h0M544.0 217.8h0M547.6 217.3h0M548.5 219.0h0M551.3 218.3h0M554.1 218.7h0M556.1 218.6h0M559.3 218.5h0M560.7 218.3h0M563.5 217.6h0M565.8 218.9h0M567.1 218.4h0M570.8 218.5h0M574.4 219.1h0M531.8 221.0h0M533.8 219.5h0M536.9 221.0h0M540.2 221.3h0M541.4 221.3h0M544.4 219.5h0M558.4 220.0h0M562.1 221.1h0M564.3 220.0h0M567.5 220.8h0M531.5 222.3h0M536.7 222.2h0M538.4 221.5h0M540.8 222.7h0M563.9 221.3h0M533.1 224.9h0M535.0 225.0h0M536.8 223.9h0M538.9 223.9h0M533.8 225.2h0M535.9 226.0h0M537.5 225.5h0M531.6 227.4h0M535.3 228.6h0M536.6 227.4h0M531.2 230.0h0M534.0 231.1h0M534.8 230.2h0M533.1 233.1h0M535.4 232.5h0M534.3 233.6h0M535.2 233.4h0M532.6 237.1h0M533.8 236.2h0M534.3 238.9h0M534.5 239.2h0" stroke="#00ffff" stroke-width="3.5" stroke-linecap="round" fill="none"/>
<path d="M538.6 319.7 L544.0 315.6 L548.0 311.6 L551.4 308.2 L554.1 306.8 L556.2 308.9 L554.8 312.9 L554.1 318.3 L553.5 322.4 L548.0 323.1 L542.6 322.4 L538.6 322.4 Z" fill="#00ffff"/><path d="M554.2 306.9h0M552.1 309.4h0M554.2 309.1h0M551.1 310.7h0M554.4 310.8h0M547.5 312.6h0M551.0 312.6h0M552.4 312.4h0M554.1 312.6h0M544.8 315.5h0M549.8 314.1h0M552.2 314.0h0M554.0 314.6h0M544.0 316.3h0M545.6 316.9h0M548.0 316.1h0M550.6 317.1h0M552.6 317.3h0M540.2 318.8h0M542.8 317.9h0M545.0 319.1h0M547.0 319.5h0M549.4 318.0h0M551.7 317.7h0M538.9 320.1h0M541.8 320.5h0M542.2 320.1h0M544.4 321.1h0M546.8 319.7h0M550.1 320.0h0M553.1 320.9h0M540.5 321.7h0M542.5 322.4h0M544.5 321.5h0M547.3 321.9h0M548.0 322.8h0" stroke="#00ffff" stroke-width="3.5" stroke-linecap="round" fill="none"/>
<path d="M536.7 197.5h0M540.0 197.9h0M538.1 199.3h0M539.5 199.3h0M536.7 201.2h0M535.8 202.7h0M540.6 204.1h0M535.6 205.6h0M541.9 205.2h0M544.0 205.7h0M534.7 206.9h0M540.0 206.8h0M540.4 208.9h0M545.6 210.3h0M537.6 210.7h0M540.0 211.6h0M547.2 210.8h0M536.4 212.8h0M544.5 212.2h0M545.6 212.1h0M537.2 213.7h0M543.6 213.8h0M548.3 213.6h0M534.5 215.3h0M536.8 215.0h0M538.3 215.4h0M543.2 217.1h0M536.1 218.3h0M547.7 218.6h0M543.9 219.4h0M545.6 219.2h0M547.9 219.3h0M541.4 221.3h0M542.5 220.5h0M543.8 220.7h0M540.0 222.3h0" stroke="#000" stroke-width="3.5" stroke-linecap="round" fill="none"/>
<path d="M538.6 222.0 L545.3 220.6 L546.7 224.7 L544.0 228.7 L541.3 232.8 L539.2 238.2 L538.6 242.3 L537.2 245.0 L534.5 244.3 L534.5 238.2 L535.8 230.1 L537.2 224.7 Z" fill="#000"/><path d="M540.3 221.8h0M542.5 222.3h0M543.6 221.4h0M545.8 222.3h0M538.4 222.7h0M540.3 223.3h0M541.3 223.5h0M543.7 223.4h0M544.5 222.7h0M537.6 224.5h0M539.0 224.0h0M541.2 224.6h0M542.6 225.1h0M543.7 225.1h0M546.0 224.8h0M538.3 226.4h0M539.8 225.7h0M541.1 225.6h0M543.0 225.8h0M545.2 226.3h0M536.5 227.6h0M537.7 226.9h0M539.2 227.8h0M541.2 227.6h0M542.5 226.9h0M544.4 227.2h0M536.4 228.2h0M538.7 229.1h0M540.4 228.8h0M541.4 229.1h0M543.6 229.1h0M536.1 230.6h0M537.4 229.9h0M539.6 230.5h0M540.8 229.6h0M542.6 230.1h0M536.5 230.9h0M538.7 231.0h0M539.9 231.7h0M541.5 231.4h0M536.5 233.0h0M538.2 232.6h0M538.8 233.3h0M541.0 232.6h0M537.2 234.0h0M538.1 234.3h0M539.8 234.0h0M536.1 235.1h0M537.4 235.6h0M539.6 235.7h0M535.7 237.2h0M537.3 237.0h0M538.2 237.0h0M539.5 237.2h0M536.0 237.9h0M537.6 237.8h0M535.2 239.8h0M537.0 239.3h0M538.0 240.2h0M535.8 240.7h0M538.0 241.1h0M535.7 242.8h0M536.9 242.9h0M534.9 243.5h0M536.4 244.0h0M537.6 243.4h0" stroke="#000" stroke-width="3.5" stroke-linecap="round" fill="none"/>
<path d="M537.2 309.5 L539.9 307.5 L541.9 308.9 L540.6 312.9 L539.2 317.0 L537.9 321.1 L535.2 323.1 L532.5 322.4 L532.5 319.0 L535.8 316.3 Z" fill="#000"/><path d="M539.8 307.6h0M540.4 309.1h0M538.4 309.7h0M540.1 310.2h0M541.6 309.8h0M537.7 311.8h0M538.9 311.8h0M540.4 311.3h0M537.6 313.3h0M539.9 313.3h0M536.8 313.8h0M539.0 314.2h0M536.9 316.0h0M538.3 316.0h0M539.3 315.7h0M535.2 316.9h0M537.5 317.5h0M538.6 317.1h0M533.1 318.7h0M534.7 318.2h0M535.9 317.9h0M538.3 318.6h0M532.8 320.2h0M533.7 319.6h0M536.1 319.5h0M536.9 319.5h0M533.4 321.1h0M534.9 320.9h0M536.9 321.3h0M533.8 322.4h0M535.1 323.0h0" stroke="#000" stroke-width="3.5" stroke-linecap="round" fill="none"/>
<line x1="527.2" x2="605.1" y1="299.4" y2="299.4" stroke="#ff0000" stroke-opacity="0.5" stroke-width="1.8"/>
<line x1="530.7" x2="530.7" y1="326.4" y2="186.2" stroke="#ff0000" stroke-opacity="0.5" stroke-width="1.8" stroke-dasharray="6.3 2.9"/>
</g>
<rect x="527.2" y="186.2" width="77.9" height="139.7" fill="none" stroke="#262626" stroke-width="1"/>
<line x1="523.2" x2="527.2" y1="322.2" y2="322.2" stroke="#262626" stroke-width="1"/>
<line x1="523.2" x2="527.2" y1="289.1" y2="289.1" stroke="#262626" stroke-width="1"/>
<line x1="523.2" x2="527.2" y1="256" y2="256" stroke="#262626" stroke-width="1"/>
<line x1="523.2" x2="527.2" y1="222.9" y2="222.9" stroke="#262626" stroke-width="1"/>
<line x1="523.2" x2="527.2" y1="189.8" y2="189.8" stroke="#262626" stroke-width="1"/>
<line x1="527.2" x2="527.2" y1="325.9" y2="329.9" stroke="#262626" stroke-width="1"/>
<text x="527.2" y="342.1" font-size="11.4" text-anchor="middle" textLength="6.9" lengthAdjust="spacingAndGlyphs">0</text>
<line x1="593.2" x2="593.2" y1="325.9" y2="329.9" stroke="#262626" stroke-width="1"/>
<text x="593.2" y="342.1" font-size="11.4" text-anchor="middle" textLength="13.8" lengthAdjust="spacingAndGlyphs">20</text>
<g clip-path="url(#c16)">
<path d="M624.1 189.4 L630.2 188.7 L634.9 189.4 L635.6 194.8 L637.0 200.3 L641.0 204.3 L646.5 203.0 L650.5 202.3 L656.0 205.7 L661.4 209.8 L665.4 211.1 L669.5 213.1 L668.1 215.2 L662.7 216.5 L660.0 219.2 L660.0 224.7 L657.3 228.7 L653.2 230.1 L647.8 228.7 L643.8 227.4 L641.0 226.0 L637.0 228.7 L632.9 234.1 L628.8 238.2 L624.8 235.5 L623.4 227.4 L623.4 217.9 L623.4 204.3 L623.7 194.8 Z" fill="#00ffff"/><path d="M634.1 189.4h0M626.1 190.3h0M628.0 189.7h0M632.0 190.4h0M635.0 191.0h0M625.2 192.2h0M626.4 192.6h0M628.3 193.0h0M633.5 192.3h0M625.8 194.8h0M627.5 194.2h0M630.8 195.4h0M631.8 194.6h0M635.2 194.2h0M624.6 196.3h0M626.4 195.9h0M628.5 197.0h0M630.5 195.9h0M634.1 196.1h0M623.6 198.1h0M626.4 199.2h0M628.1 198.5h0M630.2 197.7h0M633.3 198.1h0M635.9 198.9h0M636.3 198.2h0M624.9 200.9h0M626.4 201.2h0M629.4 201.3h0M630.7 200.6h0M634.7 200.3h0M636.2 199.9h0M637.9 201.3h0M625.8 201.9h0M628.1 201.6h0M630.5 202.7h0M633.5 202.0h0M635.7 202.3h0M636.9 202.6h0M648.6 203.2h0M624.9 203.9h0M627.6 205.4h0M628.4 204.6h0M631.3 203.7h0M634.0 203.4h0M637.0 205.1h0M638.2 203.5h0M640.4 205.3h0M645.4 204.9h0M648.4 205.1h0M650.8 204.3h0M652.2 204.9h0M654.9 205.3h0M626.6 206.7h0M629.0 206.8h0M630.3 207.2h0M633.1 205.5h0M634.3 206.7h0M636.5 206.1h0M641.4 206.6h0M644.5 206.9h0M646.3 206.4h0M648.8 207.0h0M651.7 206.1h0M653.9 206.7h0M654.6 207.2h0M625.1 207.5h0M627.7 207.7h0M629.6 207.7h0M630.8 207.9h0M634.7 208.6h0M636.6 208.7h0M639.1 209.0h0M641.3 207.8h0M643.9 209.0h0M644.4 207.8h0M648.3 208.4h0M650.4 209.3h0M651.4 209.2h0M654.2 208.0h0M656.8 209.4h0M660.0 208.8h0M623.9 209.6h0M625.6 210.2h0M628.3 211.4h0M630.3 211.3h0M633.2 209.4h0M638.2 210.5h0M639.0 209.8h0M642.3 211.3h0M643.6 210.5h0M646.1 209.5h0M648.2 209.9h0M651.4 210.4h0M654.3 209.9h0M655.5 209.8h0M657.7 210.4h0M659.3 209.6h0M624.8 213.3h0M627.2 213.0h0M628.3 213.3h0M630.9 212.9h0M636.2 212.1h0M638.0 212.6h0M640.1 211.3h0M642.5 212.1h0M645.9 212.1h0M647.5 212.4h0M648.9 213.3h0M651.4 213.1h0M654.6 212.4h0M656.3 211.4h0M659.2 211.9h0M660.8 211.9h0M663.3 211.8h0M665.3 212.8h0M668.6 213.0h0M624.3 214.8h0M625.0 215.2h0M630.3 215.1h0M633.1 213.5h0M635.4 214.2h0M637.2 213.5h0M639.7 213.3h0M641.2 214.7h0M644.2 214.3h0M646.8 214.7h0M649.6 213.4h0M650.2 214.5h0M653.1 214.6h0M655.8 213.7h0M658.5 214.9h0M659.8 214.5h0M664.7 215.2h0M667.4 214.3h0M624.0 216.8h0M627.3 216.2h0M630.2 216.9h0M632.3 217.2h0M635.2 216.7h0M638.1 215.8h0M640.0 216.3h0M642.0 216.0h0M645.4 216.4h0M648.5 217.3h0M649.9 217.0h0M652.3 216.3h0M655.4 216.2h0M657.4 216.6h0M661.7 217.0h0M624.4 218.7h0M626.3 219.3h0M627.5 218.6h0M630.2 217.8h0M631.7 218.5h0M634.5 218.7h0M637.9 217.8h0M640.0 219.0h0M642.2 218.6h0M643.8 217.6h0M647.2 217.3h0M649.1 218.8h0M653.4 218.8h0M655.2 217.7h0M658.7 218.8h0M660.4 218.8h0M624.7 221.0h0M627.7 220.8h0M628.7 219.8h0M632.4 220.1h0M633.7 221.3h0M637.8 221.2h0M641.7 219.9h0M643.3 220.6h0M646.2 219.4h0M647.3 219.7h0M648.9 219.8h0M651.4 220.2h0M654.2 219.3h0M657.2 219.5h0M659.9 219.4h0M625.2 222.9h0M628.9 221.6h0M631.0 222.9h0M632.9 222.9h0M635.3 222.0h0M637.7 222.3h0M639.9 221.7h0M641.0 222.8h0M644.4 222.7h0M646.1 221.8h0M647.9 221.9h0M651.5 223.2h0M652.7 222.1h0M656.0 222.2h0M658.4 222.7h0M659.8 221.4h0M624.2 223.7h0M626.8 224.5h0M628.7 225.2h0M631.9 224.5h0M633.1 224.3h0M635.6 223.4h0M638.5 224.2h0M641.1 224.6h0M642.7 224.8h0M646.8 225.3h0M649.6 223.3h0M651.7 224.3h0M655.1 223.9h0M657.8 224.3h0M658.4 223.9h0M624.8 226.8h0M627.9 225.3h0M629.7 226.6h0M631.7 226.7h0M635.8 226.9h0M637.9 226.7h0M644.0 226.4h0M645.6 227.0h0M648.9 225.9h0M651.1 225.4h0M654.1 226.7h0M655.9 226.9h0M656.9 227.3h0M624.1 228.6h0M626.5 228.8h0M629.5 228.3h0M632.1 227.5h0M633.8 227.9h0M636.2 227.3h0M648.9 227.9h0M653.1 227.7h0M654.3 227.3h0M656.2 228.0h0M624.2 231.3h0M625.0 229.3h0M628.6 230.5h0M629.6 230.1h0M635.6 230.1h0M636.3 229.5h0M627.8 231.4h0M629.0 232.2h0M631.9 231.7h0M633.5 232.9h0M626.6 234.2h0M628.2 233.7h0M629.6 234.7h0M626.9 236.2h0M629.7 237.1h0M628.2 237.6h0" stroke="#00ffff" stroke-width="3.5" stroke-linecap="round" fill="none"/>
<path d="M626.1 310.2 L631.6 308.9 L637.0 307.5 L642.4 306.8 L647.8 306.1 L652.6 306.1 L654.6 308.2 L653.2 310.2 L647.8 312.2 L642.4 314.3 L638.3 317.0 L635.6 320.4 L634.3 323.1 L627.5 323.1 L625.5 319.7 L625.5 314.3 Z" fill="#00ffff"/><path d="M641.9 308.2h0M643.0 307.0h0M646.4 308.4h0M648.7 307.2h0M651.0 308.3h0M654.1 308.4h0M630.7 309.8h0M634.3 309.1h0M636.4 309.1h0M640.8 309.0h0M643.0 309.6h0M644.9 309.5h0M646.5 309.3h0M649.5 310.6h0M652.0 310.4h0M627.8 311.3h0M630.4 312.4h0M632.9 312.2h0M634.2 312.3h0M636.6 312.0h0M638.4 310.9h0M641.2 311.3h0M644.7 311.2h0M625.8 314.2h0M630.6 314.7h0M634.0 314.1h0M636.2 314.4h0M637.1 312.9h0M640.0 314.7h0M642.1 314.0h0M628.6 316.6h0M629.8 316.0h0M633.1 316.0h0M634.4 316.3h0M637.8 316.3h0M627.2 318.0h0M629.6 317.0h0M630.5 318.1h0M633.9 317.7h0M637.1 317.4h0M626.9 319.3h0M631.1 320.6h0M631.6 319.1h0M634.8 320.2h0M628.3 321.4h0M630.2 320.9h0M633.3 321.9h0M630.3 323.0h0" stroke="#00ffff" stroke-width="3.5" stroke-linecap="round" fill="none"/>
<path d="M627.1 194.2h0M629.9 194.7h0M629.9 196.5h0M626.6 201.8h0M631.5 201.5h0M626.5 205.0h0M628.3 205.3h0M628.8 208.8h0M633.2 208.7h0M627.3 210.9h0" stroke="#000" stroke-width="3.5" stroke-linecap="round" fill="none"/>
<path d="M636.6 218.8h0M633.5 219.9h0M635.9 219.2h0M639.6 220.1h0M631.9 220.6h0M633.7 220.7h0M638.1 221.3h0M639.9 220.7h0M629.3 222.2h0M631.3 222.6h0M633.4 222.0h0M637.2 222.6h0M639.0 222.9h0M629.1 224.2h0M631.0 223.4h0M631.7 224.4h0M633.8 224.3h0M638.4 224.2h0M640.3 223.4h0M634.7 225.4h0M639.5 225.8h0M628.9 226.7h0M633.5 227.2h0M635.8 226.7h0M638.6 226.2h0M639.9 226.2h0M630.3 227.9h0M631.2 228.5h0M639.7 228.4h0M630.9 229.1h0M631.7 229.9h0M633.8 229.8h0M635.1 229.7h0M636.4 229.4h0M628.7 231.2h0M630.1 230.8h0M635.0 230.8h0M630.3 232.1h0M633.8 232.6h0M629.6 234.1h0M633.4 233.1h0M634.3 233.9h0M632.1 235.3h0M633.7 234.6h0M631.4 236.4h0M629.5 237.7h0M630.0 237.7h0M632.0 237.9h0M633.9 237.6h0M630.0 238.8h0" stroke="#000" stroke-width="3.5" stroke-linecap="round" fill="none"/>
<path d="M626.0 299.5h0M627.5 302.9h0M628.0 305.2h0M627.3 307.0h0M630.5 306.9h0M631.6 308.7h0M627.4 309.5h0M630.0 309.2h0M632.5 309.9h0M626.3 310.7h0M625.8 311.8h0M629.3 312.4h0M626.6 313.2h0M626.8 315.3h0M628.6 317.9h0M627.6 318.8h0" stroke="#000" stroke-width="3.5" stroke-linecap="round" fill="none"/>
<line x1="620.5" x2="698.4" y1="296" y2="296" stroke="#ff0000" stroke-opacity="0.5" stroke-width="1.8"/>
<line x1="620.5" x2="698.4" y1="304.3" y2="304.3" stroke="#ff0000" stroke-opacity="0.5" stroke-width="1.8"/>
<line x1="622.6" x2="622.6" y1="326.4" y2="186.2" stroke="#ff0000" stroke-opacity="0.6" stroke-width="3.0" stroke-dasharray="6.3 2.9"/>
</g>
<rect x="620.5" y="186.2" width="77.9" height="139.7" fill="none" stroke="#262626" stroke-width="1"/>
<line x1="616.5" x2="620.5" y1="322.2" y2="322.2" stroke="#262626" stroke-width="1"/>
<line x1="616.5" x2="620.5" y1="289.1" y2="289.1" stroke="#262626" stroke-width="1"/>
<line x1="616.5" x2="620.5" y1="256" y2="256" stroke="#262626" stroke-width="1"/>
<line x1="616.5" x2="620.5" y1="222.9" y2="222.9" stroke="#262626" stroke-width="1"/>
<line x1="616.5" x2="620.5" y1="189.8" y2="189.8" stroke="#262626" stroke-width="1"/>
<line x1="620.5" x2="620.5" y1="325.9" y2="329.9" stroke="#262626" stroke-width="1"/>
<text x="620.5" y="342.1" font-size="11.4" text-anchor="middle" textLength="6.9" lengthAdjust="spacingAndGlyphs">0</text>
<line x1="686.5" x2="686.5" y1="325.9" y2="329.9" stroke="#262626" stroke-width="1"/>
<text x="686.5" y="342.1" font-size="11.4" text-anchor="middle" textLength="13.8" lengthAdjust="spacingAndGlyphs">20</text>
<text transform="translate(9.2,256) rotate(-90)" font-size="11.4" text-anchor="middle" textLength="26" lengthAdjust="spacingAndGlyphs">Sol 2</text>
<text transform="translate(22,256) rotate(-90)" font-size="11.3" text-anchor="middle" textLength="136" lengthAdjust="spacingAndGlyphs">Downwind dir [° CW_fN]</text>
<g clip-path="url(#c20)">
<path d="M73.6 362.0h0M74.5 362.7h0M75.8 363.3h0M73.7 365.7h0M75.6 364.5h0M76.6 365.7h0M72.0 366.9h0M74.6 367.9h0M76.5 366.2h0M78.5 367.0h0M81.2 367.2h0M72.4 368.6h0M75.5 369.4h0M77.3 368.4h0M80.0 368.7h0M81.8 369.5h0M84.2 368.2h0M74.3 370.9h0M76.4 372.2h0M79.5 370.1h0M80.6 371.9h0M82.4 370.5h0M84.4 370.8h0M73.5 373.8h0M75.2 373.0h0M76.9 374.0h0M78.8 373.4h0M81.5 373.9h0M85.2 373.3h0M86.3 372.8h0M87.9 373.7h0M72.5 374.2h0M74.8 374.2h0M75.5 374.8h0M77.6 374.6h0M81.8 375.3h0M84.1 375.5h0M84.9 375.7h0M87.4 375.7h0M74.4 376.9h0M76.5 378.1h0M79.7 376.5h0M82.1 376.6h0M84.2 376.3h0M87.2 376.5h0M87.9 377.6h0M74.7 378.2h0M76.4 379.9h0M79.3 379.8h0M80.5 378.5h0M83.3 378.9h0M86.3 380.0h0M88.3 378.3h0M90.7 378.7h0M75.8 381.8h0M78.2 380.8h0M79.1 381.2h0M80.9 380.6h0M84.2 380.4h0M86.1 382.1h0M88.8 381.6h0M73.1 382.2h0M75.3 382.7h0M77.9 383.1h0M80.0 382.7h0M83.8 383.6h0M85.2 383.8h0M87.4 382.6h0M73.6 384.9h0M75.7 385.5h0M76.3 385.7h0M79.6 384.1h0M82.0 386.0h0M83.7 385.0h0M87.4 384.3h0M74.1 387.7h0M76.2 386.8h0M79.3 386.2h0M81.7 386.9h0M83.9 387.0h0M86.0 386.5h0M88.5 386.6h0M74.6 388.8h0M77.3 389.0h0M79.7 389.2h0M82.8 388.6h0M84.6 390.1h0M86.0 389.1h0M77.7 391.2h0M80.1 390.9h0M82.9 391.4h0M85.1 390.5h0M79.9 392.1h0" stroke="#00ffff" stroke-width="3.5" stroke-linecap="round" fill="none"/>
<path d="M97.6 459.0h0M100.3 458.9h0M103.0 458.1h0M105.0 458.1h0M93.4 460.7h0M96.3 460.9h0M100.9 461.2h0M103.0 460.9h0M106.5 459.5h0M108.1 461.1h0M109.9 461.0h0M113.6 461.0h0M93.2 461.9h0M95.3 462.1h0M98.6 462.9h0M100.2 463.1h0M101.6 461.7h0M103.8 461.4h0M107.3 462.0h0M108.8 462.3h0M114.1 462.6h0M90.6 463.3h0M92.5 463.2h0M93.9 464.5h0M97.2 463.4h0M98.5 463.6h0M100.8 464.3h0M106.5 464.5h0M108.5 463.7h0M110.7 464.2h0M113.7 463.6h0M115.7 463.4h0M89.5 466.0h0M94.1 466.2h0M96.9 465.8h0M100.5 466.2h0M102.1 465.8h0M105.4 465.4h0M106.5 465.5h0M109.7 465.2h0M111.9 466.0h0M87.6 468.9h0M89.0 467.8h0M92.3 468.8h0M95.0 468.0h0M97.7 469.0h0M99.3 467.3h0M101.4 468.5h0M105.5 467.7h0M88.5 469.1h0M91.8 470.1h0M92.8 471.1h0M96.5 471.2h0M97.5 471.0h0M99.5 470.1h0M102.2 469.2h0M86.1 473.2h0M88.0 472.0h0M90.5 472.9h0M91.7 472.3h0M93.5 471.5h0M96.2 471.3h0M99.7 471.2h0M101.6 472.4h0M84.5 473.7h0M86.0 474.6h0M89.2 474.9h0M90.4 475.0h0M94.0 475.1h0M96.5 474.6h0M97.1 474.3h0M99.5 473.4h0M82.8 475.9h0M84.7 475.6h0M88.4 476.2h0M89.0 476.0h0M92.7 475.4h0M86.9 477.3h0" stroke="#00ffff" stroke-width="3.5" stroke-linecap="round" fill="none"/>
<path d="M74.3 396.0h0M78.3 444.3h0M77.0 449.8h0M75.6 450.4h0M68.2 460.6h0" stroke="#00ffff" stroke-width="3.4" stroke-linecap="round" fill="none"/>
<path d="M66.4 359.1h0M67.8 358.3h0M65.5 360.3h0M66.8 360.5h0M68.7 359.6h0M65.7 362.3h0M67.0 362.7h0M68.6 362.2h0M66.3 363.8h0M68.4 364.7h0M65.2 366.6h0M66.9 366.5h0M65.9 368.9h0M66.8 368.6h0M70.3 368.7h0M66.5 369.6h0M71.0 369.8h0M65.2 371.2h0M68.4 370.6h0M70.2 371.1h0M66.3 372.4h0M67.5 372.0h0M71.4 372.8h0M65.3 373.6h0M67.2 374.3h0M70.2 374.1h0M72.1 374.0h0M66.6 375.0h0M67.8 374.9h0M69.5 375.8h0M70.8 375.7h0M65.3 376.7h0M67.4 376.3h0M69.9 376.7h0M71.8 377.0h0M68.0 377.8h0M69.8 377.5h0M71.2 378.5h0M65.6 379.2h0M67.0 379.2h0M71.5 379.6h0M69.4 380.9h0M70.9 380.7h0M65.4 382.0h0M69.1 382.7h0M70.5 382.5h0M72.3 382.4h0M69.5 383.7h0M67.1 384.6h0M72.1 384.5h0M70.8 386.3h0M67.0 388.2h0M68.6 387.4h0M66.4 388.6h0M67.6 389.4h0M69.2 389.0h0M70.9 388.7h0M72.3 388.6h0M70.1 390.6h0M71.6 390.4h0" stroke="#000" stroke-width="3.5" stroke-linecap="round" fill="none"/>
<path d="M70.2 458.6 L74.3 456.5 L79.7 456.5 L83.1 458.6 L86.5 462.6 L85.1 466.7 L82.4 469.4 L79.7 472.8 L77.0 476.2 L72.9 475.5 L70.2 471.4 L68.8 464.7 Z" fill="#000"/><path d="M76.2 456.5h0M77.9 456.8h0M78.7 456.7h0M73.2 457.3h0M75.3 457.2h0M77.1 457.4h0M79.0 458.3h0M79.6 457.6h0M70.9 458.7h0M73.2 459.0h0M74.5 458.9h0M75.9 459.0h0M77.9 458.7h0M79.3 458.7h0M80.4 458.7h0M82.0 458.9h0M70.1 460.7h0M71.8 460.7h0M73.7 460.4h0M75.6 460.9h0M76.7 460.4h0M77.9 460.7h0M79.7 460.1h0M82.1 459.9h0M82.9 460.1h0M69.7 462.2h0M71.3 462.1h0M72.7 461.6h0M74.5 462.0h0M75.5 461.9h0M77.3 462.2h0M79.7 461.7h0M81.1 462.0h0M82.3 462.3h0M84.4 462.0h0M86.0 462.3h0M70.9 463.0h0M71.9 463.6h0M74.0 462.8h0M75.7 463.0h0M76.9 463.7h0M78.2 463.5h0M80.0 463.1h0M81.4 463.2h0M83.0 462.8h0M85.2 463.5h0M86.1 462.9h0M69.6 464.2h0M71.0 464.1h0M72.4 464.5h0M75.0 464.5h0M75.8 465.0h0M77.3 465.2h0M79.6 464.5h0M80.9 465.1h0M82.7 464.5h0M83.7 464.3h0M85.6 464.9h0M69.2 465.5h0M70.1 465.6h0M72.4 466.5h0M73.7 466.2h0M74.7 466.3h0M76.7 466.3h0M78.1 465.7h0M80.0 465.6h0M81.7 465.6h0M83.7 466.3h0M84.8 465.5h0M69.8 467.6h0M71.5 467.3h0M73.2 467.7h0M74.9 467.0h0M76.5 466.9h0M77.3 467.8h0M79.8 467.8h0M80.8 467.3h0M82.9 467.5h0M84.3 467.1h0M70.6 468.5h0M71.8 468.7h0M73.2 468.5h0M75.8 469.0h0M77.0 468.6h0M78.0 468.9h0M80.0 468.9h0M81.7 468.9h0M70.1 469.9h0M70.9 470.7h0M73.2 469.9h0M74.2 470.7h0M76.5 469.9h0M78.2 470.1h0M79.5 469.8h0M80.6 470.2h0M72.2 471.5h0M73.5 471.4h0M74.7 471.0h0M76.3 471.8h0M78.4 471.7h0M79.6 471.9h0M71.7 472.6h0M73.0 473.0h0M74.0 472.9h0M76.2 472.7h0M77.8 472.8h0M79.5 472.5h0M73.9 474.1h0M75.3 474.5h0M77.2 474.8h0M76.5 475.6h0" stroke="#000" stroke-width="3.5" stroke-linecap="round" fill="none"/>
<path d="M65.3 466.2h0M65.0 469.8h0M66.0 470.6h0M68.1 470.2h0M65.6 471.5h0M66.8 473.3h0M64.9 475.8h0M66.8 475.7h0M67.5 478.8h0M65.1 480.9h0" stroke="#000" stroke-width="3.5" stroke-linecap="round" fill="none"/>
<path d="M66.4 445.7h0M66.1 451.1h0M66.1 466.0h0M65.5 472.1h0M66.1 475.5h0M67.5 477.5h0M70.9 478.2h0M66.1 482.3h0M68.2 485.7h0M67.5 489.7h0" stroke="#000" stroke-width="3.4" stroke-linecap="round" fill="none"/>
<line x1="60.5" x2="138.4" y1="369.6" y2="369.6" stroke="#ff0000" stroke-opacity="0.5" stroke-width="1.8"/>
<line x1="60.5" x2="138.4" y1="379.5" y2="379.5" stroke="#ff0000" stroke-opacity="0.5" stroke-width="1.8"/>
<line x1="68.2" x2="68.2" y1="494.1" y2="353.9" stroke="#ff0000" stroke-opacity="1.0" stroke-width="1.8" stroke-dasharray="6.3 2.9"/>
</g>
<rect x="60.5" y="353.9" width="77.9" height="139.7" fill="none" stroke="#262626" stroke-width="1"/>
<line x1="56.5" x2="60.5" y1="489.9" y2="489.9" stroke="#262626" stroke-width="1"/>
<text x="52.7" y="493.9" font-size="11.4" text-anchor="end" textLength="6.9" lengthAdjust="spacingAndGlyphs">0</text>
<line x1="56.5" x2="60.5" y1="456.8" y2="456.8" stroke="#262626" stroke-width="1"/>
<text x="52.7" y="460.8" font-size="11.4" text-anchor="end" textLength="14" lengthAdjust="spacingAndGlyphs">90</text>
<line x1="56.5" x2="60.5" y1="423.7" y2="423.7" stroke="#262626" stroke-width="1"/>
<text x="52.7" y="427.7" font-size="11.4" text-anchor="end" textLength="21" lengthAdjust="spacingAndGlyphs">180</text>
<line x1="56.5" x2="60.5" y1="390.6" y2="390.6" stroke="#262626" stroke-width="1"/>
<text x="52.7" y="394.6" font-size="11.4" text-anchor="end" textLength="21" lengthAdjust="spacingAndGlyphs">270</text>
<line x1="56.5" x2="60.5" y1="357.5" y2="357.5" stroke="#262626" stroke-width="1"/>
<text x="52.7" y="361.5" font-size="11.4" text-anchor="end" textLength="21" lengthAdjust="spacingAndGlyphs">360</text>
<line x1="60.5" x2="60.5" y1="493.6" y2="497.6" stroke="#262626" stroke-width="1"/>
<text x="60.5" y="509.8" font-size="11.4" text-anchor="middle" textLength="6.9" lengthAdjust="spacingAndGlyphs">0</text>
<line x1="126.5" x2="126.5" y1="493.6" y2="497.6" stroke="#262626" stroke-width="1"/>
<text x="126.5" y="509.8" font-size="11.4" text-anchor="middle" textLength="13.8" lengthAdjust="spacingAndGlyphs">20</text>
<text y="527.4" font-size="11.2" style="stroke-width:0.15px"><tspan x="59.3" textLength="63.6" lengthAdjust="spacingAndGlyphs">Speed [m s</tspan><tspan x="124.1" y="523.0" font-size="8.2" textLength="10" lengthAdjust="spacingAndGlyphs">−1</tspan><tspan x="136.5" y="527.4">]</tspan></text>
<g clip-path="url(#c21)">
<path d="M170.1 357.5h0M171.9 357.4h0M173.4 358.5h0M176.5 359.4h0M178.0 358.2h0M166.1 360.2h0M168.1 359.5h0M169.9 360.0h0M171.7 361.4h0M174.2 359.8h0M178.8 360.9h0M164.9 361.8h0M166.7 362.2h0M168.2 363.1h0M171.2 362.6h0M174.4 362.6h0M175.9 363.2h0M166.0 364.7h0M169.0 363.9h0M171.3 365.3h0M173.6 365.2h0M174.7 363.9h0M178.0 364.8h0M164.9 365.8h0M166.9 366.4h0M169.1 367.3h0M171.4 367.0h0M174.0 365.5h0M177.0 366.6h0M177.4 367.0h0M166.1 367.5h0M167.6 367.5h0M170.2 369.1h0M173.2 369.1h0M175.3 368.2h0M177.5 367.6h0M179.9 368.3h0M181.4 368.0h0M165.9 370.2h0M170.0 369.8h0M170.6 370.6h0M173.4 371.1h0M176.9 370.2h0M178.0 371.0h0M181.2 371.2h0M182.9 369.8h0M168.6 372.3h0M170.4 372.2h0M172.1 373.3h0M174.8 371.8h0M176.2 372.5h0M180.4 371.7h0M182.6 372.6h0M183.5 373.0h0M169.5 374.9h0M170.9 374.5h0M173.3 373.8h0M176.8 374.7h0M179.1 375.2h0M180.2 375.0h0M184.0 374.7h0M186.2 375.3h0M186.9 374.5h0M170.8 376.8h0M173.5 375.8h0M174.2 377.1h0M177.0 377.1h0M179.8 375.7h0M182.8 376.4h0M184.2 376.7h0M185.4 377.3h0M188.6 377.1h0M173.4 378.2h0M176.9 378.7h0M178.1 379.3h0M180.5 377.6h0M183.0 377.6h0M185.5 378.9h0M187.9 378.7h0M190.0 378.6h0M174.3 381.1h0M177.6 379.5h0M179.9 381.3h0M182.7 379.6h0M183.4 380.2h0M185.6 381.2h0M187.8 380.4h0M191.1 379.9h0M193.7 381.3h0M176.9 383.1h0M179.1 383.0h0M181.7 382.1h0M182.3 383.4h0M184.4 382.0h0M188.1 381.9h0M190.0 382.4h0M191.2 382.0h0M194.2 383.0h0M178.1 384.1h0M180.3 384.8h0M181.4 384.3h0M184.6 383.9h0M186.9 383.7h0M188.2 385.1h0M191.7 384.9h0M193.9 383.6h0M194.8 385.1h0M198.4 384.7h0M177.4 385.3h0M181.0 387.1h0M183.1 386.6h0M185.7 387.2h0M187.0 385.4h0M190.1 386.2h0M193.0 385.4h0M195.2 387.1h0M196.4 386.0h0M199.9 386.9h0M202.1 386.8h0M203.1 386.5h0M184.4 387.8h0M187.0 387.7h0M189.0 387.9h0M191.5 387.8h0M192.4 388.3h0M195.5 387.4h0M198.4 388.1h0M200.7 387.8h0M202.0 387.3h0M204.4 387.7h0M206.6 387.3h0M186.1 389.9h0M187.8 390.0h0M190.9 390.9h0M191.8 390.1h0M193.9 390.8h0M195.9 390.8h0M200.0 389.3h0M202.2 390.1h0M194.8 391.7h0" stroke="#00ffff" stroke-width="3.5" stroke-linecap="round" fill="none"/>
<path d="M182.5 463.0h0M183.6 462.7h0M185.7 462.5h0M187.9 462.5h0M190.3 461.8h0M194.2 463.2h0M196.6 462.3h0M198.3 462.4h0M178.0 464.1h0M181.0 464.5h0M184.0 463.4h0M184.9 464.4h0M188.3 463.3h0M190.5 464.4h0M191.9 463.8h0M195.1 464.4h0M197.9 465.1h0M199.3 464.2h0M200.6 463.6h0M172.5 466.8h0M176.0 467.2h0M178.1 467.0h0M179.5 466.8h0M181.1 467.1h0M185.3 467.3h0M185.7 466.5h0M191.1 467.0h0M194.3 465.3h0M195.6 465.3h0M197.1 465.8h0M172.4 468.3h0M173.8 468.5h0M176.6 468.1h0M179.6 467.6h0M181.1 467.7h0M183.1 467.3h0M186.0 467.4h0M187.8 468.6h0M190.6 468.2h0M192.1 468.6h0M193.8 467.3h0M196.6 468.7h0M171.2 470.4h0M172.9 470.5h0M177.5 469.8h0M179.3 470.9h0M182.5 470.9h0M184.5 470.7h0M186.5 471.2h0M188.1 469.4h0M190.7 469.7h0M194.2 469.6h0M170.3 471.5h0M171.9 473.1h0M174.2 471.9h0M176.5 472.6h0M179.6 473.0h0M181.2 472.8h0M182.1 471.9h0M186.4 471.6h0M187.8 472.2h0M189.2 471.6h0M191.8 472.6h0M168.4 474.4h0M170.4 473.6h0M172.6 474.6h0M174.7 475.1h0M177.4 474.5h0M179.2 474.4h0M181.0 473.7h0M183.6 474.7h0M185.9 475.0h0M188.0 473.5h0M191.2 474.2h0M169.4 476.6h0M170.8 475.8h0M174.0 475.7h0M175.9 475.7h0M179.4 475.4h0M180.0 475.5h0M183.7 477.2h0M184.8 476.1h0M188.7 476.4h0M190.1 475.5h0M169.0 477.9h0M169.9 479.2h0M172.5 478.6h0M175.1 478.2h0M176.8 477.2h0M180.5 478.6h0M181.1 478.2h0M184.3 477.3h0M186.7 477.9h0M188.1 477.3h0M169.1 480.0h0M171.6 479.7h0M173.3 479.3h0M175.9 481.0h0M177.9 479.7h0M181.7 480.1h0M182.3 479.9h0M184.7 480.3h0M167.5 481.5h0M171.2 483.1h0M172.7 482.7h0M175.1 482.5h0M177.0 481.7h0M179.6 482.3h0M181.1 481.2h0M183.5 481.8h0M166.8 483.5h0M168.9 484.3h0M171.1 484.5h0M173.8 484.7h0M176.3 485.2h0M178.7 483.9h0M181.5 483.4h0M169.1 486.5h0M170.8 485.6h0M172.8 486.1h0M175.6 487.0h0M178.0 486.2h0M180.7 485.6h0M167.7 487.5h0M170.3 487.3h0M172.3 488.5h0M174.4 487.4h0M177.0 488.2h0M179.1 488.4h0M180.1 487.6h0M171.3 489.5h0" stroke="#00ffff" stroke-width="3.5" stroke-linecap="round" fill="none"/>
<path d="M161.9 356.9h0M161.2 358.1h0M162.4 358.1h0M159.9 359.8h0M161.5 358.8h0M157.9 361.1h0M163.9 360.6h0M159.9 361.7h0M162.2 361.8h0M158.3 362.9h0M159.4 363.2h0M160.8 363.0h0M162.0 363.1h0M158.9 364.4h0M160.6 365.3h0M159.4 365.9h0M160.9 366.8h0M162.6 366.4h0M160.5 368.1h0M161.8 367.5h0M158.0 368.7h0M162.4 369.2h0M158.1 369.9h0M159.7 370.8h0M163.4 370.4h0M166.9 370.1h0M158.1 371.6h0M159.6 371.4h0M161.3 371.8h0M167.6 372.3h0M160.0 372.9h0M162.1 374.5h0M163.9 375.0h0M165.4 374.6h0M163.7 375.7h0M168.0 375.7h0M162.2 377.2h0M167.1 377.1h0M162.0 378.6h0M164.5 379.1h0M164.2 379.8h0M158.8 382.0h0M163.7 381.5h0M166.4 381.4h0M168.7 381.9h0M163.1 383.3h0M166.0 383.0h0M162.1 384.2h0M168.5 383.9h0M159.2 386.1h0M161.5 385.3h0M163.6 385.5h0M165.6 385.3h0M159.8 387.5h0M161.5 386.8h0M163.1 387.3h0M165.4 386.6h0M168.0 387.2h0M169.3 387.1h0M171.0 387.1h0M162.4 388.8h0M166.1 388.5h0M167.5 388.8h0M168.9 388.9h0M173.5 388.6h0M161.3 390.2h0M163.8 389.2h0M166.4 389.4h0M169.5 390.3h0M171.5 390.1h0M172.6 389.4h0M159.2 391.2h0M163.0 391.7h0M164.0 390.7h0M167.7 391.6h0M168.4 391.6h0M171.8 390.8h0M165.2 392.8h0M168.6 393.1h0M169.4 392.9h0M172.5 392.6h0M160.8 394.4h0M162.3 393.6h0M164.1 394.1h0M159.0 395.3h0M159.9 395.0h0M163.0 395.5h0M162.1 396.7h0M164.0 396.2h0M159.1 397.8h0M161.7 397.7h0M162.1 399.5h0M160.1 400.4h0M161.8 400.7h0M159.7 402.8h0" stroke="#000" stroke-width="3.5" stroke-linecap="round" fill="none"/>
<path d="M167.8 458.9h0M171.2 459.5h0M168.9 460.9h0M170.0 460.6h0M163.4 462.1h0M165.1 461.4h0M166.8 461.7h0M169.9 461.4h0M172.4 461.9h0M162.8 463.0h0M164.1 463.0h0M167.8 463.0h0M174.0 463.5h0M175.7 463.1h0M162.1 464.1h0M165.2 464.9h0M171.7 464.6h0M163.0 468.7h0M166.9 468.7h0M160.6 469.9h0M161.2 470.1h0M163.3 470.0h0M166.6 469.7h0M168.2 470.6h0M158.7 471.9h0M162.0 472.1h0M165.5 472.0h0M166.9 471.4h0M161.5 473.4h0M163.6 473.3h0M162.3 474.5h0M164.2 474.7h0M167.2 474.5h0M161.7 475.8h0M165.2 475.6h0M167.8 475.4h0M163.7 477.3h0M165.8 476.6h0M159.5 479.0h0M161.7 478.3h0M163.5 478.5h0M159.2 479.4h0M165.9 479.6h0M161.1 480.8h0M162.4 482.9h0M161.6 484.1h0M163.2 483.8h0M159.4 487.9h0M162.0 488.5h0M162.1 489.1h0M163.3 489.6h0" stroke="#000" stroke-width="3.5" stroke-linecap="round" fill="none"/>
<path d="M162.5 455.9h0" stroke="#000" stroke-width="3.4" stroke-linecap="round" fill="none"/>
<line x1="153.8" x2="231.7" y1="367.9" y2="367.9" stroke="#ff0000" stroke-opacity="0.85" stroke-width="1.8"/>
<line x1="153.8" x2="231.7" y1="371.2" y2="371.2" stroke="#ff0000" stroke-opacity="0.5" stroke-width="1.8"/>
<line x1="153.8" x2="231.7" y1="473.9" y2="473.9" stroke="#ff0000" stroke-opacity="0.5" stroke-width="1.8"/>
<line x1="153.8" x2="231.7" y1="486.8" y2="486.8" stroke="#ff0000" stroke-opacity="0.5" stroke-width="1.8"/>
<line x1="157.2" x2="157.2" y1="494.1" y2="353.9" stroke="#ff0000" stroke-opacity="0.5" stroke-width="1.8" stroke-dasharray="6.3 2.9"/>
<line x1="161.9" x2="161.9" y1="494.1" y2="353.9" stroke="#ff0000" stroke-opacity="0.8" stroke-width="1.8" stroke-dasharray="6.3 2.9"/>
<line x1="164.4" x2="164.4" y1="494.1" y2="353.9" stroke="#ff0000" stroke-opacity="0.5" stroke-width="1.8" stroke-dasharray="6.3 2.9"/>
</g>
<rect x="153.8" y="353.9" width="77.9" height="139.7" fill="none" stroke="#262626" stroke-width="1"/>
<line x1="149.8" x2="153.8" y1="489.9" y2="489.9" stroke="#262626" stroke-width="1"/>
<line x1="149.8" x2="153.8" y1="456.8" y2="456.8" stroke="#262626" stroke-width="1"/>
<line x1="149.8" x2="153.8" y1="423.7" y2="423.7" stroke="#262626" stroke-width="1"/>
<line x1="149.8" x2="153.8" y1="390.6" y2="390.6" stroke="#262626" stroke-width="1"/>
<line x1="149.8" x2="153.8" y1="357.5" y2="357.5" stroke="#262626" stroke-width="1"/>
<line x1="153.8" x2="153.8" y1="493.6" y2="497.6" stroke="#262626" stroke-width="1"/>
<text x="153.8" y="509.8" font-size="11.4" text-anchor="middle" textLength="6.9" lengthAdjust="spacingAndGlyphs">0</text>
<line x1="219.8" x2="219.8" y1="493.6" y2="497.6" stroke="#262626" stroke-width="1"/>
<text x="219.8" y="509.8" font-size="11.4" text-anchor="middle" textLength="13.8" lengthAdjust="spacingAndGlyphs">20</text>
<text y="527.4" font-size="11.2" style="stroke-width:0.15px"><tspan x="152.6" textLength="63.6" lengthAdjust="spacingAndGlyphs">Speed [m s</tspan><tspan x="217.4" y="523.0" font-size="8.2" textLength="10" lengthAdjust="spacingAndGlyphs">−1</tspan><tspan x="229.8" y="527.4">]</tspan></text>
<g clip-path="url(#c22)">
<path d="M266.7 364.9h0M268.8 364.6h0M264.6 365.9h0M266.8 366.3h0M272.9 367.1h0M274.1 366.5h0M276.3 365.8h0M280.2 366.8h0M264.0 368.8h0M268.2 369.4h0M272.8 368.2h0M274.8 367.6h0M278.4 368.1h0M280.2 367.8h0M281.8 368.7h0M284.7 368.1h0M266.4 369.8h0M269.6 369.9h0M271.0 370.9h0M273.9 370.4h0M276.2 371.3h0M278.6 370.0h0M284.6 369.5h0M266.4 372.6h0M269.9 372.1h0M274.0 371.8h0M274.9 372.4h0M278.0 372.2h0M280.3 372.9h0M282.0 373.1h0M283.8 372.7h0M286.8 372.4h0M289.2 373.1h0M268.0 374.0h0M277.4 373.8h0M279.4 374.0h0M280.5 373.6h0M284.5 374.0h0M285.6 374.3h0M288.2 374.1h0M290.3 374.6h0M292.6 374.8h0M294.2 374.8h0M278.2 375.7h0M279.7 376.1h0M281.9 376.2h0M285.0 377.1h0M286.3 375.6h0M290.0 377.3h0M291.8 376.9h0M293.0 375.6h0M284.5 378.3h0M286.5 378.7h0M287.2 378.6h0M290.7 377.5h0M292.4 377.7h0M295.9 378.4h0M296.9 377.6h0M285.4 379.9h0M287.1 379.8h0M288.8 380.8h0M292.0 379.8h0M293.1 381.2h0M296.7 380.8h0M299.0 381.1h0M301.4 380.4h0M287.5 381.9h0M295.8 381.6h0M296.3 383.3h0M299.4 383.4h0M301.1 382.3h0M303.5 382.8h0M291.1 383.5h0M301.7 384.5h0M303.4 383.6h0M305.7 384.5h0M306.8 385.3h0M312.1 385.1h0M314.4 385.1h0M305.2 385.5h0M306.8 387.1h0M309.1 387.0h0M310.9 385.5h0M314.2 386.9h0M312.8 387.5h0" stroke="#00ffff" stroke-width="3.5" stroke-linecap="round" fill="none"/>
<path d="M253.9 357.8h0M256.4 359.4h0M257.3 359.1h0M259.7 358.2h0M262.2 357.8h0M265.5 357.4h0M254.0 359.6h0M256.1 361.1h0M259.1 359.5h0M264.3 360.0h0M265.9 359.5h0M253.2 362.9h0M256.3 362.3h0M257.0 361.9h0M259.7 362.5h0M262.0 361.6h0M266.3 361.7h0M251.7 364.7h0M254.0 365.2h0M258.7 363.9h0M261.5 363.5h0M264.7 363.7h0M251.5 365.9h0M254.1 367.4h0M256.6 365.4h0M258.7 367.2h0M263.4 366.7h0M255.2 368.4h0M257.4 369.1h0M260.1 369.1h0M260.9 369.2h0M263.1 367.4h0M251.6 370.8h0M252.8 370.8h0M255.4 370.0h0M257.6 370.6h0M260.2 370.5h0M262.4 371.1h0M252.5 372.8h0M255.5 372.8h0M257.3 372.4h0M262.4 373.0h0M252.5 374.1h0M255.9 374.6h0M258.0 374.6h0M260.6 374.8h0M252.8 375.7h0M253.9 376.2h0M255.9 376.6h0M258.8 376.7h0M260.5 377.3h0M251.7 378.4h0M255.9 379.4h0M260.6 378.9h0M252.1 381.0h0M257.0 381.0h0M258.4 379.9h0M261.6 379.9h0M280.5 379.9h0M253.7 382.7h0M256.5 382.6h0M258.0 382.7h0M259.8 382.4h0M263.4 383.2h0M265.2 382.9h0M266.6 383.0h0M270.0 383.3h0M274.0 382.9h0M276.7 381.4h0M278.8 382.7h0M280.5 382.4h0M254.6 384.2h0M255.9 384.2h0M259.6 383.5h0M261.9 384.0h0M264.5 384.5h0M268.0 385.1h0M274.6 385.2h0M278.3 383.6h0M279.2 384.5h0M281.5 384.6h0M254.2 387.2h0M260.1 385.3h0M261.7 387.2h0M270.3 387.3h0M272.0 386.0h0M278.6 386.7h0M281.9 385.4h0M253.2 388.9h0M254.8 388.9h0M260.7 388.6h0M263.2 387.9h0M265.6 388.2h0M269.1 387.9h0M271.3 388.1h0M272.9 388.2h0M277.2 388.3h0M251.3 390.1h0M254.4 390.5h0M255.3 390.2h0M257.9 390.2h0M259.4 391.1h0M265.8 390.2h0M267.4 390.8h0M270.1 390.5h0M271.2 390.7h0M273.4 390.0h0M276.3 390.4h0M253.0 392.3h0M255.1 392.8h0M257.7 393.0h0M259.8 392.4h0M260.5 393.1h0M264.5 392.7h0M265.5 392.0h0M251.3 393.8h0M255.2 395.2h0M258.2 393.3h0M259.9 393.6h0M263.1 395.0h0M264.9 394.8h0M253.0 395.5h0M255.4 396.6h0M256.2 396.3h0M259.0 396.1h0M263.4 396.0h0M254.1 397.9h0M255.4 397.9h0M257.4 399.1h0M260.5 397.5h0M263.5 398.7h0M252.4 399.9h0M255.0 399.3h0M257.6 400.9h0M258.6 400.8h0M261.1 400.0h0M263.8 400.9h0M251.1 403.2h0M252.6 402.0h0M257.9 401.6h0M259.7 402.9h0M262.4 403.1h0M252.6 404.5h0M253.9 403.4h0M257.1 404.7h0M258.9 405.0h0M260.7 405.3h0M263.7 404.9h0M251.9 407.2h0M252.8 405.4h0M256.3 406.0h0M260.9 406.5h0M262.2 406.2h0M251.8 407.4h0M254.6 407.9h0M257.3 408.2h0M259.2 407.8h0M260.7 407.7h0M252.8 409.6h0M255.7 410.1h0M257.4 410.8h0M260.7 410.4h0M252.8 411.8h0M254.3 411.2h0M257.6 411.4h0M258.6 412.7h0M252.0 414.6h0M256.7 413.8h0M257.7 414.8h0M259.8 414.3h0M254.3 416.9h0M256.1 415.4h0M258.3 416.9h0M253.6 417.3h0M256.3 417.2h0M257.1 419.9h0" stroke="#00ffff" stroke-width="3.5" stroke-linecap="round" fill="none"/>
<path d="M278.1 465.5h0M282.3 464.9h0M284.9 464.9h0M285.6 466.0h0M288.0 464.6h0M290.0 464.8h0M294.9 465.8h0M278.3 468.0h0M280.1 466.5h0M282.2 466.8h0M285.3 466.5h0M287.0 466.3h0M290.3 467.1h0M292.3 466.3h0M272.7 469.4h0M275.9 469.3h0M277.9 469.6h0M279.8 468.9h0M282.0 468.9h0M284.8 469.0h0M287.0 468.1h0M291.7 469.3h0M292.6 468.8h0M261.6 470.4h0M268.4 470.8h0M272.4 470.2h0M274.2 470.3h0M275.4 470.3h0M278.8 471.8h0M281.4 470.8h0M282.8 470.9h0M285.6 470.8h0M287.7 470.3h0M262.1 473.1h0M264.0 473.0h0M266.0 472.7h0M267.6 473.8h0M270.9 472.8h0M273.5 473.6h0M275.8 473.7h0M278.2 473.5h0M280.4 473.9h0M282.7 473.4h0M285.0 472.3h0M287.2 473.4h0M288.5 473.1h0M260.4 475.8h0M261.3 475.4h0M264.3 475.1h0M267.7 474.3h0M269.7 475.5h0M271.2 474.8h0M274.3 474.0h0M276.6 475.9h0M278.3 474.5h0M280.5 475.6h0M284.0 474.9h0M284.8 475.2h0M259.2 477.4h0M260.1 476.7h0M262.8 477.9h0M266.2 478.0h0M268.7 475.9h0M271.1 476.9h0M273.0 476.9h0M274.8 477.4h0M276.7 476.4h0M279.9 476.2h0M281.3 476.9h0M285.1 476.0h0M258.5 479.4h0M260.1 478.5h0M261.7 478.6h0M265.5 479.4h0M267.0 479.7h0M270.1 478.2h0M271.7 479.2h0M274.5 478.2h0M275.1 479.4h0M278.4 479.7h0M280.1 478.0h0M282.2 478.3h0M258.6 481.7h0M261.4 480.4h0M263.2 480.7h0M265.3 479.9h0M268.8 480.8h0M270.2 481.4h0M272.5 480.3h0M274.3 480.5h0M260.0 483.2h0M262.4 482.3h0M265.2 482.7h0M267.7 482.7h0M269.2 481.9h0M271.8 482.0h0M259.0 484.9h0M260.7 484.2h0M263.3 485.0h0M265.4 485.4h0M267.1 485.6h0M271.3 483.9h0M273.0 484.9h0M260.1 487.9h0M261.6 486.2h0M265.2 486.4h0M266.5 486.2h0M270.0 487.7h0M270.9 486.1h0M258.8 489.0h0M261.6 489.7h0M264.3 488.6h0M265.6 489.4h0M267.3 488.4h0M260.4 490.3h0M266.2 489.9h0" stroke="#00ffff" stroke-width="3.5" stroke-linecap="round" fill="none"/>
<path d="M253.1 426.0h0" stroke="#00ffff" stroke-width="3.4" stroke-linecap="round" fill="none"/>
<path d="M252.5 358.0h0M252.0 359.1h0M255.5 358.9h0M258.6 363.6h0M253.2 365.3h0M253.1 365.7h0M253.8 365.8h0M256.1 366.7h0M252.9 369.2h0M254.1 368.5h0M255.1 370.5h0M259.8 370.7h0M260.5 371.7h0M253.9 373.6h0M262.8 373.6h0M257.4 374.2h0M262.8 374.1h0M254.8 375.7h0M257.0 376.4h0M255.4 377.4h0M257.7 377.6h0M258.9 377.4h0M264.2 377.4h0M256.6 379.2h0M262.8 378.5h0M266.6 379.1h0M267.0 380.2h0M252.4 381.5h0M258.5 381.2h0M259.5 381.2h0M253.1 383.0h0M254.2 383.2h0M255.6 382.8h0M264.3 383.4h0M267.5 382.7h0M268.9 382.9h0M266.5 384.1h0M255.7 386.0h0M257.0 385.3h0M264.3 385.3h0M266.7 386.1h0M252.1 386.6h0M253.3 387.0h0M255.4 387.2h0M258.5 386.8h0M260.0 389.8h0M255.4 391.1h0M257.0 391.1h0M260.2 391.4h0M252.3 392.5h0M255.4 393.1h0M256.4 392.2h0M256.2 394.2h0M257.1 393.7h0M258.3 395.1h0M256.0 400.0h0M254.6 400.5h0M259.6 402.8h0M253.6 403.7h0M258.8 404.1h0M254.4 404.9h0M257.9 404.7h0M256.3 408.4h0M257.8 409.2h0M259.4 409.2h0M255.9 410.4h0M257.4 410.5h0M260.2 410.7h0M257.2 411.7h0M256.8 414.2h0M258.6 415.1h0" stroke="#000" stroke-width="3.5" stroke-linecap="round" fill="none"/>
<path d="M263.4 461.0h0M261.8 461.9h0M260.2 462.9h0M260.9 463.6h0M263.2 463.6h0M264.6 463.7h0M267.8 463.1h0M269.6 463.9h0M252.4 465.0h0M257.3 465.2h0M261.9 464.6h0M263.7 464.6h0M268.3 465.2h0M256.5 466.8h0M258.0 466.0h0M259.5 466.6h0M253.0 467.4h0M254.2 468.0h0M255.4 467.9h0M260.6 467.4h0M263.4 467.1h0M265.7 467.2h0M266.6 467.9h0M252.3 468.7h0M255.3 469.4h0M260.3 469.3h0M261.1 469.4h0M263.1 469.0h0M265.1 469.3h0M266.7 468.9h0M267.3 468.8h0M254.5 470.1h0M260.8 469.9h0M265.0 470.4h0M256.5 472.0h0M261.7 471.8h0M263.1 471.6h0M252.6 472.8h0M260.9 473.1h0M263.5 473.6h0M265.0 473.5h0M253.2 474.7h0M256.8 475.0h0M257.8 474.7h0M261.3 474.0h0M252.7 476.1h0M256.0 475.6h0M257.3 476.0h0M262.0 475.4h0M252.0 477.8h0M252.4 478.7h0M253.2 480.1h0M254.8 480.0h0M253.1 481.9h0M251.8 483.3h0M251.9 485.3h0M253.6 485.1h0M255.5 485.5h0M253.9 487.0h0M253.1 488.4h0" stroke="#000" stroke-width="3.5" stroke-linecap="round" fill="none"/>
<line x1="247.2" x2="325.1" y1="366" y2="366" stroke="#ff0000" stroke-opacity="0.5" stroke-width="1.8"/>
<line x1="247.2" x2="325.1" y1="482" y2="482" stroke="#ff0000" stroke-opacity="0.5" stroke-width="1.8"/>
<line x1="255.6" x2="255.6" y1="494.1" y2="353.9" stroke="#ff0000" stroke-opacity="0.6" stroke-width="1.8" stroke-dasharray="6.3 2.9"/>
</g>
<rect x="247.2" y="353.9" width="77.9" height="139.7" fill="none" stroke="#262626" stroke-width="1"/>
<line x1="243.2" x2="247.2" y1="489.9" y2="489.9" stroke="#262626" stroke-width="1"/>
<line x1="243.2" x2="247.2" y1="456.8" y2="456.8" stroke="#262626" stroke-width="1"/>
<line x1="243.2" x2="247.2" y1="423.7" y2="423.7" stroke="#262626" stroke-width="1"/>
<line x1="243.2" x2="247.2" y1="390.6" y2="390.6" stroke="#262626" stroke-width="1"/>
<line x1="243.2" x2="247.2" y1="357.5" y2="357.5" stroke="#262626" stroke-width="1"/>
<line x1="247.2" x2="247.2" y1="493.6" y2="497.6" stroke="#262626" stroke-width="1"/>
<text x="247.2" y="509.8" font-size="11.4" text-anchor="middle" textLength="6.9" lengthAdjust="spacingAndGlyphs">0</text>
<line x1="313.2" x2="313.2" y1="493.6" y2="497.6" stroke="#262626" stroke-width="1"/>
<text x="313.2" y="509.8" font-size="11.4" text-anchor="middle" textLength="13.8" lengthAdjust="spacingAndGlyphs">20</text>
<text y="527.4" font-size="11.2" style="stroke-width:0.15px"><tspan x="246" textLength="63.6" lengthAdjust="spacingAndGlyphs">Speed [m s</tspan><tspan x="310.8" y="523.0" font-size="8.2" textLength="10" lengthAdjust="spacingAndGlyphs">−1</tspan><tspan x="323.2" y="527.4">]</tspan></text>
<g clip-path="url(#c23)">
<path d="M346.1 357.4 L354.3 356.7 L365.1 357.4 L366.5 360.1 L365.1 362.8 L370.5 365.6 L377.3 368.3 L382.7 371.0 L388.1 373.7 L392.2 375.7 L396.3 377.8 L397.6 380.5 L394.9 381.8 L401.7 383.2 L408.5 384.5 L415.3 385.2 L416.6 387.2 L412.5 388.6 L405.8 388.6 L399.0 387.9 L392.2 387.2 L385.4 387.2 L378.7 388.6 L374.6 391.3 L370.5 394.0 L365.1 394.7 L362.4 391.3 L361.0 385.9 L359.7 380.5 L357.0 375.0 L352.9 369.6 L348.8 366.9 L344.8 365.6 Z" fill="#00ffff"/><path d="M346.8 358.3h0M348.8 359.5h0M351.9 358.2h0M353.6 357.8h0M355.5 359.0h0M357.6 357.8h0M361.1 359.2h0M363.2 358.0h0M365.4 358.9h0M347.8 360.3h0M350.5 360.8h0M353.3 359.5h0M355.0 359.8h0M356.6 359.8h0M360.4 359.6h0M361.2 360.4h0M363.8 359.5h0M347.1 362.5h0M350.1 362.6h0M352.3 362.1h0M353.0 361.9h0M356.8 362.1h0M357.8 361.6h0M361.0 363.1h0M363.0 363.3h0M364.7 361.8h0M347.5 364.5h0M350.5 363.6h0M353.1 365.1h0M355.6 365.0h0M357.5 364.3h0M359.8 364.0h0M365.0 363.9h0M366.7 364.7h0M349.7 366.4h0M351.3 367.1h0M353.5 366.4h0M356.0 365.5h0M359.0 366.8h0M360.5 367.1h0M362.8 365.6h0M366.2 365.9h0M368.5 365.4h0M369.8 366.5h0M352.3 367.8h0M356.0 368.5h0M357.1 368.2h0M359.6 367.4h0M361.7 367.6h0M365.2 369.4h0M366.2 368.1h0M369.1 367.7h0M371.3 369.3h0M374.5 367.9h0M375.2 369.2h0M356.0 369.8h0M357.9 369.7h0M361.3 371.3h0M363.1 370.3h0M368.4 371.0h0M369.3 369.7h0M372.4 370.8h0M373.9 370.5h0M376.1 371.0h0M379.9 370.4h0M355.4 372.6h0M357.1 371.7h0M360.1 371.9h0M361.5 373.2h0M363.6 372.0h0M366.9 372.1h0M369.7 372.7h0M371.9 373.4h0M373.0 372.8h0M375.7 373.0h0M377.9 372.1h0M381.2 372.5h0M383.2 373.2h0M356.9 373.9h0M357.6 373.9h0M360.4 374.3h0M362.9 375.2h0M365.9 373.4h0M367.8 373.6h0M369.7 373.6h0M373.0 375.3h0M374.4 374.2h0M376.8 373.4h0M379.8 373.6h0M382.2 373.6h0M383.3 374.0h0M387.6 374.5h0M359.2 375.7h0M361.0 377.3h0M365.3 376.3h0M366.8 377.3h0M368.4 376.7h0M372.1 377.2h0M374.2 375.7h0M376.8 377.3h0M377.2 377.4h0M379.8 376.5h0M381.7 376.3h0M384.2 376.0h0M386.7 377.2h0M389.1 376.6h0M392.2 377.0h0M362.2 377.7h0M365.6 378.2h0M368.8 377.9h0M369.1 378.9h0M373.2 379.0h0M374.3 377.5h0M377.5 379.0h0M379.2 378.6h0M381.6 379.1h0M383.2 377.5h0M385.5 378.5h0M388.9 379.2h0M393.8 378.5h0M359.4 379.5h0M362.2 380.9h0M364.9 379.6h0M367.5 381.4h0M368.4 380.6h0M370.7 381.1h0M372.6 380.6h0M375.5 380.8h0M378.7 380.8h0M380.9 380.8h0M383.0 380.8h0M384.1 379.8h0M388.3 380.3h0M391.4 380.5h0M394.1 380.2h0M360.6 383.1h0M362.4 382.9h0M364.5 382.1h0M367.9 382.1h0M372.4 383.1h0M375.1 382.4h0M375.9 381.9h0M379.8 382.8h0M381.0 382.6h0M383.1 383.0h0M385.3 382.1h0M389.1 381.4h0M389.9 382.9h0M392.8 382.5h0M399.1 383.2h0M360.8 383.6h0M361.4 383.9h0M363.9 383.5h0M365.9 384.8h0M368.9 383.4h0M372.2 384.1h0M373.5 383.6h0M375.7 383.4h0M378.7 384.7h0M380.4 385.1h0M382.1 383.5h0M386.5 384.2h0M389.0 383.7h0M391.2 384.5h0M394.8 384.5h0M395.7 384.8h0M398.8 384.5h0M401.6 383.8h0M403.2 385.3h0M405.7 384.8h0M407.8 385.1h0M364.1 386.8h0M365.4 385.5h0M367.0 387.1h0M370.0 385.4h0M373.2 385.8h0M375.2 386.3h0M377.4 385.9h0M379.6 386.9h0M380.6 385.6h0M384.0 386.4h0M385.3 387.0h0M388.3 386.3h0M390.3 386.7h0M394.5 385.8h0M400.1 385.4h0M402.4 386.9h0M405.1 387.3h0M407.4 386.5h0M408.6 387.1h0M414.1 386.4h0M364.4 389.3h0M366.8 387.5h0M368.1 389.2h0M371.7 388.0h0M374.0 387.6h0M376.0 387.5h0M377.7 388.5h0M406.4 388.2h0M408.2 387.4h0M411.3 388.3h0M413.3 388.1h0M414.6 387.8h0M363.7 391.0h0M364.8 390.3h0M368.6 389.3h0M370.8 391.1h0M373.3 389.4h0M373.8 391.0h0M364.1 392.0h0M367.2 392.8h0M368.6 391.5h0M371.6 393.2h0M372.5 392.5h0M364.9 394.0h0M367.3 394.1h0" stroke="#00ffff" stroke-width="3.5" stroke-linecap="round" fill="none"/>
<path d="M340.7 375.0 L344.8 374.4 L344.8 381.8 L340.7 381.8 Z" fill="#00ffff"/><path d="M341.2 375.4h0M343.8 375.9h0M340.9 377.7h0M343.1 378.0h0M341.4 379.2h0M342.4 380.7h0M344.7 380.1h0" stroke="#00ffff" stroke-width="3.5" stroke-linecap="round" fill="none"/>
<path d="M356.3 468.0 L361.0 467.1 L367.8 467.4 L371.9 470.1 L372.6 474.1 L371.2 478.2 L370.5 482.3 L367.8 486.3 L363.8 489.1 L359.7 490.4 L357.0 489.1 L354.9 483.6 L354.9 475.5 Z" fill="#00ffff"/><path d="M356.2 469.0h0M358.6 469.3h0M362.6 468.0h0M365.1 469.2h0M366.8 468.2h0M368.1 468.7h0M356.4 471.5h0M358.7 471.3h0M360.0 471.0h0M364.0 470.5h0M366.9 470.2h0M370.8 470.2h0M371.2 471.4h0M356.8 473.3h0M360.6 472.5h0M360.9 473.5h0M364.8 473.1h0M367.1 472.0h0M370.8 473.0h0M355.5 475.6h0M357.4 474.1h0M360.7 475.0h0M363.8 474.8h0M364.6 474.8h0M366.9 475.4h0M370.4 475.6h0M372.0 474.5h0M355.7 476.3h0M356.5 477.4h0M359.1 476.9h0M361.8 477.0h0M365.1 476.5h0M366.4 476.7h0M368.0 476.4h0M370.5 477.6h0M355.5 479.2h0M359.0 478.5h0M359.8 479.4h0M363.3 479.4h0M365.0 477.7h0M368.6 479.4h0M369.1 477.8h0M355.4 481.1h0M357.1 479.8h0M360.1 480.0h0M362.6 479.8h0M364.6 480.9h0M365.7 481.1h0M369.6 481.1h0M358.7 483.4h0M359.8 482.3h0M367.4 483.7h0M369.8 481.8h0M357.1 484.6h0M360.3 484.1h0M361.7 483.9h0M363.3 484.6h0M366.9 485.4h0M357.0 487.0h0M358.6 486.3h0M360.4 486.6h0M363.1 485.9h0M364.7 487.6h0M357.4 487.8h0M360.3 489.7h0M361.6 488.6h0" stroke="#00ffff" stroke-width="3.5" stroke-linecap="round" fill="none"/>
<path d="M341.4 440.9h0M342.1 446.4h0M342.7 451.8h0M343.4 458.6h0M344.1 468.0h0M344.8 485.0h0" stroke="#00ffff" stroke-width="3.4" stroke-linecap="round" fill="none"/>
<path d="M350.3 358.9h0M347.5 361.2h0M347.1 362.3h0M348.9 361.7h0M346.3 363.2h0M348.8 364.8h0M350.6 367.8h0" stroke="#000" stroke-width="3.5" stroke-linecap="round" fill="none"/>
<path d="M350.2 368.3 L355.6 367.6 L359.7 371.0 L361.0 376.4 L360.8 381.8 L362.4 387.2 L362.1 392.7 L359.7 398.1 L357.7 401.5 L354.9 400.8 L352.9 398.1 L350.9 392.7 L350.2 387.2 L349.9 379.1 L349.9 373.7 Z" fill="#000"/><path d="M350.4 368.5h0M351.6 369.0h0M352.8 368.9h0M355.2 368.8h0M356.8 369.1h0M350.9 370.5h0M351.9 370.6h0M354.0 370.0h0M355.2 369.6h0M356.9 370.1h0M350.2 371.9h0M351.5 371.6h0M353.6 371.3h0M354.4 371.9h0M355.8 371.9h0M357.7 371.7h0M351.0 372.6h0M352.1 373.0h0M353.8 372.5h0M355.3 372.7h0M357.1 373.0h0M358.5 373.2h0M350.0 374.5h0M351.5 374.1h0M352.8 374.6h0M354.8 373.9h0M356.4 373.9h0M357.7 374.6h0M359.8 373.8h0M350.2 375.8h0M352.5 375.5h0M354.2 375.5h0M355.9 376.1h0M356.9 375.7h0M359.0 376.1h0M360.1 375.3h0M351.6 377.5h0M352.8 377.6h0M354.5 377.2h0M356.6 377.6h0M358.4 376.6h0M359.9 377.0h0M360.7 376.8h0M350.6 378.6h0M352.8 378.1h0M353.6 378.1h0M355.0 378.7h0M356.9 378.6h0M358.5 378.4h0M360.6 378.9h0M351.9 380.0h0M353.3 379.9h0M354.5 380.1h0M356.8 379.9h0M358.1 379.4h0M359.4 379.4h0M350.7 381.5h0M352.7 381.5h0M354.0 381.6h0M355.4 381.4h0M357.7 381.6h0M358.3 381.6h0M360.5 381.4h0M350.1 383.1h0M352.0 383.1h0M353.1 382.4h0M354.4 383.1h0M356.7 383.1h0M357.4 382.5h0M359.7 382.1h0M351.3 383.8h0M351.9 383.7h0M353.8 384.0h0M355.0 384.3h0M356.6 383.9h0M359.3 383.5h0M360.8 384.1h0M351.3 385.8h0M352.6 385.6h0M354.3 385.9h0M356.5 385.1h0M357.5 385.2h0M359.7 384.8h0M361.6 385.0h0M350.3 386.5h0M352.6 386.7h0M354.1 386.4h0M355.0 386.7h0M356.8 387.0h0M359.0 386.7h0M360.3 387.0h0M361.4 386.9h0M351.3 387.8h0M353.0 387.7h0M354.2 388.0h0M356.2 387.9h0M358.3 388.4h0M359.3 388.6h0M360.7 388.2h0M362.3 387.8h0M350.9 389.7h0M352.4 390.1h0M353.8 389.7h0M355.5 389.5h0M356.8 389.8h0M359.2 389.7h0M360.1 390.0h0M361.7 389.8h0M351.6 390.4h0M352.6 391.1h0M354.7 391.4h0M355.9 390.6h0M358.4 391.5h0M359.3 391.3h0M360.7 391.4h0M352.6 392.0h0M353.8 392.2h0M355.5 392.4h0M357.0 392.1h0M358.8 392.8h0M360.0 391.8h0M361.7 391.8h0M351.7 393.9h0M352.8 394.0h0M355.0 393.4h0M356.6 393.9h0M357.7 393.9h0M360.1 394.2h0M361.4 394.0h0M353.4 394.5h0M355.3 394.6h0M357.6 395.2h0M359.0 395.2h0M360.7 395.2h0M352.7 396.8h0M354.5 396.9h0M356.2 396.5h0M357.7 396.9h0M360.0 396.4h0M354.3 397.7h0M355.9 397.4h0M356.7 397.5h0M358.9 397.6h0M355.1 399.5h0M356.1 399.1h0M358.2 398.9h0M355.2 400.1h0M357.2 401.1h0" stroke="#000" stroke-width="3.5" stroke-linecap="round" fill="none"/>
<path d="M348.4 380.5h0M347.5 386.4h0M346.0 388.7h0M346.8 388.9h0M348.3 388.5h0M349.8 388.6h0M346.5 390.0h0M345.6 391.0h0M346.4 393.2h0M347.5 392.4h0M346.7 396.4h0M348.0 398.4h0M348.6 399.2h0M348.2 401.0h0M348.2 402.8h0M349.8 411.8h0M350.1 413.5h0" stroke="#000" stroke-width="3.5" stroke-linecap="round" fill="none"/>
<path d="M350.9 464.0 L354.3 463.3 L356.3 466.0 L355.6 472.8 L355.6 480.9 L354.3 487.7 L351.6 491.1 L348.8 490.4 L347.5 483.6 L348.8 475.5 L350.2 468.7 Z" fill="#000"/><path d="M352.6 464.8h0M353.6 464.0h0M351.9 465.9h0M352.7 465.7h0M354.4 465.5h0M352.5 467.2h0M354.1 466.9h0M354.9 466.8h0M351.3 468.8h0M352.9 468.5h0M355.2 468.8h0M355.9 468.9h0M351.0 470.5h0M352.8 470.5h0M353.8 469.8h0M355.6 470.2h0M352.0 470.9h0M352.6 471.4h0M354.2 471.5h0M349.5 472.8h0M351.2 473.1h0M352.3 472.7h0M353.4 473.1h0M350.3 474.1h0M351.8 474.0h0M352.8 473.8h0M354.4 474.6h0M349.2 475.9h0M351.1 475.1h0M352.1 475.0h0M353.6 476.1h0M350.2 477.2h0M351.2 477.2h0M352.6 476.8h0M354.7 477.3h0M348.7 478.2h0M350.9 478.8h0M352.5 478.4h0M353.8 478.2h0M355.2 478.3h0M349.6 479.5h0M351.6 479.9h0M352.9 479.4h0M354.1 480.0h0M348.6 480.9h0M350.8 481.1h0M352.7 481.6h0M354.3 481.6h0M355.5 480.6h0M348.8 482.9h0M349.9 482.8h0M351.2 482.4h0M352.9 482.0h0M355.2 482.8h0M347.8 484.0h0M349.2 483.6h0M351.2 484.0h0M352.6 484.0h0M353.6 484.1h0M348.8 485.4h0M350.3 485.8h0M351.6 485.6h0M352.6 485.2h0M348.6 486.1h0M350.3 486.7h0M352.3 487.0h0M354.2 486.2h0M348.6 487.9h0M350.4 488.5h0M351.1 487.9h0M352.6 488.1h0M349.6 489.1h0M350.8 489.5h0M351.9 489.9h0" stroke="#000" stroke-width="3.5" stroke-linecap="round" fill="none"/>
<line x1="340.5" x2="418.4" y1="359.7" y2="359.7" stroke="#ff0000" stroke-opacity="0.5" stroke-width="1.8"/>
<line x1="340.5" x2="418.4" y1="478" y2="478" stroke="#ff0000" stroke-opacity="0.55" stroke-width="2.6"/>
<line x1="343.7" x2="343.7" y1="494.1" y2="353.9" stroke="#ff0000" stroke-opacity="0.5" stroke-width="1.8" stroke-dasharray="6.3 2.9"/>
<line x1="346.4" x2="346.4" y1="494.1" y2="353.9" stroke="#ff0000" stroke-opacity="0.5" stroke-width="1.8" stroke-dasharray="6.3 2.9"/>
</g>
<rect x="340.5" y="353.9" width="77.9" height="139.7" fill="none" stroke="#262626" stroke-width="1"/>
<line x1="336.5" x2="340.5" y1="489.9" y2="489.9" stroke="#262626" stroke-width="1"/>
<line x1="336.5" x2="340.5" y1="456.8" y2="456.8" stroke="#262626" stroke-width="1"/>
<line x1="336.5" x2="340.5" y1="423.7" y2="423.7" stroke="#262626" stroke-width="1"/>
<line x1="336.5" x2="340.5" y1="390.6" y2="390.6" stroke="#262626" stroke-width="1"/>
<line x1="336.5" x2="340.5" y1="357.5" y2="357.5" stroke="#262626" stroke-width="1"/>
<line x1="340.5" x2="340.5" y1="493.6" y2="497.6" stroke="#262626" stroke-width="1"/>
<text x="340.5" y="509.8" font-size="11.4" text-anchor="middle" textLength="6.9" lengthAdjust="spacingAndGlyphs">0</text>
<line x1="406.5" x2="406.5" y1="493.6" y2="497.6" stroke="#262626" stroke-width="1"/>
<text x="406.5" y="509.8" font-size="11.4" text-anchor="middle" textLength="13.8" lengthAdjust="spacingAndGlyphs">20</text>
<text y="527.4" font-size="11.2" style="stroke-width:0.15px"><tspan x="339.3" textLength="63.6" lengthAdjust="spacingAndGlyphs">Speed [m s</tspan><tspan x="404.1" y="523.0" font-size="8.2" textLength="10" lengthAdjust="spacingAndGlyphs">−1</tspan><tspan x="416.5" y="527.4">]</tspan></text>
<g clip-path="url(#c24)">
<path d="M443.5 358.7h0M447.3 358.1h0M442.9 361.0h0M446.0 359.9h0M446.9 361.5h0M443.7 362.3h0M445.1 364.7h0M447.2 364.8h0M443.4 366.0h0M446.5 366.5h0M448.3 367.3h0M455.3 367.4h0M460.4 367.8h0M465.5 367.8h0M445.6 368.3h0M448.0 368.6h0M452.5 368.9h0M454.4 368.0h0M457.7 369.7h0M461.9 368.9h0M465.0 368.3h0M468.2 369.4h0M444.1 369.8h0M449.7 370.9h0M451.2 370.6h0M454.0 370.4h0M455.3 371.2h0M460.6 370.6h0M462.1 370.2h0M467.6 370.1h0M469.6 371.7h0M448.4 373.4h0M450.6 373.2h0M452.9 372.0h0M454.0 372.2h0M457.8 371.8h0M458.2 373.4h0M461.3 372.2h0M463.9 372.8h0M466.7 372.3h0M468.5 372.4h0M469.7 373.0h0M449.6 374.3h0M450.2 374.7h0M454.0 374.1h0M456.2 374.2h0M458.2 375.3h0M459.4 374.0h0M462.3 375.3h0M464.7 374.8h0M467.9 374.7h0M470.4 374.5h0M474.8 374.6h0M447.7 377.2h0M449.5 376.1h0M451.5 376.2h0M455.3 377.5h0M456.0 377.7h0M458.4 376.0h0M460.9 376.1h0M463.8 377.2h0M466.8 377.4h0M468.4 376.0h0M470.2 375.9h0M472.3 376.5h0M476.0 376.7h0M447.3 379.7h0M447.9 378.8h0M451.1 377.9h0M453.9 378.8h0M460.8 377.8h0M464.2 378.3h0M466.9 377.8h0M469.0 379.4h0M471.6 379.7h0M474.8 378.4h0M476.8 379.1h0M447.1 380.2h0M450.0 380.7h0M451.2 380.3h0M455.1 381.5h0M456.1 379.8h0M459.2 380.3h0M461.7 380.5h0M463.2 381.8h0M465.2 381.7h0M471.5 380.7h0M472.3 381.4h0M474.6 380.5h0M477.7 381.8h0M449.6 382.1h0M450.2 383.4h0M456.6 382.3h0M459.9 382.2h0M465.7 383.3h0M468.0 383.1h0M468.7 381.7h0M471.4 383.0h0M474.6 381.8h0M476.9 382.0h0M479.1 381.9h0M446.7 384.3h0M450.5 384.7h0M451.9 385.2h0M456.4 384.0h0M458.7 385.4h0M461.3 384.6h0M464.5 385.7h0M465.3 385.8h0M468.1 385.3h0M470.0 385.4h0M473.1 383.8h0M474.3 384.3h0M477.4 384.3h0M482.9 385.1h0M484.8 385.7h0M446.6 387.2h0M448.9 386.1h0M450.2 387.3h0M453.8 386.8h0M454.8 386.7h0M457.4 387.1h0M459.7 386.1h0M461.9 386.5h0M464.5 387.1h0M466.8 386.5h0M469.8 386.4h0M472.6 386.0h0M473.5 387.7h0M476.5 386.6h0M480.0 386.7h0M483.7 386.3h0M484.8 387.1h0M446.7 388.0h0M450.5 389.2h0M455.5 389.0h0M455.9 388.9h0M458.4 388.6h0M461.9 388.7h0M471.1 388.2h0M473.6 388.9h0M474.7 388.2h0M479.8 388.5h0M449.8 391.2h0M451.6 391.0h0M452.7 391.7h0M456.2 389.7h0M458.3 391.7h0M460.8 390.6h0M462.1 390.7h0M465.3 389.9h0M468.6 389.9h0M470.7 390.0h0M447.5 392.6h0M450.8 392.8h0M452.0 393.1h0M458.4 393.5h0M460.9 393.2h0M464.6 391.8h0M465.6 392.9h0M452.0 394.4h0M454.6 394.9h0" stroke="#00ffff" stroke-width="3.5" stroke-linecap="round" fill="none"/>
<path d="M444.6 467.4 L451.3 466.0 L456.8 464.7 L462.2 463.3 L467.6 464.0 L471.0 466.0 L470.3 468.7 L467.6 470.8 L463.5 472.8 L458.1 475.5 L455.4 479.6 L451.3 483.6 L447.3 486.3 L444.6 487.7 L443.9 483.6 L444.6 478.2 L445.2 472.8 Z" fill="#00ffff"/><path d="M454.9 465.7h0M458.6 465.9h0M459.7 465.1h0M463.1 464.5h0M464.1 464.7h0M448.3 466.9h0M448.9 466.7h0M451.8 466.0h0M454.5 466.9h0M456.9 467.4h0M458.2 467.0h0M460.8 467.9h0M467.1 466.7h0M446.0 468.7h0M448.4 469.9h0M450.7 468.8h0M452.5 469.0h0M457.1 469.3h0M460.1 468.0h0M461.9 468.8h0M464.7 468.5h0M467.9 468.3h0M468.9 469.8h0M447.1 470.6h0M449.2 470.3h0M452.5 470.8h0M455.1 471.6h0M457.1 471.0h0M459.0 470.4h0M461.3 471.4h0M462.6 470.3h0M465.3 469.9h0M446.9 472.3h0M447.5 473.6h0M450.5 472.2h0M453.6 473.6h0M455.2 473.2h0M458.2 472.4h0M459.8 473.8h0M462.1 473.3h0M445.4 474.6h0M446.4 475.9h0M449.8 475.7h0M452.0 474.7h0M454.2 475.0h0M456.9 473.9h0M446.2 477.8h0M447.8 476.1h0M449.9 476.9h0M452.2 476.0h0M455.9 476.9h0M445.0 479.2h0M447.9 479.7h0M449.2 479.2h0M451.1 478.5h0M454.3 478.1h0M446.8 480.5h0M448.2 480.0h0M451.7 480.3h0M446.1 482.0h0M446.6 482.7h0M445.5 484.0h0M448.6 484.4h0" stroke="#00ffff" stroke-width="3.5" stroke-linecap="round" fill="none"/>
<path d="M438.9 461.1h0M439.1 462.6h0M438.3 465.5h0M436.6 467.2h0" stroke="#00ffff" stroke-width="3.5" stroke-linecap="round" fill="none"/>
<path d="M439.0 357.6 L441.4 356.7 L442.3 359.5 L442.5 364.2 L444.2 368.9 L445.6 373.7 L446.5 376.5 L447.0 380.2 L447.9 385.0 L450.3 391.5 L451.2 395.3 L448.9 397.2 L445.1 398.1 L442.3 396.3 L441.8 391.5 L442.3 387.8 L442.3 383.1 L440.9 379.3 L439.9 375.5 L439.0 370.8 L438.5 365.2 L438.1 360.5 Z" fill="#000"/><path d="M439.3 358.1h0M441.0 357.6h0M439.2 359.7h0M440.9 359.2h0M438.2 360.2h0M439.7 360.6h0M441.5 361.2h0M439.4 362.4h0M439.9 361.9h0M442.3 362.4h0M438.4 363.3h0M439.4 363.1h0M441.6 363.6h0M438.7 364.5h0M440.0 365.3h0M442.3 365.1h0M440.1 366.0h0M441.6 365.9h0M440.5 367.7h0M441.5 367.2h0M443.3 368.1h0M439.6 369.1h0M441.0 369.4h0M442.8 368.4h0M440.2 369.8h0M442.0 370.5h0M443.1 370.2h0M439.2 371.7h0M441.5 371.9h0M442.7 371.9h0M443.9 371.7h0M440.9 373.5h0M441.8 373.4h0M443.1 373.0h0M445.1 373.0h0M440.1 374.4h0M441.8 374.0h0M442.7 374.1h0M445.0 374.4h0M440.6 375.9h0M442.1 375.7h0M444.1 375.5h0M445.5 375.7h0M441.2 377.8h0M443.0 376.8h0M444.3 377.4h0M446.2 376.8h0M440.7 378.2h0M441.7 378.3h0M443.6 379.1h0M444.9 378.4h0M442.5 379.9h0M444.8 380.4h0M446.4 380.0h0M443.2 382.0h0M444.9 381.5h0M446.7 381.3h0M442.5 383.1h0M445.0 382.7h0M446.5 382.3h0M447.3 383.4h0M442.5 384.7h0M444.0 384.6h0M445.0 384.0h0M446.4 383.7h0M442.5 386.1h0M444.5 386.1h0M446.3 385.3h0M447.9 385.4h0M444.1 387.4h0M445.7 387.3h0M446.8 386.9h0M448.5 386.7h0M443.0 388.3h0M444.2 388.8h0M445.8 387.9h0M447.8 388.1h0M443.3 389.9h0M445.8 389.6h0M446.8 389.4h0M447.9 390.0h0M443.4 390.8h0M444.0 391.1h0M446.6 391.0h0M447.2 391.3h0M449.5 390.9h0M442.0 392.9h0M443.2 393.0h0M445.5 392.2h0M447.1 392.6h0M448.2 392.4h0M449.7 392.5h0M443.3 394.1h0M444.9 394.2h0M445.9 393.7h0M448.1 393.6h0M449.6 394.2h0M450.5 393.4h0M442.3 395.8h0M443.3 394.8h0M444.9 394.9h0M446.9 395.2h0M449.0 395.3h0M450.1 394.8h0M444.8 396.6h0M446.2 396.7h0M447.7 397.2h0M449.4 396.8h0M445.2 397.6h0" stroke="#000" stroke-width="3.5" stroke-linecap="round" fill="none"/>
<path d="M438.5 411.6 L440.5 412.3 L441.2 417.1 L440.5 422.5 L439.1 422.5 L438.5 417.1 Z" fill="#000"/><path d="M438.9 412.0h0M440.2 413.1h0M438.9 413.7h0M440.6 413.8h0M440.1 415.3h0M439.4 417.3h0M440.0 418.7h0M439.3 419.3h0M440.3 420.8h0" stroke="#000" stroke-width="3.5" stroke-linecap="round" fill="none"/>
<path d="M444.7 460.7h0M446.9 461.3h0M448.7 460.6h0M450.1 461.4h0M451.9 462.2h0M443.9 463.4h0M446.6 464.0h0M451.2 463.8h0M443.9 465.3h0M447.9 464.9h0M448.9 465.8h0M451.0 465.7h0M446.5 466.7h0M450.3 466.5h0" stroke="#000" stroke-width="3.5" stroke-linecap="round" fill="none"/>
<path d="M443.4 468.3h0M444.4 468.3h0M440.7 469.7h0M444.2 469.9h0M442.1 470.9h0M442.8 470.9h0M443.5 472.8h0M440.5 475.0h0M444.4 478.5h0M441.5 479.2h0M441.1 482.8h0M439.1 483.5h0M442.1 484.3h0M439.8 484.6h0M439.8 487.0h0M440.5 486.6h0M442.9 486.9h0M441.9 487.9h0" stroke="#000" stroke-width="3.5" stroke-linecap="round" fill="none"/>
<path d="M439.4 426.7h0M438.9 434.8h0M438.9 445.7h0M440.5 456.5h0M439.0 377.0h0M438.5 382.1h0" stroke="#000" stroke-width="3.4" stroke-linecap="round" fill="none"/>
<line x1="433.8" x2="511.7" y1="454.1" y2="454.1" stroke="#ff0000" stroke-opacity="0.5" stroke-width="1.8"/>
<line x1="433.8" x2="511.7" y1="460.6" y2="460.6" stroke="#ff0000" stroke-opacity="0.5" stroke-width="1.8"/>
<line x1="436.7" x2="436.7" y1="494.1" y2="353.9" stroke="#ff0000" stroke-opacity="0.45" stroke-width="3.4" stroke-dasharray="6.3 2.9"/>
</g>
<rect x="433.8" y="353.9" width="77.9" height="139.7" fill="none" stroke="#262626" stroke-width="1"/>
<line x1="429.8" x2="433.8" y1="489.9" y2="489.9" stroke="#262626" stroke-width="1"/>
<line x1="429.8" x2="433.8" y1="456.8" y2="456.8" stroke="#262626" stroke-width="1"/>
<line x1="429.8" x2="433.8" y1="423.7" y2="423.7" stroke="#262626" stroke-width="1"/>
<line x1="429.8" x2="433.8" y1="390.6" y2="390.6" stroke="#262626" stroke-width="1"/>
<line x1="429.8" x2="433.8" y1="357.5" y2="357.5" stroke="#262626" stroke-width="1"/>
<line x1="433.8" x2="433.8" y1="493.6" y2="497.6" stroke="#262626" stroke-width="1"/>
<text x="433.8" y="509.8" font-size="11.4" text-anchor="middle" textLength="6.9" lengthAdjust="spacingAndGlyphs">0</text>
<line x1="499.8" x2="499.8" y1="493.6" y2="497.6" stroke="#262626" stroke-width="1"/>
<text x="499.8" y="509.8" font-size="11.4" text-anchor="middle" textLength="13.8" lengthAdjust="spacingAndGlyphs">20</text>
<text y="527.4" font-size="11.2" style="stroke-width:0.15px"><tspan x="432.6" textLength="63.6" lengthAdjust="spacingAndGlyphs">Speed [m s</tspan><tspan x="497.4" y="523.0" font-size="8.2" textLength="10" lengthAdjust="spacingAndGlyphs">−1</tspan><tspan x="509.8" y="527.4">]</tspan></text>
<g clip-path="url(#c25)">
<path d="M529.9 359.5h0M533.1 359.7h0M534.7 359.7h0M536.5 360.1h0M530.9 361.0h0M532.6 361.0h0M534.8 361.9h0M537.7 360.2h0M539.5 361.7h0M541.4 360.3h0M543.7 361.8h0M530.6 362.3h0M532.1 364.1h0M534.1 364.0h0M535.6 362.5h0M538.6 363.0h0M541.1 362.7h0M542.6 362.9h0M544.9 363.2h0M530.2 364.3h0M532.2 365.8h0M535.5 365.7h0M538.8 364.4h0M540.3 365.5h0M542.6 365.6h0M545.7 365.5h0M546.2 365.9h0M531.2 366.4h0M534.9 366.7h0M537.0 367.2h0M538.7 367.3h0M542.3 368.0h0M543.0 366.7h0M546.6 366.9h0M547.5 367.6h0M550.9 367.9h0M553.4 367.9h0M530.0 369.4h0M533.5 368.1h0M535.3 369.0h0M537.3 369.9h0M540.0 369.9h0M543.4 368.9h0M545.1 368.5h0M546.5 369.0h0M549.3 369.6h0M552.0 369.6h0M554.6 369.6h0M529.7 370.2h0M531.6 371.1h0M533.5 371.6h0M536.4 370.3h0M539.7 372.0h0M540.2 370.7h0M544.2 370.6h0M545.0 371.9h0M548.1 372.1h0M550.5 371.0h0M553.5 371.1h0M556.0 371.7h0M557.1 371.5h0M531.8 373.3h0M532.2 373.3h0M535.8 374.1h0M537.7 373.0h0M539.9 374.1h0M541.7 373.2h0M545.3 373.5h0M546.3 373.6h0M549.5 373.4h0M552.2 372.8h0M554.8 373.2h0M556.2 373.2h0M558.2 372.0h0M560.3 373.0h0M530.3 374.2h0M532.9 375.2h0M534.4 374.4h0M537.6 376.0h0M539.3 374.2h0M541.2 374.8h0M542.5 375.0h0M545.4 375.5h0M547.7 375.4h0M550.1 376.0h0M553.5 375.0h0M555.4 374.3h0M556.9 375.4h0M559.7 375.0h0M561.4 375.1h0M565.0 376.0h0M531.4 377.6h0M532.3 377.8h0M536.4 377.6h0M540.5 376.6h0M541.7 376.3h0M544.3 377.9h0M547.9 376.8h0M549.9 377.9h0M551.8 376.7h0M554.7 377.4h0M556.1 377.1h0M557.8 376.4h0M560.0 377.9h0M563.4 376.9h0M565.5 376.6h0M567.0 376.3h0M569.4 377.6h0M531.6 379.6h0M534.4 378.9h0M536.2 378.2h0M538.0 378.6h0M541.0 379.4h0M543.3 378.0h0M545.2 379.3h0M548.4 378.9h0M549.7 378.9h0M551.8 379.9h0M555.8 378.1h0M557.7 378.9h0M560.5 379.3h0M562.5 378.7h0M565.0 379.5h0M566.1 379.1h0M568.6 379.8h0M572.1 378.9h0M530.3 380.3h0M532.2 381.1h0M535.4 381.0h0M538.6 381.6h0M539.7 381.5h0M542.3 380.2h0M544.7 381.8h0M546.5 381.2h0M549.9 381.3h0M552.2 380.1h0M553.9 380.2h0M556.3 380.4h0M558.7 380.3h0M560.9 380.3h0M563.8 380.5h0M565.1 381.7h0M567.6 381.0h0M569.9 381.3h0M573.2 381.1h0M531.7 383.5h0M535.4 382.5h0M536.3 383.2h0M539.4 383.9h0M540.4 383.9h0M544.5 382.6h0M544.9 382.2h0M547.7 382.4h0M550.4 383.8h0M553.7 383.0h0M554.2 383.5h0M556.7 382.0h0M559.2 383.4h0M562.9 382.2h0M563.7 383.5h0M565.8 383.8h0M569.7 383.0h0M570.1 383.5h0M573.0 382.9h0M579.0 383.8h0M531.0 384.1h0M532.8 384.9h0M535.9 385.0h0M537.1 384.3h0M541.1 385.4h0M542.5 385.8h0M545.2 385.5h0M548.0 385.5h0M548.4 385.8h0M552.5 384.5h0M553.2 385.9h0M556.9 385.1h0M557.6 384.7h0M561.2 384.9h0M562.7 385.9h0M568.2 385.4h0M570.6 385.8h0M571.8 385.7h0M573.6 385.0h0M576.3 384.8h0M579.3 386.0h0M530.1 386.0h0M531.9 386.6h0M533.4 387.3h0M536.7 387.2h0M539.5 386.4h0M540.4 386.3h0M542.7 386.5h0M545.6 387.7h0M547.3 386.8h0M550.0 386.6h0M553.0 386.9h0M554.7 386.6h0M558.0 386.9h0M559.3 386.7h0M561.1 386.7h0M564.1 387.5h0M566.7 387.9h0M568.5 387.5h0M571.9 386.7h0M572.5 386.1h0M576.6 387.1h0M577.0 386.3h0M580.3 386.6h0M582.6 387.1h0M584.1 387.3h0M529.9 388.7h0M533.6 388.9h0M536.3 388.5h0M536.8 389.8h0M539.6 389.6h0M541.4 388.2h0M544.6 388.6h0M547.8 389.0h0M548.7 389.1h0M552.5 389.1h0M554.2 389.7h0M557.2 389.8h0M558.4 388.6h0M561.8 389.7h0M562.1 388.0h0M564.9 389.0h0M567.9 388.8h0M570.9 388.9h0M572.9 389.2h0M574.2 390.0h0M577.3 389.8h0M579.4 388.9h0M581.0 389.9h0M584.1 389.8h0M585.6 388.1h0M587.5 389.5h0M531.2 390.2h0M535.3 390.0h0M536.8 392.0h0M538.3 391.0h0M541.0 391.1h0M543.8 391.8h0M546.3 391.9h0M547.9 391.4h0M550.0 391.6h0M553.4 391.1h0M556.0 390.5h0M556.6 390.5h0M559.0 391.2h0M562.4 390.6h0M564.3 390.4h0M566.8 390.4h0M529.9 392.9h0M532.6 392.1h0M535.2 393.9h0M537.9 392.7h0M540.3 392.0h0M541.5 393.5h0M545.4 392.3h0M547.8 393.2h0M550.1 393.3h0M550.9 392.5h0M553.1 392.9h0M530.5 394.6h0M531.2 394.8h0M535.1 395.6h0M535.8 394.8h0M538.2 395.7h0M540.9 395.6h0M543.3 395.4h0M545.9 394.7h0M548.7 394.3h0M531.5 397.4h0M534.0 397.2h0M535.0 397.9h0M537.7 397.5h0M540.0 396.2h0M543.4 396.1h0M530.5 399.6h0M532.9 398.2h0M534.2 398.3h0M536.9 399.5h0M538.8 398.6h0M530.5 400.8h0M533.5 400.3h0M535.6 401.4h0M537.4 400.8h0M539.1 401.6h0M530.4 402.7h0M531.5 402.9h0M533.8 403.5h0M535.8 403.4h0M538.3 403.8h0M531.5 404.4h0M532.3 404.7h0M535.5 404.6h0M537.3 404.3h0M530.3 407.0h0M531.8 406.2h0M534.7 406.8h0M537.5 406.9h0M539.4 406.0h0M531.8 407.9h0M532.5 408.2h0M535.0 409.0h0M538.1 408.6h0M530.7 410.4h0M532.7 411.1h0M534.8 411.5h0M537.5 410.3h0M538.1 410.9h0M531.8 411.9h0M533.0 413.1h0M535.8 413.7h0M532.2 415.6h0M535.3 415.4h0M536.6 415.9h0M530.2 417.0h0M533.2 416.7h0M534.5 417.6h0M531.4 419.6h0M531.1 420.0h0M532.5 420.7h0" stroke="#00ffff" stroke-width="3.5" stroke-linecap="round" fill="none"/>
<path d="M536.6 473.1h0M534.3 475.1h0M536.0 476.0h0M537.4 475.7h0M535.9 477.7h0M532.6 480.9h0M538.3 480.6h0M534.8 482.2h0M540.0 483.4h0M533.5 484.8h0M535.3 485.2h0M538.0 484.2h0M540.5 484.4h0M532.9 486.1h0M536.7 486.0h0M540.1 485.8h0M541.0 485.5h0M543.0 487.2h0M538.2 487.5h0M541.7 487.4h0" stroke="#00ffff" stroke-width="3.5" stroke-linecap="round" fill="none"/>
<path d="M527.7 427.4h0M531.8 431.9h0" stroke="#00ffff" stroke-width="3.4" stroke-linecap="round" fill="none"/>
<path d="M534.8 361.0h0M534.6 363.1h0M537.5 364.6h0M535.1 365.3h0M534.1 369.6h0M535.6 370.1h0M540.9 370.0h0M535.2 371.3h0M541.7 370.5h0M533.9 372.8h0M537.4 374.8h0M546.4 376.2h0M534.8 377.9h0M531.4 379.3h0M538.7 378.8h0M539.8 379.0h0M546.3 379.7h0M535.9 381.1h0M537.8 381.9h0M547.8 382.1h0M543.4 384.9h0M545.2 386.7h0M546.6 386.3h0M541.5 388.0h0M538.7 388.5h0M533.1 390.2h0M534.6 390.0h0M544.7 390.0h0M548.1 389.9h0M532.3 391.9h0M532.3 393.6h0M546.0 392.8h0M534.1 397.0h0M535.7 398.6h0M532.0 401.9h0M533.6 401.1h0M532.4 405.2h0M534.4 406.1h0M535.8 406.1h0" stroke="#000" stroke-width="3.5" stroke-linecap="round" fill="none"/>
<path d="M536.0 397.0h0M536.6 400.2h0M535.2 402.4h0M533.0 407.6h0M532.9 409.3h0M536.1 409.3h0M538.1 408.7h0M535.4 409.9h0M535.3 415.8h0" stroke="#000" stroke-width="3.5" stroke-linecap="round" fill="none"/>
<path d="M532.5 470.5h0M533.9 470.1h0M532.9 473.6h0M533.6 473.0h0M535.2 478.0h0M535.8 478.5h0M537.1 478.8h0M536.9 480.0h0M537.9 481.2h0M536.2 483.2h0" stroke="#000" stroke-width="3.5" stroke-linecap="round" fill="none"/>
<path d="M539.2 488.0h0" stroke="#000" stroke-width="3.4" stroke-linecap="round" fill="none"/>
<line x1="527.2" x2="605.1" y1="467.4" y2="467.4" stroke="#ff0000" stroke-opacity="0.5" stroke-width="1.8"/>
<line x1="530.7" x2="530.7" y1="494.1" y2="353.9" stroke="#ff0000" stroke-opacity="0.5" stroke-width="1.8" stroke-dasharray="6.3 2.9"/>
</g>
<rect x="527.2" y="353.9" width="77.9" height="139.7" fill="none" stroke="#262626" stroke-width="1"/>
<line x1="523.2" x2="527.2" y1="489.9" y2="489.9" stroke="#262626" stroke-width="1"/>
<line x1="523.2" x2="527.2" y1="456.8" y2="456.8" stroke="#262626" stroke-width="1"/>
<line x1="523.2" x2="527.2" y1="423.7" y2="423.7" stroke="#262626" stroke-width="1"/>
<line x1="523.2" x2="527.2" y1="390.6" y2="390.6" stroke="#262626" stroke-width="1"/>
<line x1="523.2" x2="527.2" y1="357.5" y2="357.5" stroke="#262626" stroke-width="1"/>
<line x1="527.2" x2="527.2" y1="493.6" y2="497.6" stroke="#262626" stroke-width="1"/>
<text x="527.2" y="509.8" font-size="11.4" text-anchor="middle" textLength="6.9" lengthAdjust="spacingAndGlyphs">0</text>
<line x1="593.2" x2="593.2" y1="493.6" y2="497.6" stroke="#262626" stroke-width="1"/>
<text x="593.2" y="509.8" font-size="11.4" text-anchor="middle" textLength="13.8" lengthAdjust="spacingAndGlyphs">20</text>
<text y="527.4" font-size="11.2" style="stroke-width:0.15px"><tspan x="526" textLength="63.6" lengthAdjust="spacingAndGlyphs">Speed [m s</tspan><tspan x="590.8" y="523.0" font-size="8.2" textLength="10" lengthAdjust="spacingAndGlyphs">−1</tspan><tspan x="603.2" y="527.4">]</tspan></text>
<g clip-path="url(#c26)">
<path d="M624.1 357.4 L631.6 356.7 L639.7 356.7 L642.4 358.8 L641.0 362.8 L640.4 366.9 L642.4 371.0 L641.7 375.0 L645.1 377.8 L650.5 380.5 L654.6 383.2 L656.0 387.2 L653.2 391.3 L653.9 396.7 L651.9 400.8 L646.5 402.1 L641.0 403.5 L637.0 404.9 L634.3 407.6 L631.6 411.6 L628.8 411.6 L626.1 408.9 L623.4 404.9 L623.4 392.7 L624.1 379.1 L624.1 365.6 Z" fill="#00ffff"/><path d="M630.0 357.4h0M624.2 357.5h0M628.6 359.3h0M630.9 358.9h0M631.9 357.8h0M637.0 358.9h0M640.3 358.2h0M641.2 358.9h0M624.6 359.4h0M627.6 361.2h0M628.8 360.4h0M631.9 360.9h0M633.0 360.1h0M636.1 360.2h0M638.2 359.7h0M640.7 360.2h0M625.7 362.2h0M627.4 362.6h0M630.8 362.4h0M633.0 363.2h0M635.0 362.9h0M637.1 363.2h0M625.0 363.5h0M627.1 364.1h0M629.4 363.5h0M631.1 365.4h0M634.3 363.8h0M637.1 364.4h0M638.2 363.6h0M626.4 366.6h0M629.6 365.4h0M632.6 366.5h0M635.1 367.0h0M636.5 366.8h0M626.5 368.1h0M629.9 368.9h0M632.0 368.7h0M634.3 367.7h0M636.6 367.7h0M638.7 367.9h0M640.5 368.4h0M626.3 370.0h0M628.9 369.5h0M630.2 371.0h0M633.1 369.8h0M635.4 369.4h0M637.3 369.9h0M639.7 370.0h0M640.9 371.3h0M625.1 373.0h0M627.5 372.3h0M630.0 373.4h0M631.5 371.6h0M633.3 372.0h0M635.7 372.7h0M639.4 373.2h0M640.6 371.4h0M625.3 375.4h0M627.9 374.7h0M631.1 374.9h0M633.3 374.6h0M634.7 373.4h0M636.7 373.8h0M639.7 373.6h0M625.1 376.3h0M627.8 377.3h0M629.4 375.5h0M631.0 376.8h0M635.6 375.7h0M638.6 376.0h0M640.7 377.4h0M643.7 377.0h0M625.0 377.8h0M627.7 378.6h0M630.8 377.7h0M632.1 378.1h0M633.9 378.7h0M636.6 378.7h0M639.9 377.5h0M642.0 378.6h0M643.4 377.6h0M626.1 380.5h0M628.6 380.9h0M630.7 381.1h0M633.3 381.2h0M635.2 379.5h0M638.7 379.9h0M640.5 379.8h0M642.2 380.2h0M646.2 379.9h0M648.2 379.5h0M626.1 382.4h0M628.7 383.0h0M631.1 382.4h0M631.8 382.1h0M634.5 381.4h0M637.7 383.0h0M642.6 383.0h0M644.4 381.5h0M645.9 381.3h0M649.4 382.0h0M651.6 382.8h0M624.6 385.0h0M626.2 384.9h0M628.8 383.7h0M630.8 383.9h0M634.8 383.7h0M637.8 384.5h0M641.3 384.5h0M644.4 384.6h0M648.3 384.3h0M649.3 384.2h0M651.9 384.4h0M653.5 385.3h0M623.7 387.1h0M626.0 386.5h0M628.6 386.3h0M630.7 386.2h0M631.7 385.4h0M635.8 386.8h0M636.7 385.8h0M641.6 386.5h0M644.6 387.0h0M646.4 387.3h0M649.1 386.0h0M651.1 387.3h0M653.7 385.8h0M655.6 386.3h0M624.6 389.1h0M626.0 387.4h0M629.2 388.0h0M630.6 388.7h0M633.8 388.4h0M636.6 387.4h0M637.6 388.1h0M640.2 387.7h0M642.6 387.6h0M644.4 388.2h0M647.3 388.2h0M648.9 388.1h0M651.6 388.0h0M655.0 387.7h0M628.8 391.2h0M631.3 389.4h0M634.6 390.7h0M636.9 390.6h0M640.4 391.2h0M641.1 389.7h0M644.0 391.1h0M646.7 389.6h0M648.5 389.6h0M650.5 391.0h0M653.3 391.1h0M624.6 392.7h0M627.3 391.4h0M629.4 393.0h0M632.4 392.8h0M634.0 392.0h0M635.8 391.6h0M638.1 391.4h0M641.3 391.3h0M643.4 391.6h0M646.0 392.8h0M648.3 392.4h0M650.6 392.5h0M652.9 392.3h0M624.8 394.9h0M627.7 394.6h0M630.8 395.1h0M632.4 393.7h0M635.5 394.0h0M637.3 394.3h0M639.6 394.1h0M642.0 394.7h0M645.0 394.8h0M645.5 394.5h0M649.0 393.9h0M651.4 393.3h0M653.3 395.3h0M626.1 396.9h0M629.0 396.7h0M632.3 397.2h0M633.8 396.1h0M638.4 395.8h0M640.1 397.0h0M642.7 397.1h0M645.3 396.1h0M647.9 395.4h0M650.5 397.3h0M652.5 396.4h0M623.5 398.6h0M626.3 397.3h0M627.1 397.5h0M630.0 398.2h0M632.3 399.3h0M635.6 397.9h0M636.4 399.1h0M639.6 398.2h0M642.2 397.6h0M644.6 398.7h0M646.9 398.5h0M648.1 398.1h0M650.8 397.5h0M625.3 401.1h0M626.6 400.3h0M632.1 399.6h0M633.5 400.6h0M635.3 401.3h0M637.6 401.2h0M643.4 400.6h0M645.8 400.1h0M647.4 399.9h0M650.1 399.4h0M624.2 401.4h0M625.6 403.2h0M628.1 402.5h0M629.6 401.3h0M632.3 401.4h0M634.9 402.0h0M638.1 402.9h0M639.4 402.9h0M642.4 401.6h0M644.9 401.2h0M624.1 404.0h0M627.8 403.8h0M629.2 404.6h0M632.4 404.4h0M633.2 403.9h0M635.4 404.2h0M625.9 406.1h0M627.7 406.3h0M630.0 406.8h0M632.1 406.9h0M635.6 406.0h0M626.4 408.4h0M629.5 408.7h0M630.9 407.6h0M633.5 408.3h0M627.2 409.5h0M630.3 410.1h0M629.0 411.4h0" stroke="#00ffff" stroke-width="3.5" stroke-linecap="round" fill="none"/>
<path d="M625.5 463.3 L628.8 464.7 L631.6 468.7 L634.9 472.1 L638.3 478.2 L641.7 479.6 L643.8 483.6 L642.4 489.1 L639.7 491.1 L631.6 491.1 L626.1 490.4 L624.8 485.0 L625.5 478.2 L624.8 470.1 Z" fill="#00ffff"/><path d="M629.2 465.9h0M625.3 467.4h0M628.3 466.1h0M625.5 468.3h0M626.1 468.3h0M629.4 468.2h0M631.1 469.1h0M626.1 471.8h0M627.5 470.7h0M631.2 471.2h0M632.2 471.6h0M626.5 473.1h0M629.6 472.3h0M632.5 473.7h0M634.7 474.0h0M635.8 473.8h0M625.8 475.4h0M627.9 475.6h0M630.3 474.6h0M632.1 475.8h0M635.0 475.1h0M625.4 477.3h0M627.7 476.6h0M629.9 476.5h0M632.6 477.6h0M634.8 477.8h0M635.7 477.2h0M625.8 479.1h0M627.3 477.9h0M630.5 478.0h0M633.1 479.5h0M634.3 479.6h0M637.1 480.0h0M639.1 479.4h0M625.3 480.0h0M626.6 481.6h0M630.4 480.6h0M631.3 481.0h0M635.7 480.4h0M639.6 480.5h0M641.5 480.1h0M625.5 483.6h0M629.3 483.3h0M629.7 483.1h0M632.6 482.5h0M635.7 483.5h0M636.5 483.8h0M639.7 483.6h0M642.1 483.1h0M625.3 484.9h0M627.8 484.9h0M632.0 485.8h0M634.8 484.5h0M635.6 484.3h0M639.3 485.4h0M640.2 485.5h0M642.2 485.2h0M629.1 486.5h0M630.1 486.1h0M631.9 487.5h0M634.9 486.8h0M637.9 487.8h0M640.4 486.6h0M642.4 486.5h0M626.7 489.7h0M630.4 489.4h0M632.1 489.9h0M633.6 489.9h0M636.0 489.3h0M637.8 489.8h0M640.3 489.7h0M627.6 490.2h0M631.0 490.8h0M633.7 490.0h0M635.6 491.0h0M639.5 489.9h0" stroke="#00ffff" stroke-width="3.5" stroke-linecap="round" fill="none"/>
<path d="M625.3 361.4h0M625.9 372.6h0M625.4 374.2h0M626.9 375.7h0M629.9 385.8h0M631.4 392.2h0M630.0 393.2h0M627.7 396.2h0M631.8 396.2h0M636.9 395.9h0M628.4 399.1h0M630.1 398.4h0M637.9 401.6h0M636.3 403.2h0M637.5 402.9h0M628.9 404.5h0M628.1 405.7h0M629.4 408.6h0M631.2 407.9h0" stroke="#000" stroke-width="3.5" stroke-linecap="round" fill="none"/>
<path d="M628.9 391.7h0M628.4 392.8h0M633.3 393.5h0" stroke="#000" stroke-width="3.5" stroke-linecap="round" fill="none"/>
<path d="M630.9 405.5h0M631.4 407.2h0M630.9 410.1h0" stroke="#000" stroke-width="3.5" stroke-linecap="round" fill="none"/>
<path d="M625.1 461.8h0M626.8 461.7h0M626.0 466.2h0M627.1 465.6h0M626.2 470.6h0M629.2 470.1h0M627.7 471.8h0M628.5 471.5h0M630.9 473.0h0M627.5 476.2h0M629.7 478.0h0M631.4 480.8h0M629.8 482.3h0M627.5 484.1h0M628.5 488.2h0M630.6 490.6h0" stroke="#000" stroke-width="3.5" stroke-linecap="round" fill="none"/>
<path d="M630.2 416.0h0" stroke="#000" stroke-width="3.4" stroke-linecap="round" fill="none"/>
<line x1="620.5" x2="698.4" y1="464" y2="464" stroke="#ff0000" stroke-opacity="0.5" stroke-width="1.8"/>
<line x1="620.5" x2="698.4" y1="472" y2="472" stroke="#ff0000" stroke-opacity="0.5" stroke-width="1.8"/>
<line x1="622.6" x2="622.6" y1="494.1" y2="353.9" stroke="#ff0000" stroke-opacity="0.6" stroke-width="3.0" stroke-dasharray="6.3 2.9"/>
</g>
<rect x="620.5" y="353.9" width="77.9" height="139.7" fill="none" stroke="#262626" stroke-width="1"/>
<line x1="616.5" x2="620.5" y1="489.9" y2="489.9" stroke="#262626" stroke-width="1"/>
<line x1="616.5" x2="620.5" y1="456.8" y2="456.8" stroke="#262626" stroke-width="1"/>
<line x1="616.5" x2="620.5" y1="423.7" y2="423.7" stroke="#262626" stroke-width="1"/>
<line x1="616.5" x2="620.5" y1="390.6" y2="390.6" stroke="#262626" stroke-width="1"/>
<line x1="616.5" x2="620.5" y1="357.5" y2="357.5" stroke="#262626" stroke-width="1"/>
<line x1="620.5" x2="620.5" y1="493.6" y2="497.6" stroke="#262626" stroke-width="1"/>
<text x="620.5" y="509.8" font-size="11.4" text-anchor="middle" textLength="6.9" lengthAdjust="spacingAndGlyphs">0</text>
<line x1="686.5" x2="686.5" y1="493.6" y2="497.6" stroke="#262626" stroke-width="1"/>
<text x="686.5" y="509.8" font-size="11.4" text-anchor="middle" textLength="13.8" lengthAdjust="spacingAndGlyphs">20</text>
<text y="527.4" font-size="11.2" style="stroke-width:0.15px"><tspan x="619.3" textLength="63.6" lengthAdjust="spacingAndGlyphs">Speed [m s</tspan><tspan x="684.1" y="523.0" font-size="8.2" textLength="10" lengthAdjust="spacingAndGlyphs">−1</tspan><tspan x="696.5" y="527.4">]</tspan></text>
<text transform="translate(9.2,423.8) rotate(-90)" font-size="11.4" text-anchor="middle" textLength="26" lengthAdjust="spacingAndGlyphs">Sol 3</text>
<text transform="translate(22,423.8) rotate(-90)" font-size="11.3" text-anchor="middle" textLength="136" lengthAdjust="spacingAndGlyphs">Downwind dir [° CW_fN]</text>
</svg></body></html>
